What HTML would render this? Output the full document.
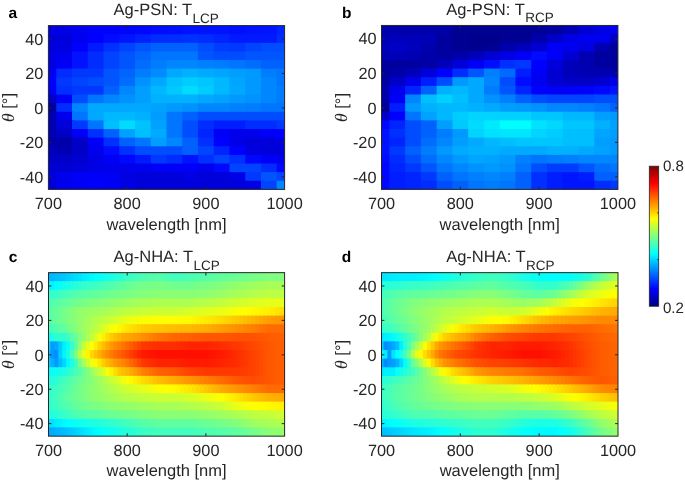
<!DOCTYPE html>
<html><head><meta charset="utf-8"><title>Figure</title>
<style>
html,body{margin:0;padding:0;background:#fff;overflow:hidden;width:685px;height:481px}
svg{display:block}
text{font-family:"Liberation Sans",Arial,Helvetica,sans-serif;fill:#262626;text-rendering:geometricPrecision}
.tk{font-size:16.3px}
.lb{font-size:16.5px}
.sb{font-size:13.5px}
.cbl{font-size:15.1px}
.lt{font-size:15.5px;font-weight:bold;fill:#000}
.th{font-family:"Liberation Serif",serif;font-style:italic;font-size:17.5px}
</style></head><body>
<svg width="685" height="481" viewBox="0 0 685 481">
<rect width="685" height="481" fill="#fff"/>
<rect x="48.40" y="25.60" width="9.87" height="9.82" fill="#0000e2"/>
<rect x="56.27" y="25.60" width="17.75" height="9.82" fill="#0000e6"/>
<rect x="72.02" y="25.60" width="17.75" height="9.82" fill="#0000f1"/>
<rect x="87.77" y="25.60" width="17.75" height="9.82" fill="#0000fb"/>
<rect x="103.51" y="25.60" width="17.75" height="9.82" fill="#0000ff"/>
<rect x="119.26" y="25.60" width="17.75" height="9.82" fill="#0004ff"/>
<rect x="135.01" y="25.60" width="17.75" height="9.82" fill="#0007ff"/>
<rect x="150.75" y="25.60" width="17.75" height="9.82" fill="#000bff"/>
<rect x="166.50" y="25.60" width="17.75" height="9.82" fill="#000eff"/>
<rect x="182.25" y="25.60" width="49.24" height="9.82" fill="#0012ff"/>
<rect x="229.49" y="25.60" width="17.75" height="9.82" fill="#000eff"/>
<rect x="245.23" y="25.60" width="17.75" height="9.82" fill="#0012ff"/>
<rect x="260.98" y="25.60" width="17.75" height="9.82" fill="#0015ff"/>
<rect x="276.73" y="25.60" width="7.87" height="9.82" fill="#0024ff"/>
<rect x="48.40" y="34.22" width="9.87" height="9.82" fill="#0000db"/>
<rect x="56.27" y="34.22" width="17.75" height="9.82" fill="#0000df"/>
<rect x="72.02" y="34.22" width="17.75" height="9.82" fill="#0000f1"/>
<rect x="87.77" y="34.22" width="17.75" height="9.82" fill="#0000ff"/>
<rect x="103.51" y="34.22" width="17.75" height="9.82" fill="#000bff"/>
<rect x="119.26" y="34.22" width="17.75" height="9.82" fill="#0015ff"/>
<rect x="135.01" y="34.22" width="17.75" height="9.82" fill="#0020ff"/>
<rect x="150.75" y="34.22" width="33.49" height="9.82" fill="#002cff"/>
<rect x="182.25" y="34.22" width="17.75" height="9.82" fill="#0030ff"/>
<rect x="197.99" y="34.22" width="17.75" height="9.82" fill="#002cff"/>
<rect x="213.74" y="34.22" width="17.75" height="9.82" fill="#0024ff"/>
<rect x="229.49" y="34.22" width="49.24" height="9.82" fill="#0019ff"/>
<rect x="276.73" y="34.22" width="7.87" height="9.82" fill="#002cff"/>
<rect x="48.40" y="42.84" width="9.87" height="9.82" fill="#0000db"/>
<rect x="56.27" y="42.84" width="17.75" height="9.82" fill="#0000df"/>
<rect x="72.02" y="42.84" width="17.75" height="9.82" fill="#0000fb"/>
<rect x="87.77" y="42.84" width="17.75" height="9.82" fill="#0019ff"/>
<rect x="103.51" y="42.84" width="17.75" height="9.82" fill="#0030ff"/>
<rect x="119.26" y="42.84" width="17.75" height="9.82" fill="#0044ff"/>
<rect x="135.01" y="42.84" width="17.75" height="9.82" fill="#0055ff"/>
<rect x="150.75" y="42.84" width="49.24" height="9.82" fill="#0061ff"/>
<rect x="197.99" y="42.84" width="17.75" height="9.82" fill="#004dff"/>
<rect x="213.74" y="42.84" width="17.75" height="9.82" fill="#003cff"/>
<rect x="229.49" y="42.84" width="17.75" height="9.82" fill="#0038ff"/>
<rect x="245.23" y="42.84" width="17.75" height="9.82" fill="#0044ff"/>
<rect x="260.98" y="42.84" width="23.62" height="9.82" fill="#004dff"/>
<rect x="48.40" y="51.46" width="9.87" height="9.82" fill="#0000e2"/>
<rect x="56.27" y="51.46" width="17.75" height="9.82" fill="#0000f1"/>
<rect x="72.02" y="51.46" width="17.75" height="9.82" fill="#0012ff"/>
<rect x="87.77" y="51.46" width="17.75" height="9.82" fill="#002cff"/>
<rect x="103.51" y="51.46" width="17.75" height="9.82" fill="#0044ff"/>
<rect x="119.26" y="51.46" width="17.75" height="9.82" fill="#0055ff"/>
<rect x="135.01" y="51.46" width="17.75" height="9.82" fill="#0065ff"/>
<rect x="150.75" y="51.46" width="49.24" height="9.82" fill="#0075ff"/>
<rect x="197.99" y="51.46" width="17.75" height="9.82" fill="#0055ff"/>
<rect x="213.74" y="51.46" width="33.49" height="9.82" fill="#004dff"/>
<rect x="245.23" y="51.46" width="39.37" height="9.82" fill="#0055ff"/>
<rect x="48.40" y="60.08" width="9.87" height="9.82" fill="#0000e2"/>
<rect x="56.27" y="60.08" width="17.75" height="9.82" fill="#0000f8"/>
<rect x="72.02" y="60.08" width="17.75" height="9.82" fill="#0012ff"/>
<rect x="87.77" y="60.08" width="17.75" height="9.82" fill="#002cff"/>
<rect x="103.51" y="60.08" width="17.75" height="9.82" fill="#0044ff"/>
<rect x="119.26" y="60.08" width="17.75" height="9.82" fill="#0055ff"/>
<rect x="135.01" y="60.08" width="17.75" height="9.82" fill="#006dff"/>
<rect x="150.75" y="60.08" width="17.75" height="9.82" fill="#007cff"/>
<rect x="166.50" y="60.08" width="33.49" height="9.82" fill="#0087ff"/>
<rect x="197.99" y="60.08" width="17.75" height="9.82" fill="#0080ff"/>
<rect x="213.74" y="60.08" width="17.75" height="9.82" fill="#007cff"/>
<rect x="229.49" y="60.08" width="17.75" height="9.82" fill="#0075ff"/>
<rect x="245.23" y="60.08" width="17.75" height="9.82" fill="#006dff"/>
<rect x="260.98" y="60.08" width="23.62" height="9.82" fill="#0061ff"/>
<rect x="48.40" y="68.71" width="9.87" height="9.82" fill="#0000f8"/>
<rect x="56.27" y="68.71" width="17.75" height="9.82" fill="#002cff"/>
<rect x="72.02" y="68.71" width="33.49" height="9.82" fill="#0038ff"/>
<rect x="103.51" y="68.71" width="17.75" height="9.82" fill="#0055ff"/>
<rect x="119.26" y="68.71" width="17.75" height="9.82" fill="#0065ff"/>
<rect x="135.01" y="68.71" width="17.75" height="9.82" fill="#007cff"/>
<rect x="150.75" y="68.71" width="17.75" height="9.82" fill="#008bff"/>
<rect x="166.50" y="68.71" width="17.75" height="9.82" fill="#00a8ff"/>
<rect x="182.25" y="68.71" width="17.75" height="9.82" fill="#00b1ff"/>
<rect x="197.99" y="68.71" width="17.75" height="9.82" fill="#00abff"/>
<rect x="213.74" y="68.71" width="17.75" height="9.82" fill="#00a5ff"/>
<rect x="229.49" y="68.71" width="17.75" height="9.82" fill="#009fff"/>
<rect x="245.23" y="68.71" width="17.75" height="9.82" fill="#0099ff"/>
<rect x="260.98" y="68.71" width="17.75" height="9.82" fill="#007cff"/>
<rect x="276.73" y="68.71" width="7.87" height="9.82" fill="#0075ff"/>
<rect x="48.40" y="77.33" width="9.87" height="9.82" fill="#0000ff"/>
<rect x="56.27" y="77.33" width="17.75" height="9.82" fill="#0038ff"/>
<rect x="72.02" y="77.33" width="17.75" height="9.82" fill="#0044ff"/>
<rect x="87.77" y="77.33" width="17.75" height="9.82" fill="#004dff"/>
<rect x="103.51" y="77.33" width="17.75" height="9.82" fill="#0055ff"/>
<rect x="119.26" y="77.33" width="17.75" height="9.82" fill="#006dff"/>
<rect x="135.01" y="77.33" width="17.75" height="9.82" fill="#0092ff"/>
<rect x="150.75" y="77.33" width="17.75" height="9.82" fill="#00a8ff"/>
<rect x="166.50" y="77.33" width="17.75" height="9.82" fill="#00c2ff"/>
<rect x="182.25" y="77.33" width="17.75" height="9.82" fill="#00cdff"/>
<rect x="197.99" y="77.33" width="17.75" height="9.82" fill="#00c6ff"/>
<rect x="213.74" y="77.33" width="17.75" height="9.82" fill="#00b8ff"/>
<rect x="229.49" y="77.33" width="17.75" height="9.82" fill="#00a5ff"/>
<rect x="245.23" y="77.33" width="17.75" height="9.82" fill="#0099ff"/>
<rect x="260.98" y="77.33" width="17.75" height="9.82" fill="#0087ff"/>
<rect x="276.73" y="77.33" width="7.87" height="9.82" fill="#0075ff"/>
<rect x="48.40" y="85.95" width="9.87" height="9.82" fill="#0000f8"/>
<rect x="56.27" y="85.95" width="17.75" height="9.82" fill="#0030ff"/>
<rect x="72.02" y="85.95" width="33.49" height="9.82" fill="#0038ff"/>
<rect x="103.51" y="85.95" width="17.75" height="9.82" fill="#0061ff"/>
<rect x="119.26" y="85.95" width="17.75" height="9.82" fill="#0087ff"/>
<rect x="135.01" y="85.95" width="17.75" height="9.82" fill="#009fff"/>
<rect x="150.75" y="85.95" width="17.75" height="9.82" fill="#00b8ff"/>
<rect x="166.50" y="85.95" width="17.75" height="9.82" fill="#00c9ff"/>
<rect x="182.25" y="85.95" width="17.75" height="9.82" fill="#00dbff"/>
<rect x="197.99" y="85.95" width="17.75" height="9.82" fill="#00cdff"/>
<rect x="213.74" y="85.95" width="17.75" height="9.82" fill="#00b8ff"/>
<rect x="229.49" y="85.95" width="17.75" height="9.82" fill="#00a8ff"/>
<rect x="245.23" y="85.95" width="17.75" height="9.82" fill="#0099ff"/>
<rect x="260.98" y="85.95" width="17.75" height="9.82" fill="#0087ff"/>
<rect x="276.73" y="85.95" width="7.87" height="9.82" fill="#007cff"/>
<rect x="48.40" y="94.57" width="9.87" height="9.82" fill="#0000c7"/>
<rect x="56.27" y="94.57" width="17.75" height="9.82" fill="#0000f8"/>
<rect x="72.02" y="94.57" width="17.75" height="9.82" fill="#004dff"/>
<rect x="87.77" y="94.57" width="17.75" height="9.82" fill="#0075ff"/>
<rect x="103.51" y="94.57" width="17.75" height="9.82" fill="#0087ff"/>
<rect x="119.26" y="94.57" width="17.75" height="9.82" fill="#0092ff"/>
<rect x="135.01" y="94.57" width="17.75" height="9.82" fill="#009fff"/>
<rect x="150.75" y="94.57" width="49.24" height="9.82" fill="#00b1ff"/>
<rect x="197.99" y="94.57" width="17.75" height="9.82" fill="#00a8ff"/>
<rect x="213.74" y="94.57" width="17.75" height="9.82" fill="#00a2ff"/>
<rect x="229.49" y="94.57" width="17.75" height="9.82" fill="#0099ff"/>
<rect x="245.23" y="94.57" width="17.75" height="9.82" fill="#0092ff"/>
<rect x="260.98" y="94.57" width="17.75" height="9.82" fill="#0087ff"/>
<rect x="276.73" y="94.57" width="7.87" height="9.82" fill="#007cff"/>
<rect x="48.40" y="103.19" width="9.87" height="9.82" fill="#00009e"/>
<rect x="56.27" y="103.19" width="17.75" height="9.82" fill="#002cff"/>
<rect x="72.02" y="103.19" width="17.75" height="9.82" fill="#0087ff"/>
<rect x="87.77" y="103.19" width="64.99" height="9.82" fill="#00a8ff"/>
<rect x="150.75" y="103.19" width="17.75" height="9.82" fill="#00a2ff"/>
<rect x="166.50" y="103.19" width="17.75" height="9.82" fill="#0099ff"/>
<rect x="182.25" y="103.19" width="17.75" height="9.82" fill="#0092ff"/>
<rect x="197.99" y="103.19" width="33.49" height="9.82" fill="#0087ff"/>
<rect x="229.49" y="103.19" width="17.75" height="9.82" fill="#0080ff"/>
<rect x="245.23" y="103.19" width="17.75" height="9.82" fill="#007cff"/>
<rect x="260.98" y="103.19" width="23.62" height="9.82" fill="#0075ff"/>
<rect x="48.40" y="111.81" width="9.87" height="9.82" fill="#0000b2"/>
<rect x="56.27" y="111.81" width="17.75" height="9.82" fill="#0000ed"/>
<rect x="72.02" y="111.81" width="17.75" height="9.82" fill="#0075ff"/>
<rect x="87.77" y="111.81" width="17.75" height="9.82" fill="#00a8ff"/>
<rect x="103.51" y="111.81" width="33.49" height="9.82" fill="#00b8ff"/>
<rect x="135.01" y="111.81" width="17.75" height="9.82" fill="#00b1ff"/>
<rect x="150.75" y="111.81" width="17.75" height="9.82" fill="#009cff"/>
<rect x="166.50" y="111.81" width="17.75" height="9.82" fill="#0075ff"/>
<rect x="182.25" y="111.81" width="17.75" height="9.82" fill="#0061ff"/>
<rect x="197.99" y="111.81" width="86.61" height="9.82" fill="#004dff"/>
<rect x="48.40" y="120.43" width="9.87" height="9.82" fill="#0000b2"/>
<rect x="56.27" y="120.43" width="17.75" height="9.82" fill="#0000db"/>
<rect x="72.02" y="120.43" width="17.75" height="9.82" fill="#0038ff"/>
<rect x="87.77" y="120.43" width="17.75" height="9.82" fill="#0075ff"/>
<rect x="103.51" y="120.43" width="17.75" height="9.82" fill="#00bfff"/>
<rect x="119.26" y="120.43" width="17.75" height="9.82" fill="#00dbff"/>
<rect x="135.01" y="120.43" width="17.75" height="9.82" fill="#00c2ff"/>
<rect x="150.75" y="120.43" width="17.75" height="9.82" fill="#00a2ff"/>
<rect x="166.50" y="120.43" width="17.75" height="9.82" fill="#0075ff"/>
<rect x="182.25" y="120.43" width="17.75" height="9.82" fill="#004dff"/>
<rect x="197.99" y="120.43" width="17.75" height="9.82" fill="#002cff"/>
<rect x="213.74" y="120.43" width="33.49" height="9.82" fill="#001dff"/>
<rect x="245.23" y="120.43" width="33.49" height="9.82" fill="#002cff"/>
<rect x="276.73" y="120.43" width="7.87" height="9.82" fill="#0038ff"/>
<rect x="48.40" y="129.05" width="9.87" height="9.82" fill="#0000b2"/>
<rect x="56.27" y="129.05" width="17.75" height="9.82" fill="#0000c7"/>
<rect x="72.02" y="129.05" width="17.75" height="9.82" fill="#0000f8"/>
<rect x="87.77" y="129.05" width="17.75" height="9.82" fill="#0030ff"/>
<rect x="103.51" y="129.05" width="17.75" height="9.82" fill="#0061ff"/>
<rect x="119.26" y="129.05" width="17.75" height="9.82" fill="#00a2ff"/>
<rect x="135.01" y="129.05" width="17.75" height="9.82" fill="#00bfff"/>
<rect x="150.75" y="129.05" width="17.75" height="9.82" fill="#00abff"/>
<rect x="166.50" y="129.05" width="17.75" height="9.82" fill="#0075ff"/>
<rect x="182.25" y="129.05" width="17.75" height="9.82" fill="#004dff"/>
<rect x="197.99" y="129.05" width="17.75" height="9.82" fill="#0024ff"/>
<rect x="213.74" y="129.05" width="17.75" height="9.82" fill="#0000f8"/>
<rect x="229.49" y="129.05" width="33.49" height="9.82" fill="#0000ed"/>
<rect x="260.98" y="129.05" width="17.75" height="9.82" fill="#0000f8"/>
<rect x="276.73" y="129.05" width="7.87" height="9.82" fill="#0000ff"/>
<rect x="48.40" y="137.67" width="25.62" height="9.82" fill="#0000aa"/>
<rect x="72.02" y="137.67" width="17.75" height="9.82" fill="#0000c7"/>
<rect x="87.77" y="137.67" width="17.75" height="9.82" fill="#0000f8"/>
<rect x="103.51" y="137.67" width="17.75" height="9.82" fill="#0030ff"/>
<rect x="119.26" y="137.67" width="17.75" height="9.82" fill="#0061ff"/>
<rect x="135.01" y="137.67" width="17.75" height="9.82" fill="#0075ff"/>
<rect x="150.75" y="137.67" width="17.75" height="9.82" fill="#009fff"/>
<rect x="166.50" y="137.67" width="17.75" height="9.82" fill="#0087ff"/>
<rect x="182.25" y="137.67" width="17.75" height="9.82" fill="#0061ff"/>
<rect x="197.99" y="137.67" width="17.75" height="9.82" fill="#0030ff"/>
<rect x="213.74" y="137.67" width="17.75" height="9.82" fill="#0000ff"/>
<rect x="229.49" y="137.67" width="17.75" height="9.82" fill="#0000e6"/>
<rect x="245.23" y="137.67" width="33.49" height="9.82" fill="#0000db"/>
<rect x="276.73" y="137.67" width="7.87" height="9.82" fill="#0000e6"/>
<rect x="48.40" y="146.29" width="9.87" height="9.82" fill="#0000bb"/>
<rect x="56.27" y="146.29" width="17.75" height="9.82" fill="#0000b2"/>
<rect x="72.02" y="146.29" width="17.75" height="9.82" fill="#0000c7"/>
<rect x="87.77" y="146.29" width="17.75" height="9.82" fill="#0000ed"/>
<rect x="103.51" y="146.29" width="17.75" height="9.82" fill="#000bff"/>
<rect x="119.26" y="146.29" width="17.75" height="9.82" fill="#0030ff"/>
<rect x="135.01" y="146.29" width="49.24" height="9.82" fill="#004dff"/>
<rect x="182.25" y="146.29" width="17.75" height="9.82" fill="#0061ff"/>
<rect x="197.99" y="146.29" width="17.75" height="9.82" fill="#0044ff"/>
<rect x="213.74" y="146.29" width="17.75" height="9.82" fill="#0024ff"/>
<rect x="229.49" y="146.29" width="17.75" height="9.82" fill="#0000ff"/>
<rect x="245.23" y="146.29" width="17.75" height="9.82" fill="#0000e2"/>
<rect x="260.98" y="146.29" width="23.62" height="9.82" fill="#0000db"/>
<rect x="48.40" y="154.92" width="25.62" height="9.82" fill="#0000c7"/>
<rect x="72.02" y="154.92" width="17.75" height="9.82" fill="#0000cf"/>
<rect x="87.77" y="154.92" width="17.75" height="9.82" fill="#0000e6"/>
<rect x="103.51" y="154.92" width="17.75" height="9.82" fill="#0000f4"/>
<rect x="119.26" y="154.92" width="17.75" height="9.82" fill="#0007ff"/>
<rect x="135.01" y="154.92" width="17.75" height="9.82" fill="#0019ff"/>
<rect x="150.75" y="154.92" width="17.75" height="9.82" fill="#0038ff"/>
<rect x="166.50" y="154.92" width="17.75" height="9.82" fill="#002cff"/>
<rect x="182.25" y="154.92" width="17.75" height="9.82" fill="#0012ff"/>
<rect x="197.99" y="154.92" width="17.75" height="9.82" fill="#0030ff"/>
<rect x="213.74" y="154.92" width="17.75" height="9.82" fill="#0044ff"/>
<rect x="229.49" y="154.92" width="17.75" height="9.82" fill="#0030ff"/>
<rect x="245.23" y="154.92" width="17.75" height="9.82" fill="#0007ff"/>
<rect x="260.98" y="154.92" width="17.75" height="9.82" fill="#0000f8"/>
<rect x="276.73" y="154.92" width="7.87" height="9.82" fill="#0000ed"/>
<rect x="48.40" y="163.54" width="25.62" height="9.82" fill="#0000d3"/>
<rect x="72.02" y="163.54" width="17.75" height="9.82" fill="#0000db"/>
<rect x="87.77" y="163.54" width="17.75" height="9.82" fill="#0000e2"/>
<rect x="103.51" y="163.54" width="33.49" height="9.82" fill="#0000ea"/>
<rect x="135.01" y="163.54" width="17.75" height="9.82" fill="#0000ed"/>
<rect x="150.75" y="163.54" width="49.24" height="9.82" fill="#0000f8"/>
<rect x="197.99" y="163.54" width="17.75" height="9.82" fill="#0000ed"/>
<rect x="213.74" y="163.54" width="17.75" height="9.82" fill="#0007ff"/>
<rect x="229.49" y="163.54" width="33.49" height="9.82" fill="#0044ff"/>
<rect x="260.98" y="163.54" width="17.75" height="9.82" fill="#002cff"/>
<rect x="276.73" y="163.54" width="7.87" height="9.82" fill="#0007ff"/>
<rect x="48.40" y="172.16" width="9.87" height="9.82" fill="#0000db"/>
<rect x="56.27" y="172.16" width="17.75" height="9.82" fill="#0000ed"/>
<rect x="72.02" y="172.16" width="33.49" height="9.82" fill="#0000f8"/>
<rect x="103.51" y="172.16" width="17.75" height="9.82" fill="#0000f4"/>
<rect x="119.26" y="172.16" width="17.75" height="9.82" fill="#0000e2"/>
<rect x="135.01" y="172.16" width="49.24" height="9.82" fill="#0000db"/>
<rect x="182.25" y="172.16" width="17.75" height="9.82" fill="#0000e2"/>
<rect x="197.99" y="172.16" width="33.49" height="9.82" fill="#0000db"/>
<rect x="229.49" y="172.16" width="17.75" height="9.82" fill="#0000e6"/>
<rect x="245.23" y="172.16" width="17.75" height="9.82" fill="#0038ff"/>
<rect x="260.98" y="172.16" width="17.75" height="9.82" fill="#0055ff"/>
<rect x="276.73" y="172.16" width="7.87" height="9.82" fill="#0044ff"/>
<rect x="48.40" y="180.78" width="9.87" height="8.62" fill="#0000db"/>
<rect x="56.27" y="180.78" width="17.75" height="8.62" fill="#0000ed"/>
<rect x="72.02" y="180.78" width="17.75" height="8.62" fill="#0000f8"/>
<rect x="87.77" y="180.78" width="17.75" height="8.62" fill="#0000ff"/>
<rect x="103.51" y="180.78" width="17.75" height="8.62" fill="#0000f8"/>
<rect x="119.26" y="180.78" width="17.75" height="8.62" fill="#0000e6"/>
<rect x="135.01" y="180.78" width="112.23" height="8.62" fill="#0000db"/>
<rect x="245.23" y="180.78" width="17.75" height="8.62" fill="#0000e6"/>
<rect x="260.98" y="180.78" width="17.75" height="8.62" fill="#0044ff"/>
<rect x="276.73" y="180.78" width="7.87" height="8.62" fill="#0087ff"/>
<rect x="381.50" y="25.45" width="57.16" height="9.83" fill="#0000aa"/>
<rect x="436.66" y="25.45" width="17.76" height="9.83" fill="#0000a6"/>
<rect x="452.42" y="25.45" width="80.80" height="9.83" fill="#000092"/>
<rect x="531.22" y="25.45" width="17.76" height="9.83" fill="#000096"/>
<rect x="546.98" y="25.45" width="17.76" height="9.83" fill="#00009e"/>
<rect x="562.74" y="25.45" width="17.76" height="9.83" fill="#0000b2"/>
<rect x="578.50" y="25.45" width="17.76" height="9.83" fill="#0000d3"/>
<rect x="594.26" y="25.45" width="17.76" height="9.83" fill="#0000e2"/>
<rect x="610.02" y="25.45" width="7.88" height="9.83" fill="#0000f8"/>
<rect x="381.50" y="34.08" width="9.88" height="9.83" fill="#0000b2"/>
<rect x="389.38" y="34.08" width="33.52" height="9.83" fill="#0000bb"/>
<rect x="420.90" y="34.08" width="17.76" height="9.83" fill="#0000b7"/>
<rect x="436.66" y="34.08" width="17.76" height="9.83" fill="#00009e"/>
<rect x="452.42" y="34.08" width="17.76" height="9.83" fill="#000092"/>
<rect x="468.18" y="34.08" width="33.52" height="9.83" fill="#00008e"/>
<rect x="499.70" y="34.08" width="33.52" height="9.83" fill="#000092"/>
<rect x="531.22" y="34.08" width="17.76" height="9.83" fill="#0000aa"/>
<rect x="546.98" y="34.08" width="17.76" height="9.83" fill="#0000c7"/>
<rect x="562.74" y="34.08" width="17.76" height="9.83" fill="#0000e6"/>
<rect x="578.50" y="34.08" width="33.52" height="9.83" fill="#0000f1"/>
<rect x="610.02" y="34.08" width="7.88" height="9.83" fill="#0000c7"/>
<rect x="381.50" y="42.71" width="9.88" height="9.83" fill="#0000bb"/>
<rect x="389.38" y="42.71" width="17.76" height="9.83" fill="#0000c7"/>
<rect x="405.14" y="42.71" width="17.76" height="9.83" fill="#0000bf"/>
<rect x="420.90" y="42.71" width="17.76" height="9.83" fill="#0000ae"/>
<rect x="436.66" y="42.71" width="17.76" height="9.83" fill="#00009e"/>
<rect x="452.42" y="42.71" width="17.76" height="9.83" fill="#000092"/>
<rect x="468.18" y="42.71" width="17.76" height="9.83" fill="#00008e"/>
<rect x="483.94" y="42.71" width="17.76" height="9.83" fill="#000092"/>
<rect x="499.70" y="42.71" width="17.76" height="9.83" fill="#0000aa"/>
<rect x="515.46" y="42.71" width="17.76" height="9.83" fill="#0000bb"/>
<rect x="531.22" y="42.71" width="17.76" height="9.83" fill="#0000d3"/>
<rect x="546.98" y="42.71" width="17.76" height="9.83" fill="#0000f8"/>
<rect x="562.74" y="42.71" width="17.76" height="9.83" fill="#0000f1"/>
<rect x="578.50" y="42.71" width="17.76" height="9.83" fill="#0000e2"/>
<rect x="594.26" y="42.71" width="17.76" height="9.83" fill="#0000b2"/>
<rect x="610.02" y="42.71" width="7.88" height="9.83" fill="#00009e"/>
<rect x="381.50" y="51.34" width="9.88" height="9.83" fill="#0000b2"/>
<rect x="389.38" y="51.34" width="17.76" height="9.83" fill="#0000bb"/>
<rect x="405.14" y="51.34" width="17.76" height="9.83" fill="#0000b2"/>
<rect x="420.90" y="51.34" width="17.76" height="9.83" fill="#0000aa"/>
<rect x="436.66" y="51.34" width="17.76" height="9.83" fill="#0000a2"/>
<rect x="452.42" y="51.34" width="17.76" height="9.83" fill="#0000aa"/>
<rect x="468.18" y="51.34" width="17.76" height="9.83" fill="#0000bb"/>
<rect x="483.94" y="51.34" width="17.76" height="9.83" fill="#0000d3"/>
<rect x="499.70" y="51.34" width="17.76" height="9.83" fill="#0000e6"/>
<rect x="515.46" y="51.34" width="17.76" height="9.83" fill="#0000f8"/>
<rect x="531.22" y="51.34" width="17.76" height="9.83" fill="#000bff"/>
<rect x="546.98" y="51.34" width="17.76" height="9.83" fill="#0000f8"/>
<rect x="562.74" y="51.34" width="17.76" height="9.83" fill="#0000d3"/>
<rect x="578.50" y="51.34" width="17.76" height="9.83" fill="#0000b2"/>
<rect x="594.26" y="51.34" width="17.76" height="9.83" fill="#00009e"/>
<rect x="610.02" y="51.34" width="7.88" height="9.83" fill="#00009a"/>
<rect x="381.50" y="59.97" width="25.64" height="9.83" fill="#00009e"/>
<rect x="405.14" y="59.97" width="17.76" height="9.83" fill="#0000a2"/>
<rect x="420.90" y="59.97" width="17.76" height="9.83" fill="#0000a6"/>
<rect x="436.66" y="59.97" width="17.76" height="9.83" fill="#0000bb"/>
<rect x="452.42" y="59.97" width="17.76" height="9.83" fill="#0000db"/>
<rect x="468.18" y="59.97" width="17.76" height="9.83" fill="#0000f8"/>
<rect x="483.94" y="59.97" width="17.76" height="9.83" fill="#000eff"/>
<rect x="499.70" y="59.97" width="17.76" height="9.83" fill="#0030ff"/>
<rect x="515.46" y="59.97" width="17.76" height="9.83" fill="#0038ff"/>
<rect x="531.22" y="59.97" width="17.76" height="9.83" fill="#0000ff"/>
<rect x="546.98" y="59.97" width="17.76" height="9.83" fill="#0000db"/>
<rect x="562.74" y="59.97" width="17.76" height="9.83" fill="#0000bb"/>
<rect x="578.50" y="59.97" width="17.76" height="9.83" fill="#0000b2"/>
<rect x="594.26" y="59.97" width="17.76" height="9.83" fill="#0000a2"/>
<rect x="610.02" y="59.97" width="7.88" height="9.83" fill="#00009a"/>
<rect x="381.50" y="68.59" width="9.88" height="9.83" fill="#00009e"/>
<rect x="389.38" y="68.59" width="17.76" height="9.83" fill="#0000aa"/>
<rect x="405.14" y="68.59" width="17.76" height="9.83" fill="#0000bb"/>
<rect x="420.90" y="68.59" width="17.76" height="9.83" fill="#0000db"/>
<rect x="436.66" y="68.59" width="17.76" height="9.83" fill="#0000ff"/>
<rect x="452.42" y="68.59" width="17.76" height="9.83" fill="#002cff"/>
<rect x="468.18" y="68.59" width="17.76" height="9.83" fill="#0055ff"/>
<rect x="483.94" y="68.59" width="17.76" height="9.83" fill="#0080ff"/>
<rect x="499.70" y="68.59" width="17.76" height="9.83" fill="#0069ff"/>
<rect x="515.46" y="68.59" width="17.76" height="9.83" fill="#001dff"/>
<rect x="531.22" y="68.59" width="17.76" height="9.83" fill="#0000f8"/>
<rect x="546.98" y="68.59" width="17.76" height="9.83" fill="#0000d3"/>
<rect x="562.74" y="68.59" width="17.76" height="9.83" fill="#0000bb"/>
<rect x="578.50" y="68.59" width="39.40" height="9.83" fill="#0000b2"/>
<rect x="381.50" y="77.22" width="9.88" height="9.83" fill="#0000a2"/>
<rect x="389.38" y="77.22" width="17.76" height="9.83" fill="#0000c7"/>
<rect x="405.14" y="77.22" width="17.76" height="9.83" fill="#0000ed"/>
<rect x="420.90" y="77.22" width="17.76" height="9.83" fill="#001dff"/>
<rect x="436.66" y="77.22" width="17.76" height="9.83" fill="#004dff"/>
<rect x="452.42" y="77.22" width="17.76" height="9.83" fill="#0099ff"/>
<rect x="468.18" y="77.22" width="17.76" height="9.83" fill="#00a8ff"/>
<rect x="483.94" y="77.22" width="17.76" height="9.83" fill="#0087ff"/>
<rect x="499.70" y="77.22" width="17.76" height="9.83" fill="#004dff"/>
<rect x="515.46" y="77.22" width="17.76" height="9.83" fill="#000bff"/>
<rect x="531.22" y="77.22" width="17.76" height="9.83" fill="#0000f1"/>
<rect x="546.98" y="77.22" width="17.76" height="9.83" fill="#0000d3"/>
<rect x="562.74" y="77.22" width="33.52" height="9.83" fill="#0000c7"/>
<rect x="594.26" y="77.22" width="17.76" height="9.83" fill="#0000d3"/>
<rect x="610.02" y="77.22" width="7.88" height="9.83" fill="#0000ed"/>
<rect x="381.50" y="85.85" width="9.88" height="9.83" fill="#0000aa"/>
<rect x="389.38" y="85.85" width="17.76" height="9.83" fill="#0000ed"/>
<rect x="405.14" y="85.85" width="17.76" height="9.83" fill="#0024ff"/>
<rect x="420.90" y="85.85" width="17.76" height="9.83" fill="#0061ff"/>
<rect x="436.66" y="85.85" width="17.76" height="9.83" fill="#00b1ff"/>
<rect x="452.42" y="85.85" width="17.76" height="9.83" fill="#00b8ff"/>
<rect x="468.18" y="85.85" width="17.76" height="9.83" fill="#00a8ff"/>
<rect x="483.94" y="85.85" width="17.76" height="9.83" fill="#007cff"/>
<rect x="499.70" y="85.85" width="17.76" height="9.83" fill="#0055ff"/>
<rect x="515.46" y="85.85" width="17.76" height="9.83" fill="#0024ff"/>
<rect x="531.22" y="85.85" width="17.76" height="9.83" fill="#0000ff"/>
<rect x="546.98" y="85.85" width="33.52" height="9.83" fill="#0000f8"/>
<rect x="578.50" y="85.85" width="17.76" height="9.83" fill="#0000ff"/>
<rect x="594.26" y="85.85" width="17.76" height="9.83" fill="#0007ff"/>
<rect x="610.02" y="85.85" width="7.88" height="9.83" fill="#0012ff"/>
<rect x="381.50" y="94.48" width="9.88" height="9.83" fill="#0000aa"/>
<rect x="389.38" y="94.48" width="17.76" height="9.83" fill="#0000f8"/>
<rect x="405.14" y="94.48" width="17.76" height="9.83" fill="#0087ff"/>
<rect x="420.90" y="94.48" width="17.76" height="9.83" fill="#00bfff"/>
<rect x="436.66" y="94.48" width="17.76" height="9.83" fill="#00d1ff"/>
<rect x="452.42" y="94.48" width="17.76" height="9.83" fill="#00bfff"/>
<rect x="468.18" y="94.48" width="17.76" height="9.83" fill="#00a8ff"/>
<rect x="483.94" y="94.48" width="17.76" height="9.83" fill="#0092ff"/>
<rect x="499.70" y="94.48" width="17.76" height="9.83" fill="#0080ff"/>
<rect x="515.46" y="94.48" width="17.76" height="9.83" fill="#0061ff"/>
<rect x="531.22" y="94.48" width="17.76" height="9.83" fill="#004dff"/>
<rect x="546.98" y="94.48" width="49.28" height="9.83" fill="#0044ff"/>
<rect x="594.26" y="94.48" width="23.64" height="9.83" fill="#004dff"/>
<rect x="381.50" y="103.11" width="9.88" height="9.83" fill="#000096"/>
<rect x="389.38" y="103.11" width="17.76" height="9.83" fill="#001dff"/>
<rect x="405.14" y="103.11" width="17.76" height="9.83" fill="#0099ff"/>
<rect x="420.90" y="103.11" width="17.76" height="9.83" fill="#00b1ff"/>
<rect x="436.66" y="103.11" width="33.52" height="9.83" fill="#00b8ff"/>
<rect x="468.18" y="103.11" width="17.76" height="9.83" fill="#00b1ff"/>
<rect x="483.94" y="103.11" width="17.76" height="9.83" fill="#00abff"/>
<rect x="499.70" y="103.11" width="17.76" height="9.83" fill="#009fff"/>
<rect x="515.46" y="103.11" width="17.76" height="9.83" fill="#0099ff"/>
<rect x="531.22" y="103.11" width="17.76" height="9.83" fill="#0092ff"/>
<rect x="546.98" y="103.11" width="33.52" height="9.83" fill="#0087ff"/>
<rect x="578.50" y="103.11" width="17.76" height="9.83" fill="#0080ff"/>
<rect x="594.26" y="103.11" width="17.76" height="9.83" fill="#0075ff"/>
<rect x="610.02" y="103.11" width="7.88" height="9.83" fill="#0061ff"/>
<rect x="381.50" y="111.74" width="9.88" height="9.83" fill="#0000c7"/>
<rect x="389.38" y="111.74" width="17.76" height="9.83" fill="#0000ff"/>
<rect x="405.14" y="111.74" width="17.76" height="9.83" fill="#0075ff"/>
<rect x="420.90" y="111.74" width="17.76" height="9.83" fill="#00a2ff"/>
<rect x="436.66" y="111.74" width="17.76" height="9.83" fill="#00b8ff"/>
<rect x="452.42" y="111.74" width="17.76" height="9.83" fill="#00cdff"/>
<rect x="468.18" y="111.74" width="33.52" height="9.83" fill="#00d4ff"/>
<rect x="499.70" y="111.74" width="33.52" height="9.83" fill="#00d1ff"/>
<rect x="531.22" y="111.74" width="33.52" height="9.83" fill="#00c6ff"/>
<rect x="562.74" y="111.74" width="33.52" height="9.83" fill="#00b8ff"/>
<rect x="594.26" y="111.74" width="17.76" height="9.83" fill="#009fff"/>
<rect x="610.02" y="111.74" width="7.88" height="9.83" fill="#0099ff"/>
<rect x="381.50" y="120.37" width="9.88" height="9.83" fill="#0007ff"/>
<rect x="389.38" y="120.37" width="17.76" height="9.83" fill="#0024ff"/>
<rect x="405.14" y="120.37" width="17.76" height="9.83" fill="#004dff"/>
<rect x="420.90" y="120.37" width="17.76" height="9.83" fill="#0061ff"/>
<rect x="436.66" y="120.37" width="17.76" height="9.83" fill="#009fff"/>
<rect x="452.42" y="120.37" width="17.76" height="9.83" fill="#00c9ff"/>
<rect x="468.18" y="120.37" width="17.76" height="9.83" fill="#00dbff"/>
<rect x="483.94" y="120.37" width="17.76" height="9.83" fill="#00eaff"/>
<rect x="499.70" y="120.37" width="33.52" height="9.83" fill="#00fdff"/>
<rect x="531.22" y="120.37" width="17.76" height="9.83" fill="#00e2ff"/>
<rect x="546.98" y="120.37" width="17.76" height="9.83" fill="#00d8ff"/>
<rect x="562.74" y="120.37" width="33.52" height="9.83" fill="#00c6ff"/>
<rect x="594.26" y="120.37" width="17.76" height="9.83" fill="#00b1ff"/>
<rect x="610.02" y="120.37" width="7.88" height="9.83" fill="#00a2ff"/>
<rect x="381.50" y="129.00" width="9.88" height="9.83" fill="#0012ff"/>
<rect x="389.38" y="129.00" width="17.76" height="9.83" fill="#0030ff"/>
<rect x="405.14" y="129.00" width="17.76" height="9.83" fill="#004dff"/>
<rect x="420.90" y="129.00" width="17.76" height="9.83" fill="#0061ff"/>
<rect x="436.66" y="129.00" width="17.76" height="9.83" fill="#007cff"/>
<rect x="452.42" y="129.00" width="17.76" height="9.83" fill="#0099ff"/>
<rect x="468.18" y="129.00" width="17.76" height="9.83" fill="#00d4ff"/>
<rect x="483.94" y="129.00" width="17.76" height="9.83" fill="#00e2ff"/>
<rect x="499.70" y="129.00" width="33.52" height="9.83" fill="#00e6ff"/>
<rect x="531.22" y="129.00" width="17.76" height="9.83" fill="#00d4ff"/>
<rect x="546.98" y="129.00" width="17.76" height="9.83" fill="#00cdff"/>
<rect x="562.74" y="129.00" width="33.52" height="9.83" fill="#00bfff"/>
<rect x="594.26" y="129.00" width="17.76" height="9.83" fill="#00a5ff"/>
<rect x="610.02" y="129.00" width="7.88" height="9.83" fill="#009fff"/>
<rect x="381.50" y="137.63" width="9.88" height="9.83" fill="#0012ff"/>
<rect x="389.38" y="137.63" width="17.76" height="9.83" fill="#0024ff"/>
<rect x="405.14" y="137.63" width="17.76" height="9.83" fill="#004dff"/>
<rect x="420.90" y="137.63" width="17.76" height="9.83" fill="#006dff"/>
<rect x="436.66" y="137.63" width="17.76" height="9.83" fill="#0087ff"/>
<rect x="452.42" y="137.63" width="17.76" height="9.83" fill="#009fff"/>
<rect x="468.18" y="137.63" width="17.76" height="9.83" fill="#00abff"/>
<rect x="483.94" y="137.63" width="17.76" height="9.83" fill="#00b8ff"/>
<rect x="499.70" y="137.63" width="17.76" height="9.83" fill="#00bfff"/>
<rect x="515.46" y="137.63" width="49.28" height="9.83" fill="#00c6ff"/>
<rect x="562.74" y="137.63" width="33.52" height="9.83" fill="#00bfff"/>
<rect x="594.26" y="137.63" width="17.76" height="9.83" fill="#009fff"/>
<rect x="610.02" y="137.63" width="7.88" height="9.83" fill="#0099ff"/>
<rect x="381.50" y="146.26" width="9.88" height="9.83" fill="#0012ff"/>
<rect x="389.38" y="146.26" width="17.76" height="9.83" fill="#0038ff"/>
<rect x="405.14" y="146.26" width="17.76" height="9.83" fill="#0061ff"/>
<rect x="420.90" y="146.26" width="17.76" height="9.83" fill="#007cff"/>
<rect x="436.66" y="146.26" width="17.76" height="9.83" fill="#0099ff"/>
<rect x="452.42" y="146.26" width="17.76" height="9.83" fill="#00abff"/>
<rect x="468.18" y="146.26" width="33.52" height="9.83" fill="#00b1ff"/>
<rect x="499.70" y="146.26" width="49.28" height="9.83" fill="#00abff"/>
<rect x="546.98" y="146.26" width="33.52" height="9.83" fill="#00b1ff"/>
<rect x="578.50" y="146.26" width="17.76" height="9.83" fill="#00abff"/>
<rect x="594.26" y="146.26" width="17.76" height="9.83" fill="#00a2ff"/>
<rect x="610.02" y="146.26" width="7.88" height="9.83" fill="#0099ff"/>
<rect x="381.50" y="154.88" width="9.88" height="9.83" fill="#000bff"/>
<rect x="389.38" y="154.88" width="17.76" height="9.83" fill="#002cff"/>
<rect x="405.14" y="154.88" width="17.76" height="9.83" fill="#004dff"/>
<rect x="420.90" y="154.88" width="17.76" height="9.83" fill="#006dff"/>
<rect x="436.66" y="154.88" width="17.76" height="9.83" fill="#0087ff"/>
<rect x="452.42" y="154.88" width="17.76" height="9.83" fill="#0099ff"/>
<rect x="468.18" y="154.88" width="17.76" height="9.83" fill="#00a5ff"/>
<rect x="483.94" y="154.88" width="17.76" height="9.83" fill="#00a2ff"/>
<rect x="499.70" y="154.88" width="17.76" height="9.83" fill="#0099ff"/>
<rect x="515.46" y="154.88" width="17.76" height="9.83" fill="#0080ff"/>
<rect x="531.22" y="154.88" width="17.76" height="9.83" fill="#0075ff"/>
<rect x="546.98" y="154.88" width="17.76" height="9.83" fill="#007cff"/>
<rect x="562.74" y="154.88" width="17.76" height="9.83" fill="#0080ff"/>
<rect x="578.50" y="154.88" width="39.40" height="9.83" fill="#0087ff"/>
<rect x="381.50" y="163.51" width="9.88" height="9.83" fill="#0007ff"/>
<rect x="389.38" y="163.51" width="17.76" height="9.83" fill="#0024ff"/>
<rect x="405.14" y="163.51" width="17.76" height="9.83" fill="#0038ff"/>
<rect x="420.90" y="163.51" width="17.76" height="9.83" fill="#0055ff"/>
<rect x="436.66" y="163.51" width="17.76" height="9.83" fill="#0075ff"/>
<rect x="452.42" y="163.51" width="17.76" height="9.83" fill="#0087ff"/>
<rect x="468.18" y="163.51" width="17.76" height="9.83" fill="#0092ff"/>
<rect x="483.94" y="163.51" width="17.76" height="9.83" fill="#0099ff"/>
<rect x="499.70" y="163.51" width="17.76" height="9.83" fill="#0092ff"/>
<rect x="515.46" y="163.51" width="17.76" height="9.83" fill="#0075ff"/>
<rect x="531.22" y="163.51" width="17.76" height="9.83" fill="#004dff"/>
<rect x="546.98" y="163.51" width="33.52" height="9.83" fill="#003cff"/>
<rect x="578.50" y="163.51" width="17.76" height="9.83" fill="#0055ff"/>
<rect x="594.26" y="163.51" width="17.76" height="9.83" fill="#006dff"/>
<rect x="610.02" y="163.51" width="7.88" height="9.83" fill="#0075ff"/>
<rect x="381.50" y="172.14" width="9.88" height="9.83" fill="#0007ff"/>
<rect x="389.38" y="172.14" width="17.76" height="9.83" fill="#001dff"/>
<rect x="405.14" y="172.14" width="17.76" height="9.83" fill="#0024ff"/>
<rect x="420.90" y="172.14" width="17.76" height="9.83" fill="#0038ff"/>
<rect x="436.66" y="172.14" width="17.76" height="9.83" fill="#0061ff"/>
<rect x="452.42" y="172.14" width="17.76" height="9.83" fill="#0075ff"/>
<rect x="468.18" y="172.14" width="17.76" height="9.83" fill="#0080ff"/>
<rect x="483.94" y="172.14" width="17.76" height="9.83" fill="#0087ff"/>
<rect x="499.70" y="172.14" width="17.76" height="9.83" fill="#0080ff"/>
<rect x="515.46" y="172.14" width="17.76" height="9.83" fill="#0061ff"/>
<rect x="531.22" y="172.14" width="17.76" height="9.83" fill="#0030ff"/>
<rect x="546.98" y="172.14" width="17.76" height="9.83" fill="#001dff"/>
<rect x="562.74" y="172.14" width="17.76" height="9.83" fill="#0015ff"/>
<rect x="578.50" y="172.14" width="17.76" height="9.83" fill="#001dff"/>
<rect x="594.26" y="172.14" width="23.64" height="9.83" fill="#0061ff"/>
<rect x="381.50" y="180.77" width="9.88" height="8.63" fill="#0007ff"/>
<rect x="389.38" y="180.77" width="17.76" height="8.63" fill="#001dff"/>
<rect x="405.14" y="180.77" width="17.76" height="8.63" fill="#0024ff"/>
<rect x="420.90" y="180.77" width="17.76" height="8.63" fill="#002cff"/>
<rect x="436.66" y="180.77" width="17.76" height="8.63" fill="#004dff"/>
<rect x="452.42" y="180.77" width="17.76" height="8.63" fill="#0061ff"/>
<rect x="468.18" y="180.77" width="17.76" height="8.63" fill="#0075ff"/>
<rect x="483.94" y="180.77" width="17.76" height="8.63" fill="#007cff"/>
<rect x="499.70" y="180.77" width="17.76" height="8.63" fill="#0075ff"/>
<rect x="515.46" y="180.77" width="17.76" height="8.63" fill="#0061ff"/>
<rect x="531.22" y="180.77" width="17.76" height="8.63" fill="#0030ff"/>
<rect x="546.98" y="180.77" width="17.76" height="8.63" fill="#001dff"/>
<rect x="562.74" y="180.77" width="33.52" height="8.63" fill="#0015ff"/>
<rect x="594.26" y="180.77" width="17.76" height="8.63" fill="#002cff"/>
<rect x="610.02" y="180.77" width="7.88" height="8.63" fill="#0038ff"/>
<rect x="48.50" y="272.65" width="3.97" height="9.81" fill="#00b2ff"/>
<rect x="50.47" y="272.65" width="5.94" height="9.81" fill="#00b8ff"/>
<rect x="54.40" y="272.65" width="5.94" height="9.81" fill="#00bdff"/>
<rect x="58.34" y="272.65" width="5.93" height="9.81" fill="#00c2ff"/>
<rect x="62.27" y="272.65" width="5.94" height="9.81" fill="#00c7ff"/>
<rect x="66.21" y="272.65" width="5.93" height="9.81" fill="#00cfff"/>
<rect x="70.14" y="272.65" width="5.94" height="9.81" fill="#00d6ff"/>
<rect x="74.08" y="272.65" width="5.94" height="9.81" fill="#00deff"/>
<rect x="78.01" y="272.65" width="5.94" height="9.81" fill="#00e5ff"/>
<rect x="81.95" y="272.65" width="5.94" height="9.81" fill="#00ecff"/>
<rect x="85.88" y="272.65" width="5.93" height="9.81" fill="#00f2ff"/>
<rect x="89.82" y="272.65" width="5.94" height="9.81" fill="#00f9ff"/>
<rect x="93.75" y="272.65" width="5.94" height="9.81" fill="#00ffff"/>
<rect x="97.69" y="272.65" width="5.94" height="9.81" fill="#06fff9"/>
<rect x="101.62" y="272.65" width="5.94" height="9.81" fill="#0dfff2"/>
<rect x="105.56" y="272.65" width="5.94" height="9.81" fill="#13ffec"/>
<rect x="109.49" y="272.65" width="5.94" height="9.81" fill="#1affe5"/>
<rect x="113.43" y="272.65" width="5.94" height="9.81" fill="#21ffde"/>
<rect x="117.36" y="272.65" width="5.94" height="9.81" fill="#29ffd6"/>
<rect x="121.30" y="272.65" width="5.94" height="9.81" fill="#30ffcf"/>
<rect x="125.23" y="272.65" width="5.94" height="9.81" fill="#38ffc7"/>
<rect x="129.17" y="272.65" width="5.94" height="9.81" fill="#3dffc2"/>
<rect x="133.10" y="272.65" width="5.94" height="9.81" fill="#42ffbd"/>
<rect x="137.04" y="272.65" width="5.94" height="9.81" fill="#47ffb8"/>
<rect x="140.97" y="272.65" width="5.94" height="9.81" fill="#4dffb2"/>
<rect x="144.91" y="272.65" width="5.94" height="9.81" fill="#4fffb0"/>
<rect x="148.84" y="272.65" width="5.94" height="9.81" fill="#52ffad"/>
<rect x="152.78" y="272.65" width="5.94" height="9.81" fill="#54ffab"/>
<rect x="156.71" y="272.65" width="5.93" height="9.81" fill="#57ffa8"/>
<rect x="160.65" y="272.65" width="5.94" height="9.81" fill="#52ffad"/>
<rect x="164.58" y="272.65" width="5.94" height="9.81" fill="#4dffb2"/>
<rect x="168.52" y="272.65" width="5.94" height="9.81" fill="#47ffb8"/>
<rect x="172.45" y="272.65" width="5.94" height="9.81" fill="#42ffbd"/>
<rect x="176.39" y="272.65" width="5.94" height="9.81" fill="#45ffba"/>
<rect x="180.32" y="272.65" width="5.94" height="9.81" fill="#47ffb8"/>
<rect x="184.26" y="272.65" width="5.94" height="9.81" fill="#4affb5"/>
<rect x="188.19" y="272.65" width="5.94" height="9.81" fill="#4dffb2"/>
<rect x="192.13" y="272.65" width="5.94" height="9.81" fill="#4fffb0"/>
<rect x="196.06" y="272.65" width="5.94" height="9.81" fill="#52ffad"/>
<rect x="200.00" y="272.65" width="5.94" height="9.81" fill="#54ffab"/>
<rect x="203.93" y="272.65" width="5.93" height="9.81" fill="#57ffa8"/>
<rect x="207.87" y="272.65" width="5.94" height="9.81" fill="#59ffa6"/>
<rect x="211.80" y="272.65" width="5.94" height="9.81" fill="#5cffa3"/>
<rect x="215.74" y="272.65" width="5.94" height="9.81" fill="#5effa1"/>
<rect x="219.67" y="272.65" width="5.94" height="9.81" fill="#61ff9e"/>
<rect x="223.61" y="272.65" width="5.94" height="9.81" fill="#63ff9c"/>
<rect x="227.54" y="272.65" width="5.94" height="9.81" fill="#66ff99"/>
<rect x="231.48" y="272.65" width="5.94" height="9.81" fill="#69ff96"/>
<rect x="235.41" y="272.65" width="5.94" height="9.81" fill="#6bff94"/>
<rect x="239.35" y="272.65" width="5.94" height="9.81" fill="#6eff91"/>
<rect x="243.28" y="272.65" width="5.94" height="9.81" fill="#70ff8f"/>
<rect x="247.22" y="272.65" width="5.94" height="9.81" fill="#73ff8c"/>
<rect x="251.15" y="272.65" width="5.94" height="9.81" fill="#75ff8a"/>
<rect x="255.09" y="272.65" width="5.94" height="9.81" fill="#78ff87"/>
<rect x="259.02" y="272.65" width="5.94" height="9.81" fill="#7aff85"/>
<rect x="262.96" y="272.65" width="5.94" height="9.81" fill="#7dff82"/>
<rect x="266.89" y="272.65" width="17.71" height="9.81" fill="#80ff80"/>
<rect x="48.50" y="281.26" width="3.97" height="9.81" fill="#00f0ff"/>
<rect x="50.47" y="281.26" width="5.94" height="9.81" fill="#00f7ff"/>
<rect x="54.40" y="281.26" width="5.94" height="9.81" fill="#00ffff"/>
<rect x="58.34" y="281.26" width="5.93" height="9.81" fill="#08fff7"/>
<rect x="62.27" y="281.26" width="5.94" height="9.81" fill="#0ffff0"/>
<rect x="66.21" y="281.26" width="5.93" height="9.81" fill="#17ffe8"/>
<rect x="70.14" y="281.26" width="5.94" height="9.81" fill="#1fffe0"/>
<rect x="74.08" y="281.26" width="5.94" height="9.81" fill="#26ffd9"/>
<rect x="78.01" y="281.26" width="5.94" height="9.81" fill="#2effd1"/>
<rect x="81.95" y="281.26" width="5.94" height="9.81" fill="#32ffcd"/>
<rect x="85.88" y="281.26" width="5.93" height="9.81" fill="#36ffc9"/>
<rect x="89.82" y="281.26" width="5.94" height="9.81" fill="#39ffc6"/>
<rect x="93.75" y="281.26" width="5.94" height="9.81" fill="#3dffc2"/>
<rect x="97.69" y="281.26" width="5.94" height="9.81" fill="#42ffbd"/>
<rect x="101.62" y="281.26" width="5.94" height="9.81" fill="#47ffb8"/>
<rect x="105.56" y="281.26" width="5.94" height="9.81" fill="#4dffb2"/>
<rect x="109.49" y="281.26" width="5.94" height="9.81" fill="#52ffad"/>
<rect x="113.43" y="281.26" width="5.94" height="9.81" fill="#57ffa8"/>
<rect x="117.36" y="281.26" width="5.94" height="9.81" fill="#5cffa3"/>
<rect x="121.30" y="281.26" width="5.94" height="9.81" fill="#61ff9e"/>
<rect x="125.23" y="281.26" width="5.94" height="9.81" fill="#66ff99"/>
<rect x="129.17" y="281.26" width="5.94" height="9.81" fill="#6aff95"/>
<rect x="133.10" y="281.26" width="5.94" height="9.81" fill="#6eff91"/>
<rect x="137.04" y="281.26" width="5.94" height="9.81" fill="#71ff8e"/>
<rect x="140.97" y="281.26" width="5.94" height="9.81" fill="#75ff8a"/>
<rect x="144.91" y="281.26" width="5.94" height="9.81" fill="#77ff88"/>
<rect x="148.84" y="281.26" width="5.94" height="9.81" fill="#78ff87"/>
<rect x="152.78" y="281.26" width="5.94" height="9.81" fill="#79ff86"/>
<rect x="156.71" y="281.26" width="5.93" height="9.81" fill="#7aff85"/>
<rect x="160.65" y="281.26" width="5.94" height="9.81" fill="#78ff87"/>
<rect x="164.58" y="281.26" width="5.94" height="9.81" fill="#75ff8a"/>
<rect x="168.52" y="281.26" width="5.94" height="9.81" fill="#73ff8c"/>
<rect x="172.45" y="281.26" width="21.68" height="9.81" fill="#70ff8f"/>
<rect x="192.13" y="281.26" width="5.94" height="9.81" fill="#73ff8c"/>
<rect x="196.06" y="281.26" width="5.94" height="9.81" fill="#75ff8a"/>
<rect x="200.00" y="281.26" width="5.94" height="9.81" fill="#78ff87"/>
<rect x="203.93" y="281.26" width="5.93" height="9.81" fill="#7aff85"/>
<rect x="207.87" y="281.26" width="5.94" height="9.81" fill="#7dff82"/>
<rect x="211.80" y="281.26" width="5.94" height="9.81" fill="#80ff80"/>
<rect x="215.74" y="281.26" width="5.94" height="9.81" fill="#82ff7d"/>
<rect x="219.67" y="281.26" width="5.94" height="9.81" fill="#85ff7a"/>
<rect x="223.61" y="281.26" width="5.94" height="9.81" fill="#88ff77"/>
<rect x="227.54" y="281.26" width="5.94" height="9.81" fill="#8cff73"/>
<rect x="231.48" y="281.26" width="5.94" height="9.81" fill="#90ff6f"/>
<rect x="235.41" y="281.26" width="5.94" height="9.81" fill="#94ff6b"/>
<rect x="239.35" y="281.26" width="5.94" height="9.81" fill="#96ff69"/>
<rect x="243.28" y="281.26" width="5.94" height="9.81" fill="#99ff66"/>
<rect x="247.22" y="281.26" width="5.94" height="9.81" fill="#9cff63"/>
<rect x="251.15" y="281.26" width="5.94" height="9.81" fill="#9eff61"/>
<rect x="255.09" y="281.26" width="5.94" height="9.81" fill="#a1ff5e"/>
<rect x="259.02" y="281.26" width="5.94" height="9.81" fill="#a3ff5c"/>
<rect x="262.96" y="281.26" width="5.94" height="9.81" fill="#a6ff59"/>
<rect x="266.89" y="281.26" width="17.71" height="9.81" fill="#a8ff57"/>
<rect x="48.50" y="289.86" width="3.97" height="9.81" fill="#2effd1"/>
<rect x="50.47" y="289.86" width="5.94" height="9.81" fill="#33ffcc"/>
<rect x="54.40" y="289.86" width="5.94" height="9.81" fill="#38ffc7"/>
<rect x="58.34" y="289.86" width="5.93" height="9.81" fill="#3dffc2"/>
<rect x="62.27" y="289.86" width="5.94" height="9.81" fill="#42ffbd"/>
<rect x="66.21" y="289.86" width="5.93" height="9.81" fill="#47ffb8"/>
<rect x="70.14" y="289.86" width="5.94" height="9.81" fill="#4dffb2"/>
<rect x="74.08" y="289.86" width="5.94" height="9.81" fill="#52ffad"/>
<rect x="78.01" y="289.86" width="5.94" height="9.81" fill="#57ffa8"/>
<rect x="81.95" y="289.86" width="5.94" height="9.81" fill="#59ffa6"/>
<rect x="85.88" y="289.86" width="5.93" height="9.81" fill="#5cffa3"/>
<rect x="89.82" y="289.86" width="5.94" height="9.81" fill="#5effa1"/>
<rect x="93.75" y="289.86" width="5.94" height="9.81" fill="#61ff9e"/>
<rect x="97.69" y="289.86" width="5.94" height="9.81" fill="#65ff9a"/>
<rect x="101.62" y="289.86" width="5.94" height="9.81" fill="#69ff96"/>
<rect x="105.56" y="289.86" width="5.94" height="9.81" fill="#6cff93"/>
<rect x="109.49" y="289.86" width="5.94" height="9.81" fill="#70ff8f"/>
<rect x="113.43" y="289.86" width="5.94" height="9.81" fill="#73ff8c"/>
<rect x="117.36" y="289.86" width="5.94" height="9.81" fill="#75ff8a"/>
<rect x="121.30" y="289.86" width="5.94" height="9.81" fill="#78ff87"/>
<rect x="125.23" y="289.86" width="5.94" height="9.81" fill="#7aff85"/>
<rect x="129.17" y="289.86" width="5.94" height="9.81" fill="#7dff82"/>
<rect x="133.10" y="289.86" width="5.94" height="9.81" fill="#80ff80"/>
<rect x="137.04" y="289.86" width="5.94" height="9.81" fill="#82ff7d"/>
<rect x="140.97" y="289.86" width="5.94" height="9.81" fill="#85ff7a"/>
<rect x="144.91" y="289.86" width="5.94" height="9.81" fill="#86ff79"/>
<rect x="148.84" y="289.86" width="5.94" height="9.81" fill="#87ff78"/>
<rect x="152.78" y="289.86" width="5.94" height="9.81" fill="#88ff77"/>
<rect x="156.71" y="289.86" width="37.41" height="9.81" fill="#8aff75"/>
<rect x="192.13" y="289.86" width="5.94" height="9.81" fill="#8bff74"/>
<rect x="196.06" y="289.86" width="5.94" height="9.81" fill="#8cff73"/>
<rect x="200.00" y="289.86" width="5.94" height="9.81" fill="#8eff71"/>
<rect x="203.93" y="289.86" width="5.93" height="9.81" fill="#8fff70"/>
<rect x="207.87" y="289.86" width="5.94" height="9.81" fill="#91ff6e"/>
<rect x="211.80" y="289.86" width="5.94" height="9.81" fill="#94ff6b"/>
<rect x="215.74" y="289.86" width="5.94" height="9.81" fill="#96ff69"/>
<rect x="219.67" y="289.86" width="5.94" height="9.81" fill="#99ff66"/>
<rect x="223.61" y="289.86" width="5.94" height="9.81" fill="#9dff62"/>
<rect x="227.54" y="289.86" width="5.94" height="9.81" fill="#a1ff5e"/>
<rect x="231.48" y="289.86" width="5.94" height="9.81" fill="#a4ff5b"/>
<rect x="235.41" y="289.86" width="5.94" height="9.81" fill="#a8ff57"/>
<rect x="239.35" y="289.86" width="5.94" height="9.81" fill="#abff54"/>
<rect x="243.28" y="289.86" width="5.94" height="9.81" fill="#adff52"/>
<rect x="247.22" y="289.86" width="5.94" height="9.81" fill="#b0ff4f"/>
<rect x="251.15" y="289.86" width="5.94" height="9.81" fill="#b3ff4c"/>
<rect x="255.09" y="289.86" width="5.94" height="9.81" fill="#b5ff4a"/>
<rect x="259.02" y="289.86" width="5.94" height="9.81" fill="#b8ff47"/>
<rect x="262.96" y="289.86" width="5.94" height="9.81" fill="#baff45"/>
<rect x="266.89" y="289.86" width="17.71" height="9.81" fill="#bdff42"/>
<rect x="48.50" y="298.47" width="3.97" height="9.81" fill="#4dffb2"/>
<rect x="50.47" y="298.47" width="5.94" height="9.81" fill="#52ffad"/>
<rect x="54.40" y="298.47" width="5.94" height="9.81" fill="#57ffa8"/>
<rect x="58.34" y="298.47" width="5.93" height="9.81" fill="#5cffa3"/>
<rect x="62.27" y="298.47" width="5.94" height="9.81" fill="#61ff9e"/>
<rect x="66.21" y="298.47" width="5.93" height="9.81" fill="#66ff99"/>
<rect x="70.14" y="298.47" width="5.94" height="9.81" fill="#6bff94"/>
<rect x="74.08" y="298.47" width="5.94" height="9.81" fill="#70ff8f"/>
<rect x="78.01" y="298.47" width="5.94" height="9.81" fill="#75ff8a"/>
<rect x="81.95" y="298.47" width="5.94" height="9.81" fill="#79ff86"/>
<rect x="85.88" y="298.47" width="5.93" height="9.81" fill="#7dff82"/>
<rect x="89.82" y="298.47" width="5.94" height="9.81" fill="#81ff7e"/>
<rect x="93.75" y="298.47" width="5.94" height="9.81" fill="#85ff7a"/>
<rect x="97.69" y="298.47" width="5.94" height="9.81" fill="#87ff78"/>
<rect x="101.62" y="298.47" width="5.94" height="9.81" fill="#8aff75"/>
<rect x="105.56" y="298.47" width="5.94" height="9.81" fill="#8cff73"/>
<rect x="109.49" y="298.47" width="5.94" height="9.81" fill="#8fff70"/>
<rect x="113.43" y="298.47" width="5.94" height="9.81" fill="#93ff6c"/>
<rect x="117.36" y="298.47" width="5.94" height="9.81" fill="#96ff69"/>
<rect x="121.30" y="298.47" width="5.94" height="9.81" fill="#9aff65"/>
<rect x="125.23" y="298.47" width="5.94" height="9.81" fill="#9eff61"/>
<rect x="129.17" y="298.47" width="5.94" height="9.81" fill="#a1ff5e"/>
<rect x="133.10" y="298.47" width="5.94" height="9.81" fill="#a3ff5c"/>
<rect x="137.04" y="298.47" width="5.94" height="9.81" fill="#a6ff59"/>
<rect x="140.97" y="298.47" width="5.94" height="9.81" fill="#a8ff57"/>
<rect x="144.91" y="298.47" width="5.94" height="9.81" fill="#aaff55"/>
<rect x="148.84" y="298.47" width="5.94" height="9.81" fill="#abff54"/>
<rect x="152.78" y="298.47" width="5.94" height="9.81" fill="#acff53"/>
<rect x="156.71" y="298.47" width="37.41" height="9.81" fill="#adff52"/>
<rect x="192.13" y="298.47" width="5.94" height="9.81" fill="#b0ff4f"/>
<rect x="196.06" y="298.47" width="5.94" height="9.81" fill="#b3ff4c"/>
<rect x="200.00" y="298.47" width="5.94" height="9.81" fill="#b5ff4a"/>
<rect x="203.93" y="298.47" width="5.93" height="9.81" fill="#b8ff47"/>
<rect x="207.87" y="298.47" width="5.94" height="9.81" fill="#baff45"/>
<rect x="211.80" y="298.47" width="5.94" height="9.81" fill="#bdff42"/>
<rect x="215.74" y="298.47" width="5.94" height="9.81" fill="#bfff40"/>
<rect x="219.67" y="298.47" width="5.94" height="9.81" fill="#c2ff3d"/>
<rect x="223.61" y="298.47" width="5.94" height="9.81" fill="#c6ff39"/>
<rect x="227.54" y="298.47" width="5.94" height="9.81" fill="#c9ff36"/>
<rect x="231.48" y="298.47" width="5.94" height="9.81" fill="#cdff32"/>
<rect x="235.41" y="298.47" width="5.94" height="9.81" fill="#d1ff2e"/>
<rect x="239.35" y="298.47" width="5.94" height="9.81" fill="#d4ff2b"/>
<rect x="243.28" y="298.47" width="5.94" height="9.81" fill="#d6ff29"/>
<rect x="247.22" y="298.47" width="5.94" height="9.81" fill="#d9ff26"/>
<rect x="251.15" y="298.47" width="5.94" height="9.81" fill="#dbff24"/>
<rect x="255.09" y="298.47" width="5.94" height="9.81" fill="#deff21"/>
<rect x="259.02" y="298.47" width="5.94" height="9.81" fill="#e0ff1f"/>
<rect x="262.96" y="298.47" width="5.94" height="9.81" fill="#e3ff1c"/>
<rect x="266.89" y="298.47" width="17.71" height="9.81" fill="#e5ff1a"/>
<rect x="48.50" y="307.07" width="3.97" height="9.81" fill="#57ffa8"/>
<rect x="50.47" y="307.07" width="5.94" height="9.81" fill="#5effa1"/>
<rect x="54.40" y="307.07" width="5.94" height="9.81" fill="#66ff99"/>
<rect x="58.34" y="307.07" width="5.93" height="9.81" fill="#6eff91"/>
<rect x="62.27" y="307.07" width="5.94" height="9.81" fill="#75ff8a"/>
<rect x="66.21" y="307.07" width="5.93" height="9.81" fill="#7dff82"/>
<rect x="70.14" y="307.07" width="5.94" height="9.81" fill="#85ff7a"/>
<rect x="74.08" y="307.07" width="5.94" height="9.81" fill="#8cff73"/>
<rect x="78.01" y="307.07" width="5.94" height="9.81" fill="#94ff6b"/>
<rect x="81.95" y="307.07" width="5.94" height="9.81" fill="#96ff69"/>
<rect x="85.88" y="307.07" width="5.93" height="9.81" fill="#99ff66"/>
<rect x="89.82" y="307.07" width="5.94" height="9.81" fill="#9cff63"/>
<rect x="93.75" y="307.07" width="5.94" height="9.81" fill="#9eff61"/>
<rect x="97.69" y="307.07" width="5.94" height="9.81" fill="#a2ff5d"/>
<rect x="101.62" y="307.07" width="5.94" height="9.81" fill="#a6ff59"/>
<rect x="105.56" y="307.07" width="5.94" height="9.81" fill="#aaff55"/>
<rect x="109.49" y="307.07" width="5.94" height="9.81" fill="#adff52"/>
<rect x="113.43" y="307.07" width="5.94" height="9.81" fill="#b1ff4e"/>
<rect x="117.36" y="307.07" width="5.94" height="9.81" fill="#b5ff4a"/>
<rect x="121.30" y="307.07" width="5.94" height="9.81" fill="#b9ff46"/>
<rect x="125.23" y="307.07" width="5.94" height="9.81" fill="#bdff42"/>
<rect x="129.17" y="307.07" width="5.94" height="9.81" fill="#bfff40"/>
<rect x="133.10" y="307.07" width="5.94" height="9.81" fill="#c2ff3d"/>
<rect x="137.04" y="307.07" width="5.94" height="9.81" fill="#c4ff3b"/>
<rect x="140.97" y="307.07" width="5.94" height="9.81" fill="#c7ff38"/>
<rect x="144.91" y="307.07" width="5.94" height="9.81" fill="#c8ff37"/>
<rect x="148.84" y="307.07" width="5.94" height="9.81" fill="#c9ff36"/>
<rect x="152.78" y="307.07" width="5.94" height="9.81" fill="#cbff34"/>
<rect x="156.71" y="307.07" width="21.67" height="9.81" fill="#ccff33"/>
<rect x="176.39" y="307.07" width="5.94" height="9.81" fill="#cfff30"/>
<rect x="180.32" y="307.07" width="5.94" height="9.81" fill="#d1ff2e"/>
<rect x="184.26" y="307.07" width="5.94" height="9.81" fill="#d4ff2b"/>
<rect x="188.19" y="307.07" width="5.94" height="9.81" fill="#d6ff29"/>
<rect x="192.13" y="307.07" width="5.94" height="9.81" fill="#d9ff26"/>
<rect x="196.06" y="307.07" width="5.94" height="9.81" fill="#dbff24"/>
<rect x="200.00" y="307.07" width="5.94" height="9.81" fill="#deff21"/>
<rect x="203.93" y="307.07" width="5.93" height="9.81" fill="#e0ff1f"/>
<rect x="207.87" y="307.07" width="5.94" height="9.81" fill="#e3ff1c"/>
<rect x="211.80" y="307.07" width="5.94" height="9.81" fill="#e5ff1a"/>
<rect x="215.74" y="307.07" width="5.94" height="9.81" fill="#e8ff17"/>
<rect x="219.67" y="307.07" width="5.94" height="9.81" fill="#ebff14"/>
<rect x="223.61" y="307.07" width="5.94" height="9.81" fill="#eeff11"/>
<rect x="227.54" y="307.07" width="5.94" height="9.81" fill="#f2ff0d"/>
<rect x="231.48" y="307.07" width="5.94" height="9.81" fill="#f6ff09"/>
<rect x="235.41" y="307.07" width="5.94" height="9.81" fill="#faff05"/>
<rect x="239.35" y="307.07" width="5.94" height="9.81" fill="#fcff03"/>
<rect x="243.28" y="307.07" width="5.94" height="9.81" fill="#ffff00"/>
<rect x="247.22" y="307.07" width="5.94" height="9.81" fill="#fffc00"/>
<rect x="251.15" y="307.07" width="5.94" height="9.81" fill="#fffa00"/>
<rect x="255.09" y="307.07" width="5.94" height="9.81" fill="#fff700"/>
<rect x="259.02" y="307.07" width="5.94" height="9.81" fill="#fff500"/>
<rect x="262.96" y="307.07" width="5.94" height="9.81" fill="#fff200"/>
<rect x="266.89" y="307.07" width="5.93" height="9.81" fill="#fff000"/>
<rect x="270.83" y="307.07" width="5.94" height="9.81" fill="#ffeb00"/>
<rect x="274.76" y="307.07" width="5.93" height="9.81" fill="#ffe500"/>
<rect x="278.70" y="307.07" width="5.90" height="9.81" fill="#ffe000"/>
<rect x="282.63" y="307.07" width="1.97" height="9.81" fill="#ffdb00"/>
<rect x="48.50" y="315.68" width="3.97" height="9.81" fill="#57ffa8"/>
<rect x="50.47" y="315.68" width="5.94" height="9.81" fill="#5effa1"/>
<rect x="54.40" y="315.68" width="5.94" height="9.81" fill="#66ff99"/>
<rect x="58.34" y="315.68" width="5.93" height="9.81" fill="#6eff91"/>
<rect x="62.27" y="315.68" width="5.94" height="9.81" fill="#75ff8a"/>
<rect x="66.21" y="315.68" width="5.93" height="9.81" fill="#7dff82"/>
<rect x="70.14" y="315.68" width="5.94" height="9.81" fill="#85ff7a"/>
<rect x="74.08" y="315.68" width="5.94" height="9.81" fill="#8cff73"/>
<rect x="78.01" y="315.68" width="5.94" height="9.81" fill="#94ff6b"/>
<rect x="81.95" y="315.68" width="5.94" height="9.81" fill="#9cff63"/>
<rect x="85.88" y="315.68" width="5.93" height="9.81" fill="#a3ff5c"/>
<rect x="89.82" y="315.68" width="5.94" height="9.81" fill="#abff54"/>
<rect x="93.75" y="315.68" width="5.94" height="9.81" fill="#b3ff4c"/>
<rect x="97.69" y="315.68" width="5.94" height="9.81" fill="#b9ff46"/>
<rect x="101.62" y="315.68" width="5.94" height="9.81" fill="#bfff40"/>
<rect x="105.56" y="315.68" width="5.94" height="9.81" fill="#c6ff39"/>
<rect x="109.49" y="315.68" width="5.94" height="9.81" fill="#ccff33"/>
<rect x="113.43" y="315.68" width="5.94" height="9.81" fill="#d4ff2b"/>
<rect x="117.36" y="315.68" width="5.94" height="9.81" fill="#dbff24"/>
<rect x="121.30" y="315.68" width="5.94" height="9.81" fill="#e3ff1c"/>
<rect x="125.23" y="315.68" width="5.94" height="9.81" fill="#ebff14"/>
<rect x="129.17" y="315.68" width="5.94" height="9.81" fill="#eeff11"/>
<rect x="133.10" y="315.68" width="5.94" height="9.81" fill="#f2ff0d"/>
<rect x="137.04" y="315.68" width="5.94" height="9.81" fill="#f6ff09"/>
<rect x="140.97" y="315.68" width="5.94" height="9.81" fill="#faff05"/>
<rect x="144.91" y="315.68" width="5.94" height="9.81" fill="#fbff04"/>
<rect x="148.84" y="315.68" width="5.94" height="9.81" fill="#fcff03"/>
<rect x="152.78" y="315.68" width="5.94" height="9.81" fill="#feff01"/>
<rect x="156.71" y="315.68" width="21.67" height="9.81" fill="#ffff00"/>
<rect x="176.39" y="315.68" width="5.94" height="9.81" fill="#fffe00"/>
<rect x="180.32" y="315.68" width="5.94" height="9.81" fill="#fffc00"/>
<rect x="184.26" y="315.68" width="5.94" height="9.81" fill="#fffb00"/>
<rect x="188.19" y="315.68" width="5.94" height="9.81" fill="#fffa00"/>
<rect x="192.13" y="315.68" width="5.94" height="9.81" fill="#fff600"/>
<rect x="196.06" y="315.68" width="5.94" height="9.81" fill="#fff200"/>
<rect x="200.00" y="315.68" width="5.94" height="9.81" fill="#ffee00"/>
<rect x="203.93" y="315.68" width="5.93" height="9.81" fill="#ffeb00"/>
<rect x="207.87" y="315.68" width="5.94" height="9.81" fill="#ffe700"/>
<rect x="211.80" y="315.68" width="5.94" height="9.81" fill="#ffe300"/>
<rect x="215.74" y="315.68" width="5.94" height="9.81" fill="#ffdf00"/>
<rect x="219.67" y="315.68" width="5.94" height="9.81" fill="#ffdb00"/>
<rect x="223.61" y="315.68" width="5.94" height="9.81" fill="#ffd600"/>
<rect x="227.54" y="315.68" width="5.94" height="9.81" fill="#ffd100"/>
<rect x="231.48" y="315.68" width="5.94" height="9.81" fill="#ffcc00"/>
<rect x="235.41" y="315.68" width="5.94" height="9.81" fill="#ffc700"/>
<rect x="239.35" y="315.68" width="5.94" height="9.81" fill="#ffc200"/>
<rect x="243.28" y="315.68" width="5.94" height="9.81" fill="#ffbd00"/>
<rect x="247.22" y="315.68" width="5.94" height="9.81" fill="#ffb800"/>
<rect x="251.15" y="315.68" width="5.94" height="9.81" fill="#ffb300"/>
<rect x="255.09" y="315.68" width="5.94" height="9.81" fill="#ffad00"/>
<rect x="259.02" y="315.68" width="5.94" height="9.81" fill="#ffa800"/>
<rect x="262.96" y="315.68" width="5.94" height="9.81" fill="#ffa300"/>
<rect x="266.89" y="315.68" width="5.93" height="9.81" fill="#ff9e00"/>
<rect x="270.83" y="315.68" width="5.94" height="9.81" fill="#ff9c00"/>
<rect x="274.76" y="315.68" width="5.93" height="9.81" fill="#ff9900"/>
<rect x="278.70" y="315.68" width="5.90" height="9.81" fill="#ff9600"/>
<rect x="282.63" y="315.68" width="1.97" height="9.81" fill="#ff9400"/>
<rect x="48.50" y="324.28" width="3.97" height="9.81" fill="#42ffbd"/>
<rect x="50.47" y="324.28" width="5.94" height="9.81" fill="#4affb5"/>
<rect x="54.40" y="324.28" width="5.94" height="9.81" fill="#52ffad"/>
<rect x="58.34" y="324.28" width="5.93" height="9.81" fill="#59ffa6"/>
<rect x="62.27" y="324.28" width="5.94" height="9.81" fill="#61ff9e"/>
<rect x="66.21" y="324.28" width="5.93" height="9.81" fill="#6eff91"/>
<rect x="70.14" y="324.28" width="5.94" height="9.81" fill="#7aff85"/>
<rect x="74.08" y="324.28" width="5.94" height="9.81" fill="#87ff78"/>
<rect x="78.01" y="324.28" width="5.94" height="9.81" fill="#94ff6b"/>
<rect x="81.95" y="324.28" width="5.94" height="9.81" fill="#9eff61"/>
<rect x="85.88" y="324.28" width="5.93" height="9.81" fill="#a8ff57"/>
<rect x="89.82" y="324.28" width="5.94" height="9.81" fill="#b3ff4c"/>
<rect x="93.75" y="324.28" width="5.94" height="9.81" fill="#bdff42"/>
<rect x="97.69" y="324.28" width="5.94" height="9.81" fill="#cbff34"/>
<rect x="101.62" y="324.28" width="5.94" height="9.81" fill="#d9ff26"/>
<rect x="105.56" y="324.28" width="5.94" height="9.81" fill="#e7ff18"/>
<rect x="109.49" y="324.28" width="5.94" height="9.81" fill="#f5ff0a"/>
<rect x="113.43" y="324.28" width="5.94" height="9.81" fill="#feff01"/>
<rect x="117.36" y="324.28" width="5.94" height="9.81" fill="#fff700"/>
<rect x="121.30" y="324.28" width="5.94" height="9.81" fill="#ffee00"/>
<rect x="125.23" y="324.28" width="5.94" height="9.81" fill="#ffe500"/>
<rect x="129.17" y="324.28" width="5.94" height="9.81" fill="#ffdf00"/>
<rect x="133.10" y="324.28" width="5.94" height="9.81" fill="#ffd900"/>
<rect x="137.04" y="324.28" width="5.94" height="9.81" fill="#ffd200"/>
<rect x="140.97" y="324.28" width="5.94" height="9.81" fill="#ffcc00"/>
<rect x="144.91" y="324.28" width="5.94" height="9.81" fill="#ffc900"/>
<rect x="148.84" y="324.28" width="5.94" height="9.81" fill="#ffc700"/>
<rect x="152.78" y="324.28" width="5.94" height="9.81" fill="#ffc400"/>
<rect x="156.71" y="324.28" width="5.93" height="9.81" fill="#ffc200"/>
<rect x="160.65" y="324.28" width="5.94" height="9.81" fill="#ffc100"/>
<rect x="164.58" y="324.28" width="5.94" height="9.81" fill="#ffbf00"/>
<rect x="168.52" y="324.28" width="5.94" height="9.81" fill="#ffbe00"/>
<rect x="172.45" y="324.28" width="5.94" height="9.81" fill="#ffbd00"/>
<rect x="176.39" y="324.28" width="5.94" height="9.81" fill="#ffbb00"/>
<rect x="180.32" y="324.28" width="5.94" height="9.81" fill="#ffba00"/>
<rect x="184.26" y="324.28" width="5.94" height="9.81" fill="#ffb900"/>
<rect x="188.19" y="324.28" width="5.94" height="9.81" fill="#ffb800"/>
<rect x="192.13" y="324.28" width="5.94" height="9.81" fill="#ffb500"/>
<rect x="196.06" y="324.28" width="5.94" height="9.81" fill="#ffb300"/>
<rect x="200.00" y="324.28" width="5.94" height="9.81" fill="#ffb000"/>
<rect x="203.93" y="324.28" width="5.93" height="9.81" fill="#ffad00"/>
<rect x="207.87" y="324.28" width="5.94" height="9.81" fill="#ffaa00"/>
<rect x="211.80" y="324.28" width="5.94" height="9.81" fill="#ffa600"/>
<rect x="215.74" y="324.28" width="5.94" height="9.81" fill="#ffa200"/>
<rect x="219.67" y="324.28" width="5.94" height="9.81" fill="#ff9e00"/>
<rect x="223.61" y="324.28" width="5.94" height="9.81" fill="#ff9a00"/>
<rect x="227.54" y="324.28" width="5.94" height="9.81" fill="#ff9600"/>
<rect x="231.48" y="324.28" width="5.94" height="9.81" fill="#ff9300"/>
<rect x="235.41" y="324.28" width="5.94" height="9.81" fill="#ff8f00"/>
<rect x="239.35" y="324.28" width="5.94" height="9.81" fill="#ff8b00"/>
<rect x="243.28" y="324.28" width="5.94" height="9.81" fill="#ff8700"/>
<rect x="247.22" y="324.28" width="5.94" height="9.81" fill="#ff8300"/>
<rect x="251.15" y="324.28" width="5.94" height="9.81" fill="#ff8000"/>
<rect x="255.09" y="324.28" width="5.94" height="9.81" fill="#ff7a00"/>
<rect x="259.02" y="324.28" width="5.94" height="9.81" fill="#ff7500"/>
<rect x="262.96" y="324.28" width="5.94" height="9.81" fill="#ff7000"/>
<rect x="266.89" y="324.28" width="17.71" height="9.81" fill="#ff6b00"/>
<rect x="48.50" y="332.89" width="3.97" height="9.81" fill="#05fffa"/>
<rect x="50.47" y="332.89" width="5.94" height="9.81" fill="#1affe5"/>
<rect x="54.40" y="332.89" width="13.81" height="9.81" fill="#2effd1"/>
<rect x="66.21" y="332.89" width="5.93" height="9.81" fill="#42ffbd"/>
<rect x="70.14" y="332.89" width="5.94" height="9.81" fill="#57ffa8"/>
<rect x="74.08" y="332.89" width="5.94" height="9.81" fill="#6bff94"/>
<rect x="78.01" y="332.89" width="5.94" height="9.81" fill="#80ff80"/>
<rect x="81.95" y="332.89" width="5.94" height="9.81" fill="#94ff6b"/>
<rect x="85.88" y="332.89" width="5.93" height="9.81" fill="#a8ff57"/>
<rect x="89.82" y="332.89" width="5.94" height="9.81" fill="#c2ff3d"/>
<rect x="93.75" y="332.89" width="5.94" height="9.81" fill="#dbff24"/>
<rect x="97.69" y="332.89" width="5.94" height="9.81" fill="#f5ff0a"/>
<rect x="101.62" y="332.89" width="5.94" height="9.81" fill="#fff000"/>
<rect x="105.56" y="332.89" width="5.94" height="9.81" fill="#ffdb00"/>
<rect x="109.49" y="332.89" width="5.94" height="9.81" fill="#ffcc00"/>
<rect x="113.43" y="332.89" width="5.94" height="9.81" fill="#ffbd00"/>
<rect x="117.36" y="332.89" width="5.94" height="9.81" fill="#ffb300"/>
<rect x="121.30" y="332.89" width="5.94" height="9.81" fill="#ffa800"/>
<rect x="125.23" y="332.89" width="5.94" height="9.81" fill="#ffa400"/>
<rect x="129.17" y="332.89" width="5.94" height="9.81" fill="#ffa000"/>
<rect x="133.10" y="332.89" width="5.94" height="9.81" fill="#ff9b00"/>
<rect x="137.04" y="332.89" width="5.94" height="9.81" fill="#ff9500"/>
<rect x="140.97" y="332.89" width="5.94" height="9.81" fill="#ff8f00"/>
<rect x="144.91" y="332.89" width="5.94" height="9.81" fill="#ff8800"/>
<rect x="148.84" y="332.89" width="5.94" height="9.81" fill="#ff8200"/>
<rect x="152.78" y="332.89" width="5.94" height="9.81" fill="#ff7c00"/>
<rect x="156.71" y="332.89" width="5.93" height="9.81" fill="#ff7500"/>
<rect x="160.65" y="332.89" width="5.94" height="9.81" fill="#ff7100"/>
<rect x="164.58" y="332.89" width="5.94" height="9.81" fill="#ff6e00"/>
<rect x="168.52" y="332.89" width="5.94" height="9.81" fill="#ff6a00"/>
<rect x="172.45" y="332.89" width="5.94" height="9.81" fill="#ff6600"/>
<rect x="176.39" y="332.89" width="5.94" height="9.81" fill="#ff6500"/>
<rect x="180.32" y="332.89" width="5.94" height="9.81" fill="#ff6300"/>
<rect x="184.26" y="332.89" width="5.94" height="9.81" fill="#ff6200"/>
<rect x="188.19" y="332.89" width="5.94" height="9.81" fill="#ff6100"/>
<rect x="192.13" y="332.89" width="5.94" height="9.81" fill="#ff5e00"/>
<rect x="196.06" y="332.89" width="5.94" height="9.81" fill="#ff5c00"/>
<rect x="200.00" y="332.89" width="5.94" height="9.81" fill="#ff5900"/>
<rect x="203.93" y="332.89" width="21.67" height="9.81" fill="#ff5700"/>
<rect x="223.61" y="332.89" width="5.94" height="9.81" fill="#ff5500"/>
<rect x="227.54" y="332.89" width="5.94" height="9.81" fill="#ff5400"/>
<rect x="231.48" y="332.89" width="5.94" height="9.81" fill="#ff5300"/>
<rect x="235.41" y="332.89" width="21.68" height="9.81" fill="#ff5200"/>
<rect x="255.09" y="332.89" width="5.94" height="9.81" fill="#ff5400"/>
<rect x="259.02" y="332.89" width="5.94" height="9.81" fill="#ff5700"/>
<rect x="262.96" y="332.89" width="5.94" height="9.81" fill="#ff5900"/>
<rect x="266.89" y="332.89" width="5.93" height="9.81" fill="#ff5c00"/>
<rect x="270.83" y="332.89" width="5.94" height="9.81" fill="#ff5d00"/>
<rect x="274.76" y="332.89" width="5.93" height="9.81" fill="#ff5e00"/>
<rect x="278.70" y="332.89" width="5.90" height="9.81" fill="#ff6000"/>
<rect x="282.63" y="332.89" width="1.97" height="9.81" fill="#ff6100"/>
<rect x="48.50" y="341.49" width="3.97" height="9.81" fill="#00d1ff"/>
<rect x="50.47" y="341.49" width="5.94" height="9.81" fill="#0099ff"/>
<rect x="54.40" y="341.49" width="5.94" height="9.81" fill="#00a8ff"/>
<rect x="58.34" y="341.49" width="5.93" height="9.81" fill="#00ccff"/>
<rect x="62.27" y="341.49" width="5.94" height="9.81" fill="#00f0ff"/>
<rect x="66.21" y="341.49" width="5.93" height="9.81" fill="#0afff5"/>
<rect x="70.14" y="341.49" width="5.94" height="9.81" fill="#33ffcc"/>
<rect x="74.08" y="341.49" width="5.94" height="9.81" fill="#5cffa3"/>
<rect x="78.01" y="341.49" width="5.94" height="9.81" fill="#99ff66"/>
<rect x="81.95" y="341.49" width="5.94" height="9.81" fill="#c7ff38"/>
<rect x="85.88" y="341.49" width="5.93" height="9.81" fill="#e5ff1a"/>
<rect x="89.82" y="341.49" width="5.94" height="9.81" fill="#ffff00"/>
<rect x="93.75" y="341.49" width="5.94" height="9.81" fill="#ffeb00"/>
<rect x="97.69" y="341.49" width="5.94" height="9.81" fill="#ffd100"/>
<rect x="101.62" y="341.49" width="5.94" height="9.81" fill="#ffbd00"/>
<rect x="105.56" y="341.49" width="5.94" height="9.81" fill="#ffa800"/>
<rect x="109.49" y="341.49" width="5.94" height="9.81" fill="#ff9900"/>
<rect x="113.43" y="341.49" width="5.94" height="9.81" fill="#ff8a00"/>
<rect x="117.36" y="341.49" width="5.94" height="9.81" fill="#ff8000"/>
<rect x="121.30" y="341.49" width="5.94" height="9.81" fill="#ff7500"/>
<rect x="125.23" y="341.49" width="5.94" height="9.81" fill="#ff6800"/>
<rect x="129.17" y="341.49" width="5.94" height="9.81" fill="#ff5c00"/>
<rect x="133.10" y="341.49" width="5.94" height="9.81" fill="#ff4f00"/>
<rect x="137.04" y="341.49" width="5.94" height="9.81" fill="#ff4400"/>
<rect x="140.97" y="341.49" width="5.94" height="9.81" fill="#ff3800"/>
<rect x="144.91" y="341.49" width="5.94" height="9.81" fill="#ff3600"/>
<rect x="148.84" y="341.49" width="5.94" height="9.81" fill="#ff3300"/>
<rect x="152.78" y="341.49" width="5.94" height="9.81" fill="#ff3000"/>
<rect x="156.71" y="341.49" width="21.67" height="9.81" fill="#ff2e00"/>
<rect x="176.39" y="341.49" width="5.94" height="9.81" fill="#ff2b00"/>
<rect x="180.32" y="341.49" width="5.94" height="9.81" fill="#ff2900"/>
<rect x="184.26" y="341.49" width="5.94" height="9.81" fill="#ff2600"/>
<rect x="188.19" y="341.49" width="21.67" height="9.81" fill="#ff2400"/>
<rect x="207.87" y="341.49" width="5.94" height="9.81" fill="#ff2600"/>
<rect x="211.80" y="341.49" width="5.94" height="9.81" fill="#ff2900"/>
<rect x="215.74" y="341.49" width="5.94" height="9.81" fill="#ff2b00"/>
<rect x="219.67" y="341.49" width="5.94" height="9.81" fill="#ff2e00"/>
<rect x="223.61" y="341.49" width="5.94" height="9.81" fill="#ff3000"/>
<rect x="227.54" y="341.49" width="5.94" height="9.81" fill="#ff3300"/>
<rect x="231.48" y="341.49" width="5.94" height="9.81" fill="#ff3600"/>
<rect x="235.41" y="341.49" width="5.94" height="9.81" fill="#ff3800"/>
<rect x="239.35" y="341.49" width="5.94" height="9.81" fill="#ff3c00"/>
<rect x="243.28" y="341.49" width="5.94" height="9.81" fill="#ff4000"/>
<rect x="247.22" y="341.49" width="5.94" height="9.81" fill="#ff4400"/>
<rect x="251.15" y="341.49" width="5.94" height="9.81" fill="#ff4700"/>
<rect x="255.09" y="341.49" width="5.94" height="9.81" fill="#ff4b00"/>
<rect x="259.02" y="341.49" width="5.94" height="9.81" fill="#ff4f00"/>
<rect x="262.96" y="341.49" width="5.94" height="9.81" fill="#ff5300"/>
<rect x="266.89" y="341.49" width="5.93" height="9.81" fill="#ff5700"/>
<rect x="270.83" y="341.49" width="5.94" height="9.81" fill="#ff5900"/>
<rect x="274.76" y="341.49" width="5.93" height="9.81" fill="#ff5c00"/>
<rect x="278.70" y="341.49" width="5.90" height="9.81" fill="#ff5e00"/>
<rect x="282.63" y="341.49" width="1.97" height="9.81" fill="#ff6100"/>
<rect x="48.50" y="350.10" width="3.97" height="9.81" fill="#00bdff"/>
<rect x="50.47" y="350.10" width="5.94" height="9.81" fill="#0099ff"/>
<rect x="54.40" y="350.10" width="5.94" height="9.81" fill="#008fff"/>
<rect x="58.34" y="350.10" width="5.93" height="9.81" fill="#00d1ff"/>
<rect x="62.27" y="350.10" width="5.94" height="9.81" fill="#00f5ff"/>
<rect x="66.21" y="350.10" width="5.93" height="9.81" fill="#1fffe0"/>
<rect x="70.14" y="350.10" width="5.94" height="9.81" fill="#4dffb2"/>
<rect x="74.08" y="350.10" width="5.94" height="9.81" fill="#80ff80"/>
<rect x="78.01" y="350.10" width="5.94" height="9.81" fill="#bdff42"/>
<rect x="81.95" y="350.10" width="5.94" height="9.81" fill="#ebff14"/>
<rect x="85.88" y="350.10" width="5.93" height="9.81" fill="#fff500"/>
<rect x="89.82" y="350.10" width="5.94" height="9.81" fill="#ffd600"/>
<rect x="93.75" y="350.10" width="5.94" height="9.81" fill="#ffc200"/>
<rect x="97.69" y="350.10" width="5.94" height="9.81" fill="#ffad00"/>
<rect x="101.62" y="350.10" width="5.94" height="9.81" fill="#ff9900"/>
<rect x="105.56" y="350.10" width="5.94" height="9.81" fill="#ff8a00"/>
<rect x="109.49" y="350.10" width="5.94" height="9.81" fill="#ff7a00"/>
<rect x="113.43" y="350.10" width="5.94" height="9.81" fill="#ff6b00"/>
<rect x="117.36" y="350.10" width="5.94" height="9.81" fill="#ff6100"/>
<rect x="121.30" y="350.10" width="5.94" height="9.81" fill="#ff5700"/>
<rect x="125.23" y="350.10" width="5.94" height="9.81" fill="#ff4a00"/>
<rect x="129.17" y="350.10" width="5.94" height="9.81" fill="#ff3d00"/>
<rect x="133.10" y="350.10" width="5.94" height="9.81" fill="#ff3100"/>
<rect x="137.04" y="350.10" width="5.94" height="9.81" fill="#ff2500"/>
<rect x="140.97" y="350.10" width="5.94" height="9.81" fill="#ff1a00"/>
<rect x="144.91" y="350.10" width="5.94" height="9.81" fill="#ff1700"/>
<rect x="148.84" y="350.10" width="5.94" height="9.81" fill="#ff1400"/>
<rect x="152.78" y="350.10" width="5.94" height="9.81" fill="#ff1200"/>
<rect x="156.71" y="350.10" width="53.15" height="9.81" fill="#ff0f00"/>
<rect x="207.87" y="350.10" width="5.94" height="9.81" fill="#ff1200"/>
<rect x="211.80" y="350.10" width="5.94" height="9.81" fill="#ff1400"/>
<rect x="215.74" y="350.10" width="5.94" height="9.81" fill="#ff1700"/>
<rect x="219.67" y="350.10" width="5.94" height="9.81" fill="#ff1a00"/>
<rect x="223.61" y="350.10" width="5.94" height="9.81" fill="#ff1f00"/>
<rect x="227.54" y="350.10" width="5.94" height="9.81" fill="#ff2400"/>
<rect x="231.48" y="350.10" width="5.94" height="9.81" fill="#ff2900"/>
<rect x="235.41" y="350.10" width="5.94" height="9.81" fill="#ff2e00"/>
<rect x="239.35" y="350.10" width="5.94" height="9.81" fill="#ff3300"/>
<rect x="243.28" y="350.10" width="5.94" height="9.81" fill="#ff3800"/>
<rect x="247.22" y="350.10" width="5.94" height="9.81" fill="#ff3d00"/>
<rect x="251.15" y="350.10" width="5.94" height="9.81" fill="#ff4200"/>
<rect x="255.09" y="350.10" width="5.94" height="9.81" fill="#ff4700"/>
<rect x="259.02" y="350.10" width="5.94" height="9.81" fill="#ff4c00"/>
<rect x="262.96" y="350.10" width="5.94" height="9.81" fill="#ff5200"/>
<rect x="266.89" y="350.10" width="5.93" height="9.81" fill="#ff5700"/>
<rect x="270.83" y="350.10" width="5.94" height="9.81" fill="#ff5900"/>
<rect x="274.76" y="350.10" width="5.93" height="9.81" fill="#ff5c00"/>
<rect x="278.70" y="350.10" width="5.90" height="9.81" fill="#ff5e00"/>
<rect x="282.63" y="350.10" width="1.97" height="9.81" fill="#ff6100"/>
<rect x="48.50" y="358.70" width="3.97" height="9.81" fill="#00c7ff"/>
<rect x="50.47" y="358.70" width="5.94" height="9.81" fill="#00b2ff"/>
<rect x="54.40" y="358.70" width="5.94" height="9.81" fill="#0099ff"/>
<rect x="58.34" y="358.70" width="5.93" height="9.81" fill="#00bdff"/>
<rect x="62.27" y="358.70" width="5.94" height="9.81" fill="#00d6ff"/>
<rect x="66.21" y="358.70" width="5.93" height="9.81" fill="#00faff"/>
<rect x="70.14" y="358.70" width="5.94" height="9.81" fill="#1affe5"/>
<rect x="74.08" y="358.70" width="5.94" height="9.81" fill="#47ffb8"/>
<rect x="78.01" y="358.70" width="5.94" height="9.81" fill="#7aff85"/>
<rect x="81.95" y="358.70" width="5.94" height="9.81" fill="#a8ff57"/>
<rect x="85.88" y="358.70" width="5.93" height="9.81" fill="#ccff33"/>
<rect x="89.82" y="358.70" width="5.94" height="9.81" fill="#f0ff0f"/>
<rect x="93.75" y="358.70" width="5.94" height="9.81" fill="#fffa00"/>
<rect x="97.69" y="358.70" width="5.94" height="9.81" fill="#ffe500"/>
<rect x="101.62" y="358.70" width="5.94" height="9.81" fill="#ffcc00"/>
<rect x="105.56" y="358.70" width="5.94" height="9.81" fill="#ffb800"/>
<rect x="109.49" y="358.70" width="5.94" height="9.81" fill="#ffa800"/>
<rect x="113.43" y="358.70" width="5.94" height="9.81" fill="#ff9900"/>
<rect x="117.36" y="358.70" width="5.94" height="9.81" fill="#ff8f00"/>
<rect x="121.30" y="358.70" width="5.94" height="9.81" fill="#ff8500"/>
<rect x="125.23" y="358.70" width="5.94" height="9.81" fill="#ff7700"/>
<rect x="129.17" y="358.70" width="5.94" height="9.81" fill="#ff6800"/>
<rect x="133.10" y="358.70" width="5.94" height="9.81" fill="#ff5900"/>
<rect x="137.04" y="358.70" width="5.94" height="9.81" fill="#ff4900"/>
<rect x="140.97" y="358.70" width="5.94" height="9.81" fill="#ff3800"/>
<rect x="144.91" y="358.70" width="5.94" height="9.81" fill="#ff3300"/>
<rect x="148.84" y="358.70" width="5.94" height="9.81" fill="#ff2e00"/>
<rect x="152.78" y="358.70" width="5.94" height="9.81" fill="#ff2900"/>
<rect x="156.71" y="358.70" width="21.67" height="9.81" fill="#ff2400"/>
<rect x="176.39" y="358.70" width="5.94" height="9.81" fill="#ff2100"/>
<rect x="180.32" y="358.70" width="5.94" height="9.81" fill="#ff1f00"/>
<rect x="184.26" y="358.70" width="5.94" height="9.81" fill="#ff1c00"/>
<rect x="188.19" y="358.70" width="21.67" height="9.81" fill="#ff1a00"/>
<rect x="207.87" y="358.70" width="5.94" height="9.81" fill="#ff1c00"/>
<rect x="211.80" y="358.70" width="5.94" height="9.81" fill="#ff1f00"/>
<rect x="215.74" y="358.70" width="5.94" height="9.81" fill="#ff2100"/>
<rect x="219.67" y="358.70" width="5.94" height="9.81" fill="#ff2400"/>
<rect x="223.61" y="358.70" width="5.94" height="9.81" fill="#ff2600"/>
<rect x="227.54" y="358.70" width="5.94" height="9.81" fill="#ff2900"/>
<rect x="231.48" y="358.70" width="5.94" height="9.81" fill="#ff2b00"/>
<rect x="235.41" y="358.70" width="5.94" height="9.81" fill="#ff2e00"/>
<rect x="239.35" y="358.70" width="5.94" height="9.81" fill="#ff3300"/>
<rect x="243.28" y="358.70" width="5.94" height="9.81" fill="#ff3800"/>
<rect x="247.22" y="358.70" width="5.94" height="9.81" fill="#ff3d00"/>
<rect x="251.15" y="358.70" width="5.94" height="9.81" fill="#ff4200"/>
<rect x="255.09" y="358.70" width="5.94" height="9.81" fill="#ff4700"/>
<rect x="259.02" y="358.70" width="5.94" height="9.81" fill="#ff4c00"/>
<rect x="262.96" y="358.70" width="5.94" height="9.81" fill="#ff5200"/>
<rect x="266.89" y="358.70" width="5.93" height="9.81" fill="#ff5700"/>
<rect x="270.83" y="358.70" width="5.94" height="9.81" fill="#ff5900"/>
<rect x="274.76" y="358.70" width="5.93" height="9.81" fill="#ff5c00"/>
<rect x="278.70" y="358.70" width="5.90" height="9.81" fill="#ff5e00"/>
<rect x="282.63" y="358.70" width="1.97" height="9.81" fill="#ff6100"/>
<rect x="48.50" y="367.31" width="3.97" height="9.81" fill="#00faff"/>
<rect x="50.47" y="367.31" width="5.94" height="9.81" fill="#05fffa"/>
<rect x="54.40" y="367.31" width="5.94" height="9.81" fill="#0ffff0"/>
<rect x="58.34" y="367.31" width="5.93" height="9.81" fill="#14ffeb"/>
<rect x="62.27" y="367.31" width="5.94" height="9.81" fill="#1affe5"/>
<rect x="66.21" y="367.31" width="5.93" height="9.81" fill="#29ffd6"/>
<rect x="70.14" y="367.31" width="5.94" height="9.81" fill="#38ffc7"/>
<rect x="74.08" y="367.31" width="5.94" height="9.81" fill="#47ffb8"/>
<rect x="78.01" y="367.31" width="5.94" height="9.81" fill="#57ffa8"/>
<rect x="81.95" y="367.31" width="5.94" height="9.81" fill="#6bff94"/>
<rect x="85.88" y="367.31" width="5.93" height="9.81" fill="#80ff80"/>
<rect x="89.82" y="367.31" width="5.94" height="9.81" fill="#99ff66"/>
<rect x="93.75" y="367.31" width="5.94" height="9.81" fill="#b3ff4c"/>
<rect x="97.69" y="367.31" width="5.94" height="9.81" fill="#c7ff38"/>
<rect x="101.62" y="367.31" width="5.94" height="9.81" fill="#dbff24"/>
<rect x="105.56" y="367.31" width="5.94" height="9.81" fill="#faff05"/>
<rect x="109.49" y="367.31" width="5.94" height="9.81" fill="#fff000"/>
<rect x="113.43" y="367.31" width="5.94" height="9.81" fill="#ffdb00"/>
<rect x="117.36" y="367.31" width="5.94" height="9.81" fill="#ffc700"/>
<rect x="121.30" y="367.31" width="5.94" height="9.81" fill="#ffbd00"/>
<rect x="125.23" y="367.31" width="5.94" height="9.81" fill="#ffb400"/>
<rect x="129.17" y="367.31" width="5.94" height="9.81" fill="#ffa900"/>
<rect x="133.10" y="367.31" width="5.94" height="9.81" fill="#ff9d00"/>
<rect x="137.04" y="367.31" width="5.94" height="9.81" fill="#ff8f00"/>
<rect x="140.97" y="367.31" width="5.94" height="9.81" fill="#ff8000"/>
<rect x="144.91" y="367.31" width="5.94" height="9.81" fill="#ff7800"/>
<rect x="148.84" y="367.31" width="5.94" height="9.81" fill="#ff7000"/>
<rect x="152.78" y="367.31" width="5.94" height="9.81" fill="#ff6900"/>
<rect x="156.71" y="367.31" width="5.93" height="9.81" fill="#ff6100"/>
<rect x="160.65" y="367.31" width="5.94" height="9.81" fill="#ff5e00"/>
<rect x="164.58" y="367.31" width="5.94" height="9.81" fill="#ff5c00"/>
<rect x="168.52" y="367.31" width="5.94" height="9.81" fill="#ff5900"/>
<rect x="172.45" y="367.31" width="5.94" height="9.81" fill="#ff5700"/>
<rect x="176.39" y="367.31" width="5.94" height="9.81" fill="#ff5200"/>
<rect x="180.32" y="367.31" width="5.94" height="9.81" fill="#ff4c00"/>
<rect x="184.26" y="367.31" width="5.94" height="9.81" fill="#ff4700"/>
<rect x="188.19" y="367.31" width="5.94" height="9.81" fill="#ff4200"/>
<rect x="192.13" y="367.31" width="5.94" height="9.81" fill="#ff4000"/>
<rect x="196.06" y="367.31" width="5.94" height="9.81" fill="#ff3d00"/>
<rect x="200.00" y="367.31" width="5.94" height="9.81" fill="#ff3b00"/>
<rect x="203.93" y="367.31" width="37.41" height="9.81" fill="#ff3800"/>
<rect x="239.35" y="367.31" width="5.94" height="9.81" fill="#ff3b00"/>
<rect x="243.28" y="367.31" width="5.94" height="9.81" fill="#ff3d00"/>
<rect x="247.22" y="367.31" width="5.94" height="9.81" fill="#ff4000"/>
<rect x="251.15" y="367.31" width="5.94" height="9.81" fill="#ff4200"/>
<rect x="255.09" y="367.31" width="5.94" height="9.81" fill="#ff4700"/>
<rect x="259.02" y="367.31" width="5.94" height="9.81" fill="#ff4c00"/>
<rect x="262.96" y="367.31" width="5.94" height="9.81" fill="#ff5200"/>
<rect x="266.89" y="367.31" width="5.93" height="9.81" fill="#ff5700"/>
<rect x="270.83" y="367.31" width="5.94" height="9.81" fill="#ff5900"/>
<rect x="274.76" y="367.31" width="5.93" height="9.81" fill="#ff5c00"/>
<rect x="278.70" y="367.31" width="5.90" height="9.81" fill="#ff5e00"/>
<rect x="282.63" y="367.31" width="1.97" height="9.81" fill="#ff6100"/>
<rect x="48.50" y="375.91" width="3.97" height="9.81" fill="#1affe5"/>
<rect x="50.47" y="375.91" width="5.94" height="9.81" fill="#24ffdb"/>
<rect x="54.40" y="375.91" width="5.94" height="9.81" fill="#2effd1"/>
<rect x="58.34" y="375.91" width="5.93" height="9.81" fill="#38ffc7"/>
<rect x="62.27" y="375.91" width="5.94" height="9.81" fill="#42ffbd"/>
<rect x="66.21" y="375.91" width="5.93" height="9.81" fill="#4dffb2"/>
<rect x="70.14" y="375.91" width="5.94" height="9.81" fill="#57ffa8"/>
<rect x="74.08" y="375.91" width="5.94" height="9.81" fill="#61ff9e"/>
<rect x="78.01" y="375.91" width="5.94" height="9.81" fill="#6bff94"/>
<rect x="81.95" y="375.91" width="5.94" height="9.81" fill="#75ff8a"/>
<rect x="85.88" y="375.91" width="5.93" height="9.81" fill="#80ff80"/>
<rect x="89.82" y="375.91" width="5.94" height="9.81" fill="#8aff75"/>
<rect x="93.75" y="375.91" width="5.94" height="9.81" fill="#94ff6b"/>
<rect x="97.69" y="375.91" width="5.94" height="9.81" fill="#a1ff5e"/>
<rect x="101.62" y="375.91" width="5.94" height="9.81" fill="#adff52"/>
<rect x="105.56" y="375.91" width="5.94" height="9.81" fill="#baff45"/>
<rect x="109.49" y="375.91" width="5.94" height="9.81" fill="#c7ff38"/>
<rect x="113.43" y="375.91" width="5.94" height="9.81" fill="#d4ff2b"/>
<rect x="117.36" y="375.91" width="5.94" height="9.81" fill="#e0ff1f"/>
<rect x="121.30" y="375.91" width="5.94" height="9.81" fill="#edff12"/>
<rect x="125.23" y="375.91" width="5.94" height="9.81" fill="#faff05"/>
<rect x="129.17" y="375.91" width="5.94" height="9.81" fill="#fffa00"/>
<rect x="133.10" y="375.91" width="5.94" height="9.81" fill="#fff000"/>
<rect x="137.04" y="375.91" width="5.94" height="9.81" fill="#ffe500"/>
<rect x="140.97" y="375.91" width="5.94" height="9.81" fill="#ffdb00"/>
<rect x="144.91" y="375.91" width="5.94" height="9.81" fill="#ffd400"/>
<rect x="148.84" y="375.91" width="5.94" height="9.81" fill="#ffcc00"/>
<rect x="152.78" y="375.91" width="5.94" height="9.81" fill="#ffc400"/>
<rect x="156.71" y="375.91" width="5.93" height="9.81" fill="#ffbd00"/>
<rect x="160.65" y="375.91" width="5.94" height="9.81" fill="#ffb800"/>
<rect x="164.58" y="375.91" width="5.94" height="9.81" fill="#ffb300"/>
<rect x="168.52" y="375.91" width="5.94" height="9.81" fill="#ffad00"/>
<rect x="172.45" y="375.91" width="5.94" height="9.81" fill="#ffa800"/>
<rect x="176.39" y="375.91" width="5.94" height="9.81" fill="#ffa300"/>
<rect x="180.32" y="375.91" width="5.94" height="9.81" fill="#ff9e00"/>
<rect x="184.26" y="375.91" width="5.94" height="9.81" fill="#ff9900"/>
<rect x="188.19" y="375.91" width="5.94" height="9.81" fill="#ff9400"/>
<rect x="192.13" y="375.91" width="5.94" height="9.81" fill="#ff8f00"/>
<rect x="196.06" y="375.91" width="5.94" height="9.81" fill="#ff8a00"/>
<rect x="200.00" y="375.91" width="5.94" height="9.81" fill="#ff8500"/>
<rect x="203.93" y="375.91" width="5.93" height="9.81" fill="#ff8000"/>
<rect x="207.87" y="375.91" width="5.94" height="9.81" fill="#ff7a00"/>
<rect x="211.80" y="375.91" width="5.94" height="9.81" fill="#ff7500"/>
<rect x="215.74" y="375.91" width="5.94" height="9.81" fill="#ff7000"/>
<rect x="219.67" y="375.91" width="5.94" height="9.81" fill="#ff6b00"/>
<rect x="223.61" y="375.91" width="5.94" height="9.81" fill="#ff6600"/>
<rect x="227.54" y="375.91" width="5.94" height="9.81" fill="#ff6100"/>
<rect x="231.48" y="375.91" width="5.94" height="9.81" fill="#ff5c00"/>
<rect x="235.41" y="375.91" width="5.94" height="9.81" fill="#ff5700"/>
<rect x="239.35" y="375.91" width="5.94" height="9.81" fill="#ff5400"/>
<rect x="243.28" y="375.91" width="5.94" height="9.81" fill="#ff5200"/>
<rect x="247.22" y="375.91" width="5.94" height="9.81" fill="#ff4f00"/>
<rect x="251.15" y="375.91" width="5.94" height="9.81" fill="#ff4c00"/>
<rect x="255.09" y="375.91" width="5.94" height="9.81" fill="#ff4f00"/>
<rect x="259.02" y="375.91" width="5.94" height="9.81" fill="#ff5200"/>
<rect x="262.96" y="375.91" width="5.94" height="9.81" fill="#ff5400"/>
<rect x="266.89" y="375.91" width="5.93" height="9.81" fill="#ff5700"/>
<rect x="270.83" y="375.91" width="5.94" height="9.81" fill="#ff5900"/>
<rect x="274.76" y="375.91" width="5.93" height="9.81" fill="#ff5c00"/>
<rect x="278.70" y="375.91" width="5.90" height="9.81" fill="#ff5e00"/>
<rect x="282.63" y="375.91" width="1.97" height="9.81" fill="#ff6100"/>
<rect x="48.50" y="384.52" width="3.97" height="9.81" fill="#2effd1"/>
<rect x="50.47" y="384.52" width="5.94" height="9.81" fill="#36ffc9"/>
<rect x="54.40" y="384.52" width="5.94" height="9.81" fill="#3dffc2"/>
<rect x="58.34" y="384.52" width="5.93" height="9.81" fill="#45ffba"/>
<rect x="62.27" y="384.52" width="5.94" height="9.81" fill="#4dffb2"/>
<rect x="66.21" y="384.52" width="5.93" height="9.81" fill="#57ffa8"/>
<rect x="70.14" y="384.52" width="5.94" height="9.81" fill="#61ff9e"/>
<rect x="74.08" y="384.52" width="5.94" height="9.81" fill="#6bff94"/>
<rect x="78.01" y="384.52" width="5.94" height="9.81" fill="#75ff8a"/>
<rect x="81.95" y="384.52" width="5.94" height="9.81" fill="#7dff82"/>
<rect x="85.88" y="384.52" width="5.93" height="9.81" fill="#85ff7a"/>
<rect x="89.82" y="384.52" width="5.94" height="9.81" fill="#8cff73"/>
<rect x="93.75" y="384.52" width="5.94" height="9.81" fill="#94ff6b"/>
<rect x="97.69" y="384.52" width="5.94" height="9.81" fill="#9cff63"/>
<rect x="101.62" y="384.52" width="5.94" height="9.81" fill="#a3ff5c"/>
<rect x="105.56" y="384.52" width="5.94" height="9.81" fill="#abff54"/>
<rect x="109.49" y="384.52" width="5.94" height="9.81" fill="#b3ff4c"/>
<rect x="113.43" y="384.52" width="5.94" height="9.81" fill="#baff45"/>
<rect x="117.36" y="384.52" width="5.94" height="9.81" fill="#c2ff3d"/>
<rect x="121.30" y="384.52" width="5.94" height="9.81" fill="#c9ff36"/>
<rect x="125.23" y="384.52" width="5.94" height="9.81" fill="#d1ff2e"/>
<rect x="129.17" y="384.52" width="5.94" height="9.81" fill="#d6ff29"/>
<rect x="133.10" y="384.52" width="5.94" height="9.81" fill="#dbff24"/>
<rect x="137.04" y="384.52" width="5.94" height="9.81" fill="#e0ff1f"/>
<rect x="140.97" y="384.52" width="5.94" height="9.81" fill="#e5ff1a"/>
<rect x="144.91" y="384.52" width="5.94" height="9.81" fill="#ebff14"/>
<rect x="148.84" y="384.52" width="5.94" height="9.81" fill="#f0ff0f"/>
<rect x="152.78" y="384.52" width="5.94" height="9.81" fill="#f5ff0a"/>
<rect x="156.71" y="384.52" width="5.93" height="9.81" fill="#faff05"/>
<rect x="160.65" y="384.52" width="5.94" height="9.81" fill="#fcff03"/>
<rect x="164.58" y="384.52" width="5.94" height="9.81" fill="#ffff00"/>
<rect x="168.52" y="384.52" width="5.94" height="9.81" fill="#fffc00"/>
<rect x="172.45" y="384.52" width="5.94" height="9.81" fill="#fffa00"/>
<rect x="176.39" y="384.52" width="5.94" height="9.81" fill="#fff500"/>
<rect x="180.32" y="384.52" width="5.94" height="9.81" fill="#fff000"/>
<rect x="184.26" y="384.52" width="5.94" height="9.81" fill="#ffeb00"/>
<rect x="188.19" y="384.52" width="5.94" height="9.81" fill="#ffe500"/>
<rect x="192.13" y="384.52" width="5.94" height="9.81" fill="#ffde00"/>
<rect x="196.06" y="384.52" width="5.94" height="9.81" fill="#ffd600"/>
<rect x="200.00" y="384.52" width="5.94" height="9.81" fill="#ffcf00"/>
<rect x="203.93" y="384.52" width="5.93" height="9.81" fill="#ffc700"/>
<rect x="207.87" y="384.52" width="5.94" height="9.81" fill="#ffbf00"/>
<rect x="211.80" y="384.52" width="5.94" height="9.81" fill="#ffb800"/>
<rect x="215.74" y="384.52" width="5.94" height="9.81" fill="#ffb000"/>
<rect x="219.67" y="384.52" width="5.94" height="9.81" fill="#ffa800"/>
<rect x="223.61" y="384.52" width="5.94" height="9.81" fill="#ffa300"/>
<rect x="227.54" y="384.52" width="5.94" height="9.81" fill="#ff9e00"/>
<rect x="231.48" y="384.52" width="5.94" height="9.81" fill="#ff9900"/>
<rect x="235.41" y="384.52" width="5.94" height="9.81" fill="#ff9400"/>
<rect x="239.35" y="384.52" width="5.94" height="9.81" fill="#ff8f00"/>
<rect x="243.28" y="384.52" width="5.94" height="9.81" fill="#ff8a00"/>
<rect x="247.22" y="384.52" width="5.94" height="9.81" fill="#ff8500"/>
<rect x="251.15" y="384.52" width="5.94" height="9.81" fill="#ff8000"/>
<rect x="255.09" y="384.52" width="5.94" height="9.81" fill="#ff7a00"/>
<rect x="259.02" y="384.52" width="5.94" height="9.81" fill="#ff7500"/>
<rect x="262.96" y="384.52" width="5.94" height="9.81" fill="#ff7000"/>
<rect x="266.89" y="384.52" width="17.71" height="9.81" fill="#ff6b00"/>
<rect x="48.50" y="393.12" width="3.97" height="9.81" fill="#2effd1"/>
<rect x="50.47" y="393.12" width="5.94" height="9.81" fill="#38ffc7"/>
<rect x="54.40" y="393.12" width="5.94" height="9.81" fill="#42ffbd"/>
<rect x="58.34" y="393.12" width="5.93" height="9.81" fill="#4dffb2"/>
<rect x="62.27" y="393.12" width="5.94" height="9.81" fill="#57ffa8"/>
<rect x="66.21" y="393.12" width="5.93" height="9.81" fill="#5effa1"/>
<rect x="70.14" y="393.12" width="5.94" height="9.81" fill="#66ff99"/>
<rect x="74.08" y="393.12" width="5.94" height="9.81" fill="#6eff91"/>
<rect x="78.01" y="393.12" width="5.94" height="9.81" fill="#75ff8a"/>
<rect x="81.95" y="393.12" width="5.94" height="9.81" fill="#7cff83"/>
<rect x="85.88" y="393.12" width="5.93" height="9.81" fill="#82ff7d"/>
<rect x="89.82" y="393.12" width="5.94" height="9.81" fill="#88ff77"/>
<rect x="93.75" y="393.12" width="5.94" height="9.81" fill="#8fff70"/>
<rect x="97.69" y="393.12" width="5.94" height="9.81" fill="#94ff6b"/>
<rect x="101.62" y="393.12" width="5.94" height="9.81" fill="#99ff66"/>
<rect x="105.56" y="393.12" width="5.94" height="9.81" fill="#9eff61"/>
<rect x="109.49" y="393.12" width="5.94" height="9.81" fill="#a3ff5c"/>
<rect x="113.43" y="393.12" width="5.94" height="9.81" fill="#a8ff57"/>
<rect x="117.36" y="393.12" width="5.94" height="9.81" fill="#adff52"/>
<rect x="121.30" y="393.12" width="5.94" height="9.81" fill="#b3ff4c"/>
<rect x="125.23" y="393.12" width="5.94" height="9.81" fill="#b8ff47"/>
<rect x="129.17" y="393.12" width="5.94" height="9.81" fill="#baff45"/>
<rect x="133.10" y="393.12" width="5.94" height="9.81" fill="#bdff42"/>
<rect x="137.04" y="393.12" width="5.94" height="9.81" fill="#bfff40"/>
<rect x="140.97" y="393.12" width="5.94" height="9.81" fill="#c2ff3d"/>
<rect x="144.91" y="393.12" width="5.94" height="9.81" fill="#c4ff3b"/>
<rect x="148.84" y="393.12" width="5.94" height="9.81" fill="#c7ff38"/>
<rect x="152.78" y="393.12" width="5.94" height="9.81" fill="#c9ff36"/>
<rect x="156.71" y="393.12" width="21.67" height="9.81" fill="#ccff33"/>
<rect x="176.39" y="393.12" width="5.94" height="9.81" fill="#cfff30"/>
<rect x="180.32" y="393.12" width="5.94" height="9.81" fill="#d1ff2e"/>
<rect x="184.26" y="393.12" width="5.94" height="9.81" fill="#d4ff2b"/>
<rect x="188.19" y="393.12" width="5.94" height="9.81" fill="#d6ff29"/>
<rect x="192.13" y="393.12" width="5.94" height="9.81" fill="#dbff24"/>
<rect x="196.06" y="393.12" width="5.94" height="9.81" fill="#e0ff1f"/>
<rect x="200.00" y="393.12" width="5.94" height="9.81" fill="#e5ff1a"/>
<rect x="203.93" y="393.12" width="5.93" height="9.81" fill="#ebff14"/>
<rect x="207.87" y="393.12" width="5.94" height="9.81" fill="#f0ff0f"/>
<rect x="211.80" y="393.12" width="5.94" height="9.81" fill="#f5ff0a"/>
<rect x="215.74" y="393.12" width="5.94" height="9.81" fill="#faff05"/>
<rect x="219.67" y="393.12" width="5.94" height="9.81" fill="#ffff00"/>
<rect x="223.61" y="393.12" width="5.94" height="9.81" fill="#fff900"/>
<rect x="227.54" y="393.12" width="5.94" height="9.81" fill="#fff200"/>
<rect x="231.48" y="393.12" width="5.94" height="9.81" fill="#ffec00"/>
<rect x="235.41" y="393.12" width="5.94" height="9.81" fill="#ffe500"/>
<rect x="239.35" y="393.12" width="5.94" height="9.81" fill="#ffde00"/>
<rect x="243.28" y="393.12" width="5.94" height="9.81" fill="#ffd600"/>
<rect x="247.22" y="393.12" width="5.94" height="9.81" fill="#ffcf00"/>
<rect x="251.15" y="393.12" width="5.94" height="9.81" fill="#ffc700"/>
<rect x="255.09" y="393.12" width="5.94" height="9.81" fill="#ffc200"/>
<rect x="259.02" y="393.12" width="5.94" height="9.81" fill="#ffbd00"/>
<rect x="262.96" y="393.12" width="5.94" height="9.81" fill="#ffb800"/>
<rect x="266.89" y="393.12" width="5.93" height="9.81" fill="#ffb300"/>
<rect x="270.83" y="393.12" width="5.94" height="9.81" fill="#ffb000"/>
<rect x="274.76" y="393.12" width="5.93" height="9.81" fill="#ffad00"/>
<rect x="278.70" y="393.12" width="5.90" height="9.81" fill="#ffab00"/>
<rect x="282.63" y="393.12" width="1.97" height="9.81" fill="#ffa800"/>
<rect x="48.50" y="401.73" width="3.97" height="9.81" fill="#2effd1"/>
<rect x="50.47" y="401.73" width="5.94" height="9.81" fill="#36ffc9"/>
<rect x="54.40" y="401.73" width="5.94" height="9.81" fill="#3dffc2"/>
<rect x="58.34" y="401.73" width="5.93" height="9.81" fill="#45ffba"/>
<rect x="62.27" y="401.73" width="5.94" height="9.81" fill="#4dffb2"/>
<rect x="66.21" y="401.73" width="5.93" height="9.81" fill="#54ffab"/>
<rect x="70.14" y="401.73" width="5.94" height="9.81" fill="#5cffa3"/>
<rect x="74.08" y="401.73" width="5.94" height="9.81" fill="#63ff9c"/>
<rect x="78.01" y="401.73" width="5.94" height="9.81" fill="#6bff94"/>
<rect x="81.95" y="401.73" width="5.94" height="9.81" fill="#6fff90"/>
<rect x="85.88" y="401.73" width="5.93" height="9.81" fill="#73ff8c"/>
<rect x="89.82" y="401.73" width="5.94" height="9.81" fill="#77ff88"/>
<rect x="93.75" y="401.73" width="5.94" height="9.81" fill="#7aff85"/>
<rect x="97.69" y="401.73" width="5.94" height="9.81" fill="#7eff81"/>
<rect x="101.62" y="401.73" width="5.94" height="9.81" fill="#82ff7d"/>
<rect x="105.56" y="401.73" width="5.94" height="9.81" fill="#86ff79"/>
<rect x="109.49" y="401.73" width="5.94" height="9.81" fill="#8aff75"/>
<rect x="113.43" y="401.73" width="5.94" height="9.81" fill="#8cff73"/>
<rect x="117.36" y="401.73" width="5.94" height="9.81" fill="#8fff70"/>
<rect x="121.30" y="401.73" width="5.94" height="9.81" fill="#91ff6e"/>
<rect x="125.23" y="401.73" width="5.94" height="9.81" fill="#94ff6b"/>
<rect x="129.17" y="401.73" width="5.94" height="9.81" fill="#96ff69"/>
<rect x="133.10" y="401.73" width="5.94" height="9.81" fill="#99ff66"/>
<rect x="137.04" y="401.73" width="5.94" height="9.81" fill="#9cff63"/>
<rect x="140.97" y="401.73" width="5.94" height="9.81" fill="#9eff61"/>
<rect x="144.91" y="401.73" width="5.94" height="9.81" fill="#a1ff5e"/>
<rect x="148.84" y="401.73" width="5.94" height="9.81" fill="#a3ff5c"/>
<rect x="152.78" y="401.73" width="5.94" height="9.81" fill="#a6ff59"/>
<rect x="156.71" y="401.73" width="21.67" height="9.81" fill="#a8ff57"/>
<rect x="176.39" y="401.73" width="5.94" height="9.81" fill="#abff54"/>
<rect x="180.32" y="401.73" width="5.94" height="9.81" fill="#adff52"/>
<rect x="184.26" y="401.73" width="5.94" height="9.81" fill="#b0ff4f"/>
<rect x="188.19" y="401.73" width="5.94" height="9.81" fill="#b3ff4c"/>
<rect x="192.13" y="401.73" width="5.94" height="9.81" fill="#b5ff4a"/>
<rect x="196.06" y="401.73" width="5.94" height="9.81" fill="#b8ff47"/>
<rect x="200.00" y="401.73" width="5.94" height="9.81" fill="#baff45"/>
<rect x="203.93" y="401.73" width="5.93" height="9.81" fill="#bdff42"/>
<rect x="207.87" y="401.73" width="5.94" height="9.81" fill="#c1ff3e"/>
<rect x="211.80" y="401.73" width="5.94" height="9.81" fill="#c4ff3b"/>
<rect x="215.74" y="401.73" width="5.94" height="9.81" fill="#c8ff37"/>
<rect x="219.67" y="401.73" width="5.94" height="9.81" fill="#ccff33"/>
<rect x="223.61" y="401.73" width="5.94" height="9.81" fill="#d4ff2b"/>
<rect x="227.54" y="401.73" width="5.94" height="9.81" fill="#dbff24"/>
<rect x="231.48" y="401.73" width="5.94" height="9.81" fill="#e3ff1c"/>
<rect x="235.41" y="401.73" width="5.94" height="9.81" fill="#ebff14"/>
<rect x="239.35" y="401.73" width="5.94" height="9.81" fill="#f0ff0f"/>
<rect x="243.28" y="401.73" width="5.94" height="9.81" fill="#f5ff0a"/>
<rect x="247.22" y="401.73" width="5.94" height="9.81" fill="#faff05"/>
<rect x="251.15" y="401.73" width="5.94" height="9.81" fill="#ffff00"/>
<rect x="255.09" y="401.73" width="5.94" height="9.81" fill="#fffe00"/>
<rect x="259.02" y="401.73" width="5.94" height="9.81" fill="#fffc00"/>
<rect x="262.96" y="401.73" width="5.94" height="9.81" fill="#fffb00"/>
<rect x="266.89" y="401.73" width="5.93" height="9.81" fill="#fffa00"/>
<rect x="270.83" y="401.73" width="5.94" height="9.81" fill="#fff700"/>
<rect x="274.76" y="401.73" width="5.93" height="9.81" fill="#fff500"/>
<rect x="278.70" y="401.73" width="5.90" height="9.81" fill="#fff200"/>
<rect x="282.63" y="401.73" width="1.97" height="9.81" fill="#fff000"/>
<rect x="48.50" y="410.33" width="3.97" height="9.81" fill="#1affe5"/>
<rect x="50.47" y="410.33" width="5.94" height="9.81" fill="#21ffde"/>
<rect x="54.40" y="410.33" width="5.94" height="9.81" fill="#29ffd6"/>
<rect x="58.34" y="410.33" width="5.93" height="9.81" fill="#30ffcf"/>
<rect x="62.27" y="410.33" width="5.94" height="9.81" fill="#38ffc7"/>
<rect x="66.21" y="410.33" width="5.93" height="9.81" fill="#3effc1"/>
<rect x="70.14" y="410.33" width="5.94" height="9.81" fill="#45ffba"/>
<rect x="74.08" y="410.33" width="5.94" height="9.81" fill="#4bffb4"/>
<rect x="78.01" y="410.33" width="5.94" height="9.81" fill="#52ffad"/>
<rect x="81.95" y="410.33" width="5.94" height="9.81" fill="#54ffab"/>
<rect x="85.88" y="410.33" width="5.93" height="9.81" fill="#57ffa8"/>
<rect x="89.82" y="410.33" width="5.94" height="9.81" fill="#59ffa6"/>
<rect x="93.75" y="410.33" width="5.94" height="9.81" fill="#5cffa3"/>
<rect x="97.69" y="410.33" width="5.94" height="9.81" fill="#60ff9f"/>
<rect x="101.62" y="410.33" width="5.94" height="9.81" fill="#63ff9c"/>
<rect x="105.56" y="410.33" width="5.94" height="9.81" fill="#67ff98"/>
<rect x="109.49" y="410.33" width="5.94" height="9.81" fill="#6bff94"/>
<rect x="113.43" y="410.33" width="5.94" height="9.81" fill="#6eff91"/>
<rect x="117.36" y="410.33" width="5.94" height="9.81" fill="#70ff8f"/>
<rect x="121.30" y="410.33" width="5.94" height="9.81" fill="#73ff8c"/>
<rect x="125.23" y="410.33" width="5.94" height="9.81" fill="#75ff8a"/>
<rect x="129.17" y="410.33" width="5.94" height="9.81" fill="#78ff87"/>
<rect x="133.10" y="410.33" width="5.94" height="9.81" fill="#7aff85"/>
<rect x="137.04" y="410.33" width="5.94" height="9.81" fill="#7dff82"/>
<rect x="140.97" y="410.33" width="5.94" height="9.81" fill="#80ff80"/>
<rect x="144.91" y="410.33" width="5.94" height="9.81" fill="#82ff7d"/>
<rect x="148.84" y="410.33" width="5.94" height="9.81" fill="#85ff7a"/>
<rect x="152.78" y="410.33" width="5.94" height="9.81" fill="#87ff78"/>
<rect x="156.71" y="410.33" width="37.41" height="9.81" fill="#8aff75"/>
<rect x="192.13" y="410.33" width="5.94" height="9.81" fill="#8cff73"/>
<rect x="196.06" y="410.33" width="5.94" height="9.81" fill="#8fff70"/>
<rect x="200.00" y="410.33" width="5.94" height="9.81" fill="#91ff6e"/>
<rect x="203.93" y="410.33" width="5.93" height="9.81" fill="#94ff6b"/>
<rect x="207.87" y="410.33" width="5.94" height="9.81" fill="#96ff69"/>
<rect x="211.80" y="410.33" width="5.94" height="9.81" fill="#99ff66"/>
<rect x="215.74" y="410.33" width="5.94" height="9.81" fill="#9cff63"/>
<rect x="219.67" y="410.33" width="5.94" height="9.81" fill="#9eff61"/>
<rect x="223.61" y="410.33" width="5.94" height="9.81" fill="#a2ff5d"/>
<rect x="227.54" y="410.33" width="5.94" height="9.81" fill="#a6ff59"/>
<rect x="231.48" y="410.33" width="5.94" height="9.81" fill="#aaff55"/>
<rect x="235.41" y="410.33" width="5.94" height="9.81" fill="#adff52"/>
<rect x="239.35" y="410.33" width="5.94" height="9.81" fill="#b1ff4e"/>
<rect x="243.28" y="410.33" width="5.94" height="9.81" fill="#b5ff4a"/>
<rect x="247.22" y="410.33" width="5.94" height="9.81" fill="#b9ff46"/>
<rect x="251.15" y="410.33" width="5.94" height="9.81" fill="#bdff42"/>
<rect x="255.09" y="410.33" width="5.94" height="9.81" fill="#bfff40"/>
<rect x="259.02" y="410.33" width="5.94" height="9.81" fill="#c2ff3d"/>
<rect x="262.96" y="410.33" width="5.94" height="9.81" fill="#c4ff3b"/>
<rect x="266.89" y="410.33" width="5.93" height="9.81" fill="#c7ff38"/>
<rect x="270.83" y="410.33" width="5.94" height="9.81" fill="#c9ff36"/>
<rect x="274.76" y="410.33" width="5.93" height="9.81" fill="#ccff33"/>
<rect x="278.70" y="410.33" width="5.90" height="9.81" fill="#cfff30"/>
<rect x="282.63" y="410.33" width="1.97" height="9.81" fill="#d1ff2e"/>
<rect x="48.50" y="418.94" width="3.97" height="9.81" fill="#00dbff"/>
<rect x="50.47" y="418.94" width="5.94" height="9.81" fill="#00e3ff"/>
<rect x="54.40" y="418.94" width="5.94" height="9.81" fill="#00ebff"/>
<rect x="58.34" y="418.94" width="5.93" height="9.81" fill="#00f2ff"/>
<rect x="62.27" y="418.94" width="5.94" height="9.81" fill="#00faff"/>
<rect x="66.21" y="418.94" width="5.93" height="9.81" fill="#00ffff"/>
<rect x="70.14" y="418.94" width="5.94" height="9.81" fill="#05fffa"/>
<rect x="74.08" y="418.94" width="5.94" height="9.81" fill="#0afff5"/>
<rect x="78.01" y="418.94" width="5.94" height="9.81" fill="#0ffff0"/>
<rect x="81.95" y="418.94" width="5.94" height="9.81" fill="#13ffec"/>
<rect x="85.88" y="418.94" width="5.93" height="9.81" fill="#17ffe8"/>
<rect x="89.82" y="418.94" width="5.94" height="9.81" fill="#1bffe4"/>
<rect x="93.75" y="418.94" width="5.94" height="9.81" fill="#1fffe0"/>
<rect x="97.69" y="418.94" width="5.94" height="9.81" fill="#22ffdd"/>
<rect x="101.62" y="418.94" width="5.94" height="9.81" fill="#26ffd9"/>
<rect x="105.56" y="418.94" width="5.94" height="9.81" fill="#2affd5"/>
<rect x="109.49" y="418.94" width="5.94" height="9.81" fill="#2effd1"/>
<rect x="113.43" y="418.94" width="5.94" height="9.81" fill="#33ffcc"/>
<rect x="117.36" y="418.94" width="5.94" height="9.81" fill="#38ffc7"/>
<rect x="121.30" y="418.94" width="5.94" height="9.81" fill="#3dffc2"/>
<rect x="125.23" y="418.94" width="5.94" height="9.81" fill="#42ffbd"/>
<rect x="129.17" y="418.94" width="5.94" height="9.81" fill="#47ffb8"/>
<rect x="133.10" y="418.94" width="5.94" height="9.81" fill="#4dffb2"/>
<rect x="137.04" y="418.94" width="5.94" height="9.81" fill="#52ffad"/>
<rect x="140.97" y="418.94" width="5.94" height="9.81" fill="#57ffa8"/>
<rect x="144.91" y="418.94" width="5.94" height="9.81" fill="#59ffa6"/>
<rect x="148.84" y="418.94" width="5.94" height="9.81" fill="#5cffa3"/>
<rect x="152.78" y="418.94" width="5.94" height="9.81" fill="#5effa1"/>
<rect x="156.71" y="418.94" width="37.41" height="9.81" fill="#61ff9e"/>
<rect x="192.13" y="418.94" width="5.94" height="9.81" fill="#63ff9c"/>
<rect x="196.06" y="418.94" width="5.94" height="9.81" fill="#66ff99"/>
<rect x="200.00" y="418.94" width="5.94" height="9.81" fill="#69ff96"/>
<rect x="203.93" y="418.94" width="5.93" height="9.81" fill="#6bff94"/>
<rect x="207.87" y="418.94" width="5.94" height="9.81" fill="#6eff91"/>
<rect x="211.80" y="418.94" width="5.94" height="9.81" fill="#70ff8f"/>
<rect x="215.74" y="418.94" width="5.94" height="9.81" fill="#73ff8c"/>
<rect x="219.67" y="418.94" width="5.94" height="9.81" fill="#75ff8a"/>
<rect x="223.61" y="418.94" width="5.94" height="9.81" fill="#79ff86"/>
<rect x="227.54" y="418.94" width="5.94" height="9.81" fill="#7dff82"/>
<rect x="231.48" y="418.94" width="5.94" height="9.81" fill="#81ff7e"/>
<rect x="235.41" y="418.94" width="5.94" height="9.81" fill="#85ff7a"/>
<rect x="239.35" y="418.94" width="5.94" height="9.81" fill="#8bff74"/>
<rect x="243.28" y="418.94" width="5.94" height="9.81" fill="#91ff6e"/>
<rect x="247.22" y="418.94" width="5.94" height="9.81" fill="#98ff67"/>
<rect x="251.15" y="418.94" width="5.94" height="9.81" fill="#9eff61"/>
<rect x="255.09" y="418.94" width="5.94" height="9.81" fill="#a1ff5e"/>
<rect x="259.02" y="418.94" width="5.94" height="9.81" fill="#a3ff5c"/>
<rect x="262.96" y="418.94" width="5.94" height="9.81" fill="#a6ff59"/>
<rect x="266.89" y="418.94" width="5.93" height="9.81" fill="#a8ff57"/>
<rect x="270.83" y="418.94" width="5.94" height="9.81" fill="#abff54"/>
<rect x="274.76" y="418.94" width="5.93" height="9.81" fill="#adff52"/>
<rect x="278.70" y="418.94" width="5.90" height="9.81" fill="#b0ff4f"/>
<rect x="282.63" y="418.94" width="1.97" height="9.81" fill="#b3ff4c"/>
<rect x="48.50" y="427.54" width="3.97" height="8.61" fill="#00a8ff"/>
<rect x="50.47" y="427.54" width="5.94" height="8.61" fill="#00adff"/>
<rect x="54.40" y="427.54" width="5.94" height="8.61" fill="#00b2ff"/>
<rect x="58.34" y="427.54" width="5.93" height="8.61" fill="#00b8ff"/>
<rect x="62.27" y="427.54" width="5.94" height="8.61" fill="#00bdff"/>
<rect x="66.21" y="427.54" width="5.93" height="8.61" fill="#00c4ff"/>
<rect x="70.14" y="427.54" width="5.94" height="8.61" fill="#00ccff"/>
<rect x="74.08" y="427.54" width="5.94" height="8.61" fill="#00d4ff"/>
<rect x="78.01" y="427.54" width="5.94" height="8.61" fill="#00dbff"/>
<rect x="81.95" y="427.54" width="5.94" height="8.61" fill="#00e3ff"/>
<rect x="85.88" y="427.54" width="5.93" height="8.61" fill="#00ebff"/>
<rect x="89.82" y="427.54" width="5.94" height="8.61" fill="#00f2ff"/>
<rect x="93.75" y="427.54" width="5.94" height="8.61" fill="#00faff"/>
<rect x="97.69" y="427.54" width="5.94" height="8.61" fill="#00ffff"/>
<rect x="101.62" y="427.54" width="5.94" height="8.61" fill="#05fffa"/>
<rect x="105.56" y="427.54" width="5.94" height="8.61" fill="#0afff5"/>
<rect x="109.49" y="427.54" width="5.94" height="8.61" fill="#0ffff0"/>
<rect x="113.43" y="427.54" width="5.94" height="8.61" fill="#14ffeb"/>
<rect x="117.36" y="427.54" width="5.94" height="8.61" fill="#1affe5"/>
<rect x="121.30" y="427.54" width="5.94" height="8.61" fill="#1fffe0"/>
<rect x="125.23" y="427.54" width="5.94" height="8.61" fill="#24ffdb"/>
<rect x="129.17" y="427.54" width="5.94" height="8.61" fill="#29ffd6"/>
<rect x="133.10" y="427.54" width="5.94" height="8.61" fill="#2effd1"/>
<rect x="137.04" y="427.54" width="5.94" height="8.61" fill="#33ffcc"/>
<rect x="140.97" y="427.54" width="5.94" height="8.61" fill="#38ffc7"/>
<rect x="144.91" y="427.54" width="5.94" height="8.61" fill="#3bffc4"/>
<rect x="148.84" y="427.54" width="5.94" height="8.61" fill="#3dffc2"/>
<rect x="152.78" y="427.54" width="5.94" height="8.61" fill="#40ffbf"/>
<rect x="156.71" y="427.54" width="37.41" height="8.61" fill="#42ffbd"/>
<rect x="192.13" y="427.54" width="5.94" height="8.61" fill="#45ffba"/>
<rect x="196.06" y="427.54" width="5.94" height="8.61" fill="#47ffb8"/>
<rect x="200.00" y="427.54" width="5.94" height="8.61" fill="#4affb5"/>
<rect x="203.93" y="427.54" width="5.93" height="8.61" fill="#4dffb2"/>
<rect x="207.87" y="427.54" width="5.94" height="8.61" fill="#4fffb0"/>
<rect x="211.80" y="427.54" width="5.94" height="8.61" fill="#52ffad"/>
<rect x="215.74" y="427.54" width="5.94" height="8.61" fill="#54ffab"/>
<rect x="219.67" y="427.54" width="5.94" height="8.61" fill="#57ffa8"/>
<rect x="223.61" y="427.54" width="5.94" height="8.61" fill="#59ffa6"/>
<rect x="227.54" y="427.54" width="5.94" height="8.61" fill="#5cffa3"/>
<rect x="231.48" y="427.54" width="5.94" height="8.61" fill="#5effa1"/>
<rect x="235.41" y="427.54" width="5.94" height="8.61" fill="#61ff9e"/>
<rect x="239.35" y="427.54" width="5.94" height="8.61" fill="#66ff99"/>
<rect x="243.28" y="427.54" width="5.94" height="8.61" fill="#6bff94"/>
<rect x="247.22" y="427.54" width="5.94" height="8.61" fill="#70ff8f"/>
<rect x="251.15" y="427.54" width="5.94" height="8.61" fill="#75ff8a"/>
<rect x="255.09" y="427.54" width="5.94" height="8.61" fill="#7aff85"/>
<rect x="259.02" y="427.54" width="5.94" height="8.61" fill="#80ff80"/>
<rect x="262.96" y="427.54" width="5.94" height="8.61" fill="#85ff7a"/>
<rect x="266.89" y="427.54" width="5.93" height="8.61" fill="#8aff75"/>
<rect x="270.83" y="427.54" width="5.94" height="8.61" fill="#8cff73"/>
<rect x="274.76" y="427.54" width="5.93" height="8.61" fill="#8fff70"/>
<rect x="278.70" y="427.54" width="5.90" height="8.61" fill="#91ff6e"/>
<rect x="282.63" y="427.54" width="1.97" height="8.61" fill="#94ff6b"/>
<rect x="381.50" y="272.65" width="3.97" height="9.81" fill="#00e5ff"/>
<rect x="383.47" y="272.65" width="5.94" height="9.81" fill="#00e8ff"/>
<rect x="387.41" y="272.65" width="5.94" height="9.81" fill="#00ebff"/>
<rect x="391.35" y="272.65" width="5.94" height="9.81" fill="#00edff"/>
<rect x="395.30" y="272.65" width="21.71" height="9.81" fill="#00f0ff"/>
<rect x="415.00" y="272.65" width="5.94" height="9.81" fill="#00f2ff"/>
<rect x="418.95" y="272.65" width="5.94" height="9.81" fill="#00f5ff"/>
<rect x="422.89" y="272.65" width="5.94" height="9.81" fill="#00f7ff"/>
<rect x="426.83" y="272.65" width="5.94" height="9.81" fill="#00faff"/>
<rect x="430.77" y="272.65" width="5.94" height="9.81" fill="#00ffff"/>
<rect x="434.71" y="272.65" width="5.94" height="9.81" fill="#05fffa"/>
<rect x="438.65" y="272.65" width="5.94" height="9.81" fill="#0afff5"/>
<rect x="442.60" y="272.65" width="5.94" height="9.81" fill="#0ffff0"/>
<rect x="446.54" y="272.65" width="5.94" height="9.81" fill="#14ffeb"/>
<rect x="450.48" y="272.65" width="5.94" height="9.81" fill="#1affe5"/>
<rect x="454.42" y="272.65" width="5.94" height="9.81" fill="#1fffe0"/>
<rect x="458.36" y="272.65" width="5.94" height="9.81" fill="#24ffdb"/>
<rect x="462.30" y="272.65" width="5.94" height="9.81" fill="#29ffd6"/>
<rect x="466.25" y="272.65" width="5.94" height="9.81" fill="#2effd1"/>
<rect x="470.19" y="272.65" width="5.94" height="9.81" fill="#33ffcc"/>
<rect x="474.13" y="272.65" width="5.94" height="9.81" fill="#38ffc7"/>
<rect x="478.07" y="272.65" width="5.94" height="9.81" fill="#3bffc4"/>
<rect x="482.01" y="272.65" width="5.94" height="9.81" fill="#3dffc2"/>
<rect x="485.95" y="272.65" width="5.94" height="9.81" fill="#40ffbf"/>
<rect x="489.90" y="272.65" width="5.94" height="9.81" fill="#42ffbd"/>
<rect x="493.84" y="272.65" width="5.94" height="9.81" fill="#40ffbf"/>
<rect x="497.78" y="272.65" width="5.94" height="9.81" fill="#3dffc2"/>
<rect x="501.72" y="272.65" width="5.94" height="9.81" fill="#3bffc4"/>
<rect x="505.66" y="272.65" width="5.94" height="9.81" fill="#38ffc7"/>
<rect x="509.60" y="272.65" width="5.94" height="9.81" fill="#30ffcf"/>
<rect x="513.55" y="272.65" width="5.94" height="9.81" fill="#29ffd6"/>
<rect x="517.49" y="272.65" width="5.94" height="9.81" fill="#21ffde"/>
<rect x="521.43" y="272.65" width="5.94" height="9.81" fill="#1affe5"/>
<rect x="525.37" y="272.65" width="5.94" height="9.81" fill="#14ffeb"/>
<rect x="529.31" y="272.65" width="5.94" height="9.81" fill="#0ffff0"/>
<rect x="533.25" y="272.65" width="5.94" height="9.81" fill="#0afff5"/>
<rect x="537.20" y="272.65" width="5.94" height="9.81" fill="#05fffa"/>
<rect x="541.14" y="272.65" width="5.94" height="9.81" fill="#04fffb"/>
<rect x="545.08" y="272.65" width="5.94" height="9.81" fill="#03fffc"/>
<rect x="549.02" y="272.65" width="5.94" height="9.81" fill="#01fffe"/>
<rect x="552.96" y="272.65" width="5.94" height="9.81" fill="#00ffff"/>
<rect x="556.90" y="272.65" width="5.94" height="9.81" fill="#01fffe"/>
<rect x="560.85" y="272.65" width="5.94" height="9.81" fill="#03fffc"/>
<rect x="564.79" y="272.65" width="5.94" height="9.81" fill="#04fffb"/>
<rect x="568.73" y="272.65" width="5.94" height="9.81" fill="#05fffa"/>
<rect x="572.67" y="272.65" width="5.94" height="9.81" fill="#0dfff2"/>
<rect x="576.61" y="272.65" width="5.94" height="9.81" fill="#14ffeb"/>
<rect x="580.55" y="272.65" width="5.94" height="9.81" fill="#1cffe3"/>
<rect x="584.50" y="272.65" width="5.94" height="9.81" fill="#24ffdb"/>
<rect x="588.44" y="272.65" width="5.94" height="9.81" fill="#36ffc9"/>
<rect x="592.38" y="272.65" width="5.94" height="9.81" fill="#47ffb8"/>
<rect x="596.32" y="272.65" width="5.94" height="9.81" fill="#59ffa6"/>
<rect x="600.26" y="272.65" width="5.94" height="9.81" fill="#6bff94"/>
<rect x="604.20" y="272.65" width="5.94" height="9.81" fill="#7dff82"/>
<rect x="608.15" y="272.65" width="5.94" height="9.81" fill="#8fff70"/>
<rect x="612.09" y="272.65" width="5.91" height="9.81" fill="#a1ff5e"/>
<rect x="616.03" y="272.65" width="1.97" height="9.81" fill="#b3ff4c"/>
<rect x="381.50" y="281.26" width="3.97" height="9.81" fill="#24ffdb"/>
<rect x="383.47" y="281.26" width="5.94" height="9.81" fill="#26ffd9"/>
<rect x="387.41" y="281.26" width="5.94" height="9.81" fill="#29ffd6"/>
<rect x="391.35" y="281.26" width="5.94" height="9.81" fill="#2bffd4"/>
<rect x="395.30" y="281.26" width="5.94" height="9.81" fill="#2effd1"/>
<rect x="399.24" y="281.26" width="5.94" height="9.81" fill="#30ffcf"/>
<rect x="403.18" y="281.26" width="5.94" height="9.81" fill="#33ffcc"/>
<rect x="407.12" y="281.26" width="5.94" height="9.81" fill="#36ffc9"/>
<rect x="411.06" y="281.26" width="5.94" height="9.81" fill="#38ffc7"/>
<rect x="415.00" y="281.26" width="5.94" height="9.81" fill="#39ffc6"/>
<rect x="418.95" y="281.26" width="5.94" height="9.81" fill="#3bffc4"/>
<rect x="422.89" y="281.26" width="5.94" height="9.81" fill="#3cffc3"/>
<rect x="426.83" y="281.26" width="5.94" height="9.81" fill="#3dffc2"/>
<rect x="430.77" y="281.26" width="5.94" height="9.81" fill="#40ffbf"/>
<rect x="434.71" y="281.26" width="5.94" height="9.81" fill="#42ffbd"/>
<rect x="438.65" y="281.26" width="5.94" height="9.81" fill="#45ffba"/>
<rect x="442.60" y="281.26" width="5.94" height="9.81" fill="#47ffb8"/>
<rect x="446.54" y="281.26" width="5.94" height="9.81" fill="#4affb5"/>
<rect x="450.48" y="281.26" width="5.94" height="9.81" fill="#4dffb2"/>
<rect x="454.42" y="281.26" width="5.94" height="9.81" fill="#4fffb0"/>
<rect x="458.36" y="281.26" width="5.94" height="9.81" fill="#52ffad"/>
<rect x="462.30" y="281.26" width="5.94" height="9.81" fill="#54ffab"/>
<rect x="466.25" y="281.26" width="5.94" height="9.81" fill="#57ffa8"/>
<rect x="470.19" y="281.26" width="5.94" height="9.81" fill="#59ffa6"/>
<rect x="474.13" y="281.26" width="5.94" height="9.81" fill="#5cffa3"/>
<rect x="478.07" y="281.26" width="5.94" height="9.81" fill="#5dffa2"/>
<rect x="482.01" y="281.26" width="5.94" height="9.81" fill="#5effa1"/>
<rect x="485.95" y="281.26" width="5.94" height="9.81" fill="#60ff9f"/>
<rect x="489.90" y="281.26" width="5.94" height="9.81" fill="#61ff9e"/>
<rect x="493.84" y="281.26" width="5.94" height="9.81" fill="#5dffa2"/>
<rect x="497.78" y="281.26" width="5.94" height="9.81" fill="#59ffa6"/>
<rect x="501.72" y="281.26" width="5.94" height="9.81" fill="#55ffaa"/>
<rect x="505.66" y="281.26" width="5.94" height="9.81" fill="#52ffad"/>
<rect x="509.60" y="281.26" width="5.94" height="9.81" fill="#4fffb0"/>
<rect x="513.55" y="281.26" width="5.94" height="9.81" fill="#4dffb2"/>
<rect x="517.49" y="281.26" width="5.94" height="9.81" fill="#4affb5"/>
<rect x="521.43" y="281.26" width="5.94" height="9.81" fill="#47ffb8"/>
<rect x="525.37" y="281.26" width="5.94" height="9.81" fill="#42ffbd"/>
<rect x="529.31" y="281.26" width="5.94" height="9.81" fill="#3dffc2"/>
<rect x="533.25" y="281.26" width="5.94" height="9.81" fill="#38ffc7"/>
<rect x="537.20" y="281.26" width="21.71" height="9.81" fill="#33ffcc"/>
<rect x="556.90" y="281.26" width="5.94" height="9.81" fill="#3cffc3"/>
<rect x="560.85" y="281.26" width="5.94" height="9.81" fill="#45ffba"/>
<rect x="564.79" y="281.26" width="5.94" height="9.81" fill="#4effb1"/>
<rect x="568.73" y="281.26" width="5.94" height="9.81" fill="#57ffa8"/>
<rect x="572.67" y="281.26" width="5.94" height="9.81" fill="#66ff99"/>
<rect x="576.61" y="281.26" width="5.94" height="9.81" fill="#75ff8a"/>
<rect x="580.55" y="281.26" width="5.94" height="9.81" fill="#85ff7a"/>
<rect x="584.50" y="281.26" width="5.94" height="9.81" fill="#94ff6b"/>
<rect x="588.44" y="281.26" width="5.94" height="9.81" fill="#a1ff5e"/>
<rect x="592.38" y="281.26" width="5.94" height="9.81" fill="#adff52"/>
<rect x="596.32" y="281.26" width="5.94" height="9.81" fill="#baff45"/>
<rect x="600.26" y="281.26" width="5.94" height="9.81" fill="#c7ff38"/>
<rect x="604.20" y="281.26" width="5.94" height="9.81" fill="#cfff30"/>
<rect x="608.15" y="281.26" width="5.94" height="9.81" fill="#d6ff29"/>
<rect x="612.09" y="281.26" width="5.91" height="9.81" fill="#deff21"/>
<rect x="616.03" y="281.26" width="1.97" height="9.81" fill="#e5ff1a"/>
<rect x="381.50" y="289.86" width="3.97" height="9.81" fill="#42ffbd"/>
<rect x="383.47" y="289.86" width="5.94" height="9.81" fill="#47ffb8"/>
<rect x="387.41" y="289.86" width="5.94" height="9.81" fill="#4dffb2"/>
<rect x="391.35" y="289.86" width="5.94" height="9.81" fill="#52ffad"/>
<rect x="395.30" y="289.86" width="5.94" height="9.81" fill="#57ffa8"/>
<rect x="399.24" y="289.86" width="5.94" height="9.81" fill="#59ffa6"/>
<rect x="403.18" y="289.86" width="5.94" height="9.81" fill="#5cffa3"/>
<rect x="407.12" y="289.86" width="5.94" height="9.81" fill="#5effa1"/>
<rect x="411.06" y="289.86" width="5.94" height="9.81" fill="#61ff9e"/>
<rect x="415.00" y="289.86" width="5.94" height="9.81" fill="#62ff9d"/>
<rect x="418.95" y="289.86" width="5.94" height="9.81" fill="#63ff9c"/>
<rect x="422.89" y="289.86" width="5.94" height="9.81" fill="#65ff9a"/>
<rect x="426.83" y="289.86" width="5.94" height="9.81" fill="#66ff99"/>
<rect x="430.77" y="289.86" width="5.94" height="9.81" fill="#69ff96"/>
<rect x="434.71" y="289.86" width="5.94" height="9.81" fill="#6bff94"/>
<rect x="438.65" y="289.86" width="5.94" height="9.81" fill="#6eff91"/>
<rect x="442.60" y="289.86" width="5.94" height="9.81" fill="#70ff8f"/>
<rect x="446.54" y="289.86" width="5.94" height="9.81" fill="#73ff8c"/>
<rect x="450.48" y="289.86" width="5.94" height="9.81" fill="#75ff8a"/>
<rect x="454.42" y="289.86" width="5.94" height="9.81" fill="#78ff87"/>
<rect x="458.36" y="289.86" width="5.94" height="9.81" fill="#7aff85"/>
<rect x="462.30" y="289.86" width="5.94" height="9.81" fill="#7dff82"/>
<rect x="466.25" y="289.86" width="5.94" height="9.81" fill="#80ff80"/>
<rect x="470.19" y="289.86" width="5.94" height="9.81" fill="#82ff7d"/>
<rect x="474.13" y="289.86" width="5.94" height="9.81" fill="#85ff7a"/>
<rect x="478.07" y="289.86" width="5.94" height="9.81" fill="#86ff79"/>
<rect x="482.01" y="289.86" width="5.94" height="9.81" fill="#87ff78"/>
<rect x="485.95" y="289.86" width="5.94" height="9.81" fill="#88ff77"/>
<rect x="489.90" y="289.86" width="5.94" height="9.81" fill="#8aff75"/>
<rect x="493.84" y="289.86" width="5.94" height="9.81" fill="#86ff79"/>
<rect x="497.78" y="289.86" width="5.94" height="9.81" fill="#82ff7d"/>
<rect x="501.72" y="289.86" width="5.94" height="9.81" fill="#7eff81"/>
<rect x="505.66" y="289.86" width="5.94" height="9.81" fill="#7aff85"/>
<rect x="509.60" y="289.86" width="5.94" height="9.81" fill="#75ff8a"/>
<rect x="513.55" y="289.86" width="5.94" height="9.81" fill="#70ff8f"/>
<rect x="517.49" y="289.86" width="5.94" height="9.81" fill="#6bff94"/>
<rect x="521.43" y="289.86" width="5.94" height="9.81" fill="#66ff99"/>
<rect x="525.37" y="289.86" width="5.94" height="9.81" fill="#63ff9c"/>
<rect x="529.31" y="289.86" width="5.94" height="9.81" fill="#61ff9e"/>
<rect x="533.25" y="289.86" width="5.94" height="9.81" fill="#5effa1"/>
<rect x="537.20" y="289.86" width="5.94" height="9.81" fill="#5cffa3"/>
<rect x="541.14" y="289.86" width="5.94" height="9.81" fill="#61ff9e"/>
<rect x="545.08" y="289.86" width="5.94" height="9.81" fill="#66ff99"/>
<rect x="549.02" y="289.86" width="5.94" height="9.81" fill="#6bff94"/>
<rect x="552.96" y="289.86" width="5.94" height="9.81" fill="#70ff8f"/>
<rect x="556.90" y="289.86" width="5.94" height="9.81" fill="#7cff83"/>
<rect x="560.85" y="289.86" width="5.94" height="9.81" fill="#87ff78"/>
<rect x="564.79" y="289.86" width="5.94" height="9.81" fill="#93ff6c"/>
<rect x="568.73" y="289.86" width="5.94" height="9.81" fill="#9eff61"/>
<rect x="572.67" y="289.86" width="5.94" height="9.81" fill="#abff54"/>
<rect x="576.61" y="289.86" width="5.94" height="9.81" fill="#b8ff47"/>
<rect x="580.55" y="289.86" width="5.94" height="9.81" fill="#c4ff3b"/>
<rect x="584.50" y="289.86" width="5.94" height="9.81" fill="#d1ff2e"/>
<rect x="588.44" y="289.86" width="5.94" height="9.81" fill="#d9ff26"/>
<rect x="592.38" y="289.86" width="5.94" height="9.81" fill="#e0ff1f"/>
<rect x="596.32" y="289.86" width="5.94" height="9.81" fill="#e8ff17"/>
<rect x="600.26" y="289.86" width="5.94" height="9.81" fill="#f0ff0f"/>
<rect x="604.20" y="289.86" width="5.94" height="9.81" fill="#f5ff0a"/>
<rect x="608.15" y="289.86" width="5.94" height="9.81" fill="#faff05"/>
<rect x="612.09" y="289.86" width="5.91" height="9.81" fill="#ffff00"/>
<rect x="616.03" y="289.86" width="1.97" height="9.81" fill="#fffa00"/>
<rect x="381.50" y="298.47" width="3.97" height="9.81" fill="#4dffb2"/>
<rect x="383.47" y="298.47" width="5.94" height="9.81" fill="#54ffab"/>
<rect x="387.41" y="298.47" width="5.94" height="9.81" fill="#5cffa3"/>
<rect x="391.35" y="298.47" width="5.94" height="9.81" fill="#63ff9c"/>
<rect x="395.30" y="298.47" width="5.94" height="9.81" fill="#6bff94"/>
<rect x="399.24" y="298.47" width="5.94" height="9.81" fill="#70ff8f"/>
<rect x="403.18" y="298.47" width="5.94" height="9.81" fill="#75ff8a"/>
<rect x="407.12" y="298.47" width="5.94" height="9.81" fill="#7aff85"/>
<rect x="411.06" y="298.47" width="5.94" height="9.81" fill="#80ff80"/>
<rect x="415.00" y="298.47" width="5.94" height="9.81" fill="#83ff7c"/>
<rect x="418.95" y="298.47" width="5.94" height="9.81" fill="#87ff78"/>
<rect x="422.89" y="298.47" width="5.94" height="9.81" fill="#8bff74"/>
<rect x="426.83" y="298.47" width="5.94" height="9.81" fill="#8fff70"/>
<rect x="430.77" y="298.47" width="5.94" height="9.81" fill="#91ff6e"/>
<rect x="434.71" y="298.47" width="5.94" height="9.81" fill="#94ff6b"/>
<rect x="438.65" y="298.47" width="5.94" height="9.81" fill="#96ff69"/>
<rect x="442.60" y="298.47" width="5.94" height="9.81" fill="#99ff66"/>
<rect x="446.54" y="298.47" width="5.94" height="9.81" fill="#9cff63"/>
<rect x="450.48" y="298.47" width="5.94" height="9.81" fill="#9eff61"/>
<rect x="454.42" y="298.47" width="5.94" height="9.81" fill="#a1ff5e"/>
<rect x="458.36" y="298.47" width="5.94" height="9.81" fill="#a3ff5c"/>
<rect x="462.30" y="298.47" width="5.94" height="9.81" fill="#a6ff59"/>
<rect x="466.25" y="298.47" width="5.94" height="9.81" fill="#a8ff57"/>
<rect x="470.19" y="298.47" width="5.94" height="9.81" fill="#abff54"/>
<rect x="474.13" y="298.47" width="21.71" height="9.81" fill="#adff52"/>
<rect x="493.84" y="298.47" width="5.94" height="9.81" fill="#abff54"/>
<rect x="497.78" y="298.47" width="5.94" height="9.81" fill="#a8ff57"/>
<rect x="501.72" y="298.47" width="5.94" height="9.81" fill="#a6ff59"/>
<rect x="505.66" y="298.47" width="5.94" height="9.81" fill="#a3ff5c"/>
<rect x="509.60" y="298.47" width="5.94" height="9.81" fill="#a1ff5e"/>
<rect x="513.55" y="298.47" width="5.94" height="9.81" fill="#9eff61"/>
<rect x="517.49" y="298.47" width="5.94" height="9.81" fill="#9cff63"/>
<rect x="521.43" y="298.47" width="5.94" height="9.81" fill="#99ff66"/>
<rect x="525.37" y="298.47" width="5.94" height="9.81" fill="#9cff63"/>
<rect x="529.31" y="298.47" width="5.94" height="9.81" fill="#9eff61"/>
<rect x="533.25" y="298.47" width="5.94" height="9.81" fill="#a1ff5e"/>
<rect x="537.20" y="298.47" width="5.94" height="9.81" fill="#a3ff5c"/>
<rect x="541.14" y="298.47" width="5.94" height="9.81" fill="#abff54"/>
<rect x="545.08" y="298.47" width="5.94" height="9.81" fill="#b3ff4c"/>
<rect x="549.02" y="298.47" width="5.94" height="9.81" fill="#baff45"/>
<rect x="552.96" y="298.47" width="5.94" height="9.81" fill="#c2ff3d"/>
<rect x="556.90" y="298.47" width="5.94" height="9.81" fill="#cdff32"/>
<rect x="560.85" y="298.47" width="5.94" height="9.81" fill="#d9ff26"/>
<rect x="564.79" y="298.47" width="5.94" height="9.81" fill="#e4ff1b"/>
<rect x="568.73" y="298.47" width="5.94" height="9.81" fill="#f0ff0f"/>
<rect x="572.67" y="298.47" width="5.94" height="9.81" fill="#f5ff0a"/>
<rect x="576.61" y="298.47" width="5.94" height="9.81" fill="#faff05"/>
<rect x="580.55" y="298.47" width="5.94" height="9.81" fill="#ffff00"/>
<rect x="584.50" y="298.47" width="5.94" height="9.81" fill="#fffa00"/>
<rect x="588.44" y="298.47" width="5.94" height="9.81" fill="#fff500"/>
<rect x="592.38" y="298.47" width="5.94" height="9.81" fill="#fff000"/>
<rect x="596.32" y="298.47" width="5.94" height="9.81" fill="#ffeb00"/>
<rect x="600.26" y="298.47" width="5.94" height="9.81" fill="#ffe500"/>
<rect x="604.20" y="298.47" width="5.94" height="9.81" fill="#ffe000"/>
<rect x="608.15" y="298.47" width="5.94" height="9.81" fill="#ffdb00"/>
<rect x="612.09" y="298.47" width="5.91" height="9.81" fill="#ffd600"/>
<rect x="616.03" y="298.47" width="1.97" height="9.81" fill="#ffd100"/>
<rect x="381.50" y="307.07" width="3.97" height="9.81" fill="#4dffb2"/>
<rect x="383.47" y="307.07" width="5.94" height="9.81" fill="#54ffab"/>
<rect x="387.41" y="307.07" width="5.94" height="9.81" fill="#5cffa3"/>
<rect x="391.35" y="307.07" width="5.94" height="9.81" fill="#63ff9c"/>
<rect x="395.30" y="307.07" width="5.94" height="9.81" fill="#6bff94"/>
<rect x="399.24" y="307.07" width="5.94" height="9.81" fill="#73ff8c"/>
<rect x="403.18" y="307.07" width="5.94" height="9.81" fill="#7aff85"/>
<rect x="407.12" y="307.07" width="5.94" height="9.81" fill="#82ff7d"/>
<rect x="411.06" y="307.07" width="5.94" height="9.81" fill="#8aff75"/>
<rect x="415.00" y="307.07" width="5.94" height="9.81" fill="#8fff70"/>
<rect x="418.95" y="307.07" width="5.94" height="9.81" fill="#94ff6b"/>
<rect x="422.89" y="307.07" width="5.94" height="9.81" fill="#99ff66"/>
<rect x="426.83" y="307.07" width="5.94" height="9.81" fill="#9eff61"/>
<rect x="430.77" y="307.07" width="5.94" height="9.81" fill="#a3ff5c"/>
<rect x="434.71" y="307.07" width="5.94" height="9.81" fill="#a8ff57"/>
<rect x="438.65" y="307.07" width="5.94" height="9.81" fill="#adff52"/>
<rect x="442.60" y="307.07" width="5.94" height="9.81" fill="#b3ff4c"/>
<rect x="446.54" y="307.07" width="5.94" height="9.81" fill="#b5ff4a"/>
<rect x="450.48" y="307.07" width="5.94" height="9.81" fill="#b8ff47"/>
<rect x="454.42" y="307.07" width="5.94" height="9.81" fill="#baff45"/>
<rect x="458.36" y="307.07" width="5.94" height="9.81" fill="#bdff42"/>
<rect x="462.30" y="307.07" width="5.94" height="9.81" fill="#bfff40"/>
<rect x="466.25" y="307.07" width="5.94" height="9.81" fill="#c2ff3d"/>
<rect x="470.19" y="307.07" width="5.94" height="9.81" fill="#c4ff3b"/>
<rect x="474.13" y="307.07" width="5.94" height="9.81" fill="#c7ff38"/>
<rect x="478.07" y="307.07" width="5.94" height="9.81" fill="#c9ff36"/>
<rect x="482.01" y="307.07" width="5.94" height="9.81" fill="#ccff33"/>
<rect x="485.95" y="307.07" width="5.94" height="9.81" fill="#cfff30"/>
<rect x="489.90" y="307.07" width="5.94" height="9.81" fill="#d1ff2e"/>
<rect x="493.84" y="307.07" width="5.94" height="9.81" fill="#cfff30"/>
<rect x="497.78" y="307.07" width="5.94" height="9.81" fill="#ccff33"/>
<rect x="501.72" y="307.07" width="5.94" height="9.81" fill="#c9ff36"/>
<rect x="505.66" y="307.07" width="5.94" height="9.81" fill="#c7ff38"/>
<rect x="509.60" y="307.07" width="5.94" height="9.81" fill="#c9ff36"/>
<rect x="513.55" y="307.07" width="5.94" height="9.81" fill="#ccff33"/>
<rect x="517.49" y="307.07" width="5.94" height="9.81" fill="#cfff30"/>
<rect x="521.43" y="307.07" width="5.94" height="9.81" fill="#d1ff2e"/>
<rect x="525.37" y="307.07" width="5.94" height="9.81" fill="#d9ff26"/>
<rect x="529.31" y="307.07" width="5.94" height="9.81" fill="#e0ff1f"/>
<rect x="533.25" y="307.07" width="5.94" height="9.81" fill="#e8ff17"/>
<rect x="537.20" y="307.07" width="5.94" height="9.81" fill="#f0ff0f"/>
<rect x="541.14" y="307.07" width="5.94" height="9.81" fill="#f7ff08"/>
<rect x="545.08" y="307.07" width="5.94" height="9.81" fill="#ffff00"/>
<rect x="549.02" y="307.07" width="5.94" height="9.81" fill="#fff700"/>
<rect x="552.96" y="307.07" width="5.94" height="9.81" fill="#fff000"/>
<rect x="556.90" y="307.07" width="5.94" height="9.81" fill="#ffeb00"/>
<rect x="560.85" y="307.07" width="5.94" height="9.81" fill="#ffe500"/>
<rect x="564.79" y="307.07" width="5.94" height="9.81" fill="#ffe000"/>
<rect x="568.73" y="307.07" width="5.94" height="9.81" fill="#ffdb00"/>
<rect x="572.67" y="307.07" width="5.94" height="9.81" fill="#ffd600"/>
<rect x="576.61" y="307.07" width="5.94" height="9.81" fill="#ffd100"/>
<rect x="580.55" y="307.07" width="5.94" height="9.81" fill="#ffcc00"/>
<rect x="584.50" y="307.07" width="5.94" height="9.81" fill="#ffc700"/>
<rect x="588.44" y="307.07" width="5.94" height="9.81" fill="#ffc200"/>
<rect x="592.38" y="307.07" width="5.94" height="9.81" fill="#ffbd00"/>
<rect x="596.32" y="307.07" width="5.94" height="9.81" fill="#ffb800"/>
<rect x="600.26" y="307.07" width="5.94" height="9.81" fill="#ffb300"/>
<rect x="604.20" y="307.07" width="5.94" height="9.81" fill="#ffb000"/>
<rect x="608.15" y="307.07" width="5.94" height="9.81" fill="#ffad00"/>
<rect x="612.09" y="307.07" width="5.91" height="9.81" fill="#ffab00"/>
<rect x="616.03" y="307.07" width="1.97" height="9.81" fill="#ffa800"/>
<rect x="381.50" y="315.68" width="3.97" height="9.81" fill="#42ffbd"/>
<rect x="383.47" y="315.68" width="5.94" height="9.81" fill="#4affb5"/>
<rect x="387.41" y="315.68" width="5.94" height="9.81" fill="#52ffad"/>
<rect x="391.35" y="315.68" width="5.94" height="9.81" fill="#59ffa6"/>
<rect x="395.30" y="315.68" width="5.94" height="9.81" fill="#61ff9e"/>
<rect x="399.24" y="315.68" width="5.94" height="9.81" fill="#69ff96"/>
<rect x="403.18" y="315.68" width="5.94" height="9.81" fill="#70ff8f"/>
<rect x="407.12" y="315.68" width="5.94" height="9.81" fill="#78ff87"/>
<rect x="411.06" y="315.68" width="5.94" height="9.81" fill="#80ff80"/>
<rect x="415.00" y="315.68" width="5.94" height="9.81" fill="#87ff78"/>
<rect x="418.95" y="315.68" width="5.94" height="9.81" fill="#8fff70"/>
<rect x="422.89" y="315.68" width="5.94" height="9.81" fill="#96ff69"/>
<rect x="426.83" y="315.68" width="5.94" height="9.81" fill="#9eff61"/>
<rect x="430.77" y="315.68" width="5.94" height="9.81" fill="#a6ff59"/>
<rect x="434.71" y="315.68" width="5.94" height="9.81" fill="#adff52"/>
<rect x="438.65" y="315.68" width="5.94" height="9.81" fill="#b5ff4a"/>
<rect x="442.60" y="315.68" width="5.94" height="9.81" fill="#bdff42"/>
<rect x="446.54" y="315.68" width="5.94" height="9.81" fill="#c2ff3d"/>
<rect x="450.48" y="315.68" width="5.94" height="9.81" fill="#c7ff38"/>
<rect x="454.42" y="315.68" width="5.94" height="9.81" fill="#ccff33"/>
<rect x="458.36" y="315.68" width="5.94" height="9.81" fill="#d1ff2e"/>
<rect x="462.30" y="315.68" width="5.94" height="9.81" fill="#d6ff29"/>
<rect x="466.25" y="315.68" width="5.94" height="9.81" fill="#dbff24"/>
<rect x="470.19" y="315.68" width="5.94" height="9.81" fill="#e0ff1f"/>
<rect x="474.13" y="315.68" width="5.94" height="9.81" fill="#e5ff1a"/>
<rect x="478.07" y="315.68" width="5.94" height="9.81" fill="#ebff14"/>
<rect x="482.01" y="315.68" width="5.94" height="9.81" fill="#f0ff0f"/>
<rect x="485.95" y="315.68" width="5.94" height="9.81" fill="#f5ff0a"/>
<rect x="489.90" y="315.68" width="5.94" height="9.81" fill="#faff05"/>
<rect x="493.84" y="315.68" width="5.94" height="9.81" fill="#fcff03"/>
<rect x="497.78" y="315.68" width="5.94" height="9.81" fill="#ffff00"/>
<rect x="501.72" y="315.68" width="5.94" height="9.81" fill="#fffc00"/>
<rect x="505.66" y="315.68" width="5.94" height="9.81" fill="#fffa00"/>
<rect x="509.60" y="315.68" width="5.94" height="9.81" fill="#fff200"/>
<rect x="513.55" y="315.68" width="5.94" height="9.81" fill="#ffeb00"/>
<rect x="517.49" y="315.68" width="5.94" height="9.81" fill="#ffe300"/>
<rect x="521.43" y="315.68" width="5.94" height="9.81" fill="#ffdb00"/>
<rect x="525.37" y="315.68" width="5.94" height="9.81" fill="#ffd400"/>
<rect x="529.31" y="315.68" width="5.94" height="9.81" fill="#ffcc00"/>
<rect x="533.25" y="315.68" width="5.94" height="9.81" fill="#ffc400"/>
<rect x="537.20" y="315.68" width="5.94" height="9.81" fill="#ffbd00"/>
<rect x="541.14" y="315.68" width="5.94" height="9.81" fill="#ffb800"/>
<rect x="545.08" y="315.68" width="5.94" height="9.81" fill="#ffb300"/>
<rect x="549.02" y="315.68" width="5.94" height="9.81" fill="#ffad00"/>
<rect x="552.96" y="315.68" width="5.94" height="9.81" fill="#ffa800"/>
<rect x="556.90" y="315.68" width="5.94" height="9.81" fill="#ffa600"/>
<rect x="560.85" y="315.68" width="5.94" height="9.81" fill="#ffa300"/>
<rect x="564.79" y="315.68" width="5.94" height="9.81" fill="#ffa100"/>
<rect x="568.73" y="315.68" width="5.94" height="9.81" fill="#ff9e00"/>
<rect x="572.67" y="315.68" width="5.94" height="9.81" fill="#ff9c00"/>
<rect x="576.61" y="315.68" width="5.94" height="9.81" fill="#ff9900"/>
<rect x="580.55" y="315.68" width="5.94" height="9.81" fill="#ff9600"/>
<rect x="584.50" y="315.68" width="5.94" height="9.81" fill="#ff9400"/>
<rect x="588.44" y="315.68" width="5.94" height="9.81" fill="#ff9100"/>
<rect x="592.38" y="315.68" width="5.94" height="9.81" fill="#ff8f00"/>
<rect x="596.32" y="315.68" width="5.94" height="9.81" fill="#ff8c00"/>
<rect x="600.26" y="315.68" width="17.74" height="9.81" fill="#ff8a00"/>
<rect x="381.50" y="324.28" width="3.97" height="9.81" fill="#2effd1"/>
<rect x="383.47" y="324.28" width="5.94" height="9.81" fill="#36ffc9"/>
<rect x="387.41" y="324.28" width="5.94" height="9.81" fill="#3dffc2"/>
<rect x="391.35" y="324.28" width="5.94" height="9.81" fill="#45ffba"/>
<rect x="395.30" y="324.28" width="5.94" height="9.81" fill="#4dffb2"/>
<rect x="399.24" y="324.28" width="5.94" height="9.81" fill="#57ffa8"/>
<rect x="403.18" y="324.28" width="5.94" height="9.81" fill="#61ff9e"/>
<rect x="407.12" y="324.28" width="5.94" height="9.81" fill="#6bff94"/>
<rect x="411.06" y="324.28" width="5.94" height="9.81" fill="#75ff8a"/>
<rect x="415.00" y="324.28" width="5.94" height="9.81" fill="#80ff80"/>
<rect x="418.95" y="324.28" width="5.94" height="9.81" fill="#8aff75"/>
<rect x="422.89" y="324.28" width="5.94" height="9.81" fill="#94ff6b"/>
<rect x="426.83" y="324.28" width="5.94" height="9.81" fill="#9eff61"/>
<rect x="430.77" y="324.28" width="5.94" height="9.81" fill="#afff50"/>
<rect x="434.71" y="324.28" width="5.94" height="9.81" fill="#bfff40"/>
<rect x="438.65" y="324.28" width="5.94" height="9.81" fill="#d0ff2f"/>
<rect x="442.60" y="324.28" width="5.94" height="9.81" fill="#e0ff1f"/>
<rect x="446.54" y="324.28" width="5.94" height="9.81" fill="#edff12"/>
<rect x="450.48" y="324.28" width="5.94" height="9.81" fill="#faff05"/>
<rect x="454.42" y="324.28" width="5.94" height="9.81" fill="#fff700"/>
<rect x="458.36" y="324.28" width="5.94" height="9.81" fill="#ffeb00"/>
<rect x="462.30" y="324.28" width="5.94" height="9.81" fill="#ffe200"/>
<rect x="466.25" y="324.28" width="5.94" height="9.81" fill="#ffd900"/>
<rect x="470.19" y="324.28" width="5.94" height="9.81" fill="#ffd000"/>
<rect x="474.13" y="324.28" width="5.94" height="9.81" fill="#ffc700"/>
<rect x="478.07" y="324.28" width="5.94" height="9.81" fill="#ffc200"/>
<rect x="482.01" y="324.28" width="5.94" height="9.81" fill="#ffbd00"/>
<rect x="485.95" y="324.28" width="5.94" height="9.81" fill="#ffb800"/>
<rect x="489.90" y="324.28" width="5.94" height="9.81" fill="#ffb300"/>
<rect x="493.84" y="324.28" width="5.94" height="9.81" fill="#ffac00"/>
<rect x="497.78" y="324.28" width="5.94" height="9.81" fill="#ffa600"/>
<rect x="501.72" y="324.28" width="5.94" height="9.81" fill="#ff9f00"/>
<rect x="505.66" y="324.28" width="5.94" height="9.81" fill="#ff9900"/>
<rect x="509.60" y="324.28" width="5.94" height="9.81" fill="#ff9400"/>
<rect x="513.55" y="324.28" width="5.94" height="9.81" fill="#ff8f00"/>
<rect x="517.49" y="324.28" width="5.94" height="9.81" fill="#ff8a00"/>
<rect x="521.43" y="324.28" width="5.94" height="9.81" fill="#ff8500"/>
<rect x="525.37" y="324.28" width="5.94" height="9.81" fill="#ff8100"/>
<rect x="529.31" y="324.28" width="5.94" height="9.81" fill="#ff7d00"/>
<rect x="533.25" y="324.28" width="5.94" height="9.81" fill="#ff7900"/>
<rect x="537.20" y="324.28" width="5.94" height="9.81" fill="#ff7500"/>
<rect x="541.14" y="324.28" width="5.94" height="9.81" fill="#ff7300"/>
<rect x="545.08" y="324.28" width="5.94" height="9.81" fill="#ff7000"/>
<rect x="549.02" y="324.28" width="5.94" height="9.81" fill="#ff6e00"/>
<rect x="552.96" y="324.28" width="5.94" height="9.81" fill="#ff6b00"/>
<rect x="556.90" y="324.28" width="5.94" height="9.81" fill="#ff6900"/>
<rect x="560.85" y="324.28" width="5.94" height="9.81" fill="#ff6600"/>
<rect x="564.79" y="324.28" width="5.94" height="9.81" fill="#ff6300"/>
<rect x="568.73" y="324.28" width="21.71" height="9.81" fill="#ff6100"/>
<rect x="588.44" y="324.28" width="5.94" height="9.81" fill="#ff6300"/>
<rect x="592.38" y="324.28" width="5.94" height="9.81" fill="#ff6600"/>
<rect x="596.32" y="324.28" width="5.94" height="9.81" fill="#ff6900"/>
<rect x="600.26" y="324.28" width="5.94" height="9.81" fill="#ff6b00"/>
<rect x="604.20" y="324.28" width="5.94" height="9.81" fill="#ff6e00"/>
<rect x="608.15" y="324.28" width="5.94" height="9.81" fill="#ff7000"/>
<rect x="612.09" y="324.28" width="5.91" height="9.81" fill="#ff7300"/>
<rect x="616.03" y="324.28" width="1.97" height="9.81" fill="#ff7500"/>
<rect x="381.50" y="332.89" width="3.97" height="9.81" fill="#00e5ff"/>
<rect x="383.47" y="332.89" width="5.94" height="9.81" fill="#00f0ff"/>
<rect x="387.41" y="332.89" width="5.94" height="9.81" fill="#00f5ff"/>
<rect x="391.35" y="332.89" width="5.94" height="9.81" fill="#00faff"/>
<rect x="395.30" y="332.89" width="5.94" height="9.81" fill="#0ffff0"/>
<rect x="399.24" y="332.89" width="5.94" height="9.81" fill="#1fffe0"/>
<rect x="403.18" y="332.89" width="5.94" height="9.81" fill="#2effd1"/>
<rect x="407.12" y="332.89" width="5.94" height="9.81" fill="#42ffbd"/>
<rect x="411.06" y="332.89" width="5.94" height="9.81" fill="#57ffa8"/>
<rect x="415.00" y="332.89" width="5.94" height="9.81" fill="#70ff8f"/>
<rect x="418.95" y="332.89" width="5.94" height="9.81" fill="#8aff75"/>
<rect x="422.89" y="332.89" width="5.94" height="9.81" fill="#a3ff5c"/>
<rect x="426.83" y="332.89" width="5.94" height="9.81" fill="#bdff42"/>
<rect x="430.77" y="332.89" width="5.94" height="9.81" fill="#e5ff1a"/>
<rect x="434.71" y="332.89" width="5.94" height="9.81" fill="#fffa00"/>
<rect x="438.65" y="332.89" width="5.94" height="9.81" fill="#ffe500"/>
<rect x="442.60" y="332.89" width="5.94" height="9.81" fill="#ffd100"/>
<rect x="446.54" y="332.89" width="5.94" height="9.81" fill="#ffc700"/>
<rect x="450.48" y="332.89" width="5.94" height="9.81" fill="#ffbd00"/>
<rect x="454.42" y="332.89" width="5.94" height="9.81" fill="#ffb300"/>
<rect x="458.36" y="332.89" width="5.94" height="9.81" fill="#ffac00"/>
<rect x="462.30" y="332.89" width="5.94" height="9.81" fill="#ffa300"/>
<rect x="466.25" y="332.89" width="5.94" height="9.81" fill="#ff9900"/>
<rect x="470.19" y="332.89" width="5.94" height="9.81" fill="#ff8d00"/>
<rect x="474.13" y="332.89" width="5.94" height="9.81" fill="#ff8000"/>
<rect x="478.07" y="332.89" width="5.94" height="9.81" fill="#ff7800"/>
<rect x="482.01" y="332.89" width="5.94" height="9.81" fill="#ff7000"/>
<rect x="485.95" y="332.89" width="5.94" height="9.81" fill="#ff6900"/>
<rect x="489.90" y="332.89" width="5.94" height="9.81" fill="#ff6100"/>
<rect x="493.84" y="332.89" width="5.94" height="9.81" fill="#ff5c00"/>
<rect x="497.78" y="332.89" width="5.94" height="9.81" fill="#ff5700"/>
<rect x="501.72" y="332.89" width="5.94" height="9.81" fill="#ff5200"/>
<rect x="505.66" y="332.89" width="5.94" height="9.81" fill="#ff4c00"/>
<rect x="509.60" y="332.89" width="5.94" height="9.81" fill="#ff4a00"/>
<rect x="513.55" y="332.89" width="5.94" height="9.81" fill="#ff4700"/>
<rect x="517.49" y="332.89" width="5.94" height="9.81" fill="#ff4500"/>
<rect x="521.43" y="332.89" width="5.94" height="9.81" fill="#ff4200"/>
<rect x="525.37" y="332.89" width="5.94" height="9.81" fill="#ff4000"/>
<rect x="529.31" y="332.89" width="5.94" height="9.81" fill="#ff3d00"/>
<rect x="533.25" y="332.89" width="5.94" height="9.81" fill="#ff3b00"/>
<rect x="537.20" y="332.89" width="21.71" height="9.81" fill="#ff3800"/>
<rect x="556.90" y="332.89" width="5.94" height="9.81" fill="#ff3b00"/>
<rect x="560.85" y="332.89" width="5.94" height="9.81" fill="#ff3d00"/>
<rect x="564.79" y="332.89" width="5.94" height="9.81" fill="#ff4000"/>
<rect x="568.73" y="332.89" width="5.94" height="9.81" fill="#ff4200"/>
<rect x="572.67" y="332.89" width="5.94" height="9.81" fill="#ff4600"/>
<rect x="576.61" y="332.89" width="5.94" height="9.81" fill="#ff4a00"/>
<rect x="580.55" y="332.89" width="5.94" height="9.81" fill="#ff4e00"/>
<rect x="584.50" y="332.89" width="5.94" height="9.81" fill="#ff5200"/>
<rect x="588.44" y="332.89" width="5.94" height="9.81" fill="#ff5500"/>
<rect x="592.38" y="332.89" width="5.94" height="9.81" fill="#ff5900"/>
<rect x="596.32" y="332.89" width="5.94" height="9.81" fill="#ff5d00"/>
<rect x="600.26" y="332.89" width="5.94" height="9.81" fill="#ff6100"/>
<rect x="604.20" y="332.89" width="5.94" height="9.81" fill="#ff6300"/>
<rect x="608.15" y="332.89" width="5.94" height="9.81" fill="#ff6600"/>
<rect x="612.09" y="332.89" width="5.91" height="9.81" fill="#ff6900"/>
<rect x="616.03" y="332.89" width="1.97" height="9.81" fill="#ff6b00"/>
<rect x="381.50" y="341.49" width="3.97" height="9.81" fill="#00d1ff"/>
<rect x="383.47" y="341.49" width="5.94" height="9.81" fill="#008aff"/>
<rect x="387.41" y="341.49" width="5.94" height="9.81" fill="#0099ff"/>
<rect x="391.35" y="341.49" width="5.94" height="9.81" fill="#00a8ff"/>
<rect x="395.30" y="341.49" width="5.94" height="9.81" fill="#00bdff"/>
<rect x="399.24" y="341.49" width="5.94" height="9.81" fill="#00f0ff"/>
<rect x="403.18" y="341.49" width="5.94" height="9.81" fill="#24ffdb"/>
<rect x="407.12" y="341.49" width="5.94" height="9.81" fill="#4dffb2"/>
<rect x="411.06" y="341.49" width="5.94" height="9.81" fill="#80ff80"/>
<rect x="415.00" y="341.49" width="5.94" height="9.81" fill="#a8ff57"/>
<rect x="418.95" y="341.49" width="5.94" height="9.81" fill="#ccff33"/>
<rect x="422.89" y="341.49" width="5.94" height="9.81" fill="#faff05"/>
<rect x="426.83" y="341.49" width="5.94" height="9.81" fill="#ffe500"/>
<rect x="430.77" y="341.49" width="5.94" height="9.81" fill="#ffc700"/>
<rect x="434.71" y="341.49" width="5.94" height="9.81" fill="#ffa800"/>
<rect x="438.65" y="341.49" width="5.94" height="9.81" fill="#ff9400"/>
<rect x="442.60" y="341.49" width="5.94" height="9.81" fill="#ff8a00"/>
<rect x="446.54" y="341.49" width="5.94" height="9.81" fill="#ff8000"/>
<rect x="450.48" y="341.49" width="5.94" height="9.81" fill="#ff7500"/>
<rect x="454.42" y="341.49" width="5.94" height="9.81" fill="#ff6b00"/>
<rect x="458.36" y="341.49" width="5.94" height="9.81" fill="#ff6200"/>
<rect x="462.30" y="341.49" width="5.94" height="9.81" fill="#ff5900"/>
<rect x="466.25" y="341.49" width="5.94" height="9.81" fill="#ff4e00"/>
<rect x="470.19" y="341.49" width="5.94" height="9.81" fill="#ff4400"/>
<rect x="474.13" y="341.49" width="5.94" height="9.81" fill="#ff3800"/>
<rect x="478.07" y="341.49" width="5.94" height="9.81" fill="#ff3300"/>
<rect x="482.01" y="341.49" width="5.94" height="9.81" fill="#ff2e00"/>
<rect x="485.95" y="341.49" width="5.94" height="9.81" fill="#ff2900"/>
<rect x="489.90" y="341.49" width="21.71" height="9.81" fill="#ff2400"/>
<rect x="509.60" y="341.49" width="5.94" height="9.81" fill="#ff2100"/>
<rect x="513.55" y="341.49" width="5.94" height="9.81" fill="#ff1f00"/>
<rect x="517.49" y="341.49" width="5.94" height="9.81" fill="#ff1c00"/>
<rect x="521.43" y="341.49" width="21.71" height="9.81" fill="#ff1a00"/>
<rect x="541.14" y="341.49" width="5.94" height="9.81" fill="#ff1c00"/>
<rect x="545.08" y="341.49" width="5.94" height="9.81" fill="#ff1f00"/>
<rect x="549.02" y="341.49" width="5.94" height="9.81" fill="#ff2100"/>
<rect x="552.96" y="341.49" width="5.94" height="9.81" fill="#ff2400"/>
<rect x="556.90" y="341.49" width="5.94" height="9.81" fill="#ff2800"/>
<rect x="560.85" y="341.49" width="5.94" height="9.81" fill="#ff2b00"/>
<rect x="564.79" y="341.49" width="5.94" height="9.81" fill="#ff2f00"/>
<rect x="568.73" y="341.49" width="5.94" height="9.81" fill="#ff3300"/>
<rect x="572.67" y="341.49" width="5.94" height="9.81" fill="#ff3900"/>
<rect x="576.61" y="341.49" width="5.94" height="9.81" fill="#ff4000"/>
<rect x="580.55" y="341.49" width="5.94" height="9.81" fill="#ff4600"/>
<rect x="584.50" y="341.49" width="5.94" height="9.81" fill="#ff4c00"/>
<rect x="588.44" y="341.49" width="5.94" height="9.81" fill="#ff5000"/>
<rect x="592.38" y="341.49" width="5.94" height="9.81" fill="#ff5400"/>
<rect x="596.32" y="341.49" width="5.94" height="9.81" fill="#ff5800"/>
<rect x="600.26" y="341.49" width="5.94" height="9.81" fill="#ff5c00"/>
<rect x="604.20" y="341.49" width="5.94" height="9.81" fill="#ff5e00"/>
<rect x="608.15" y="341.49" width="5.94" height="9.81" fill="#ff6100"/>
<rect x="612.09" y="341.49" width="5.91" height="9.81" fill="#ff6300"/>
<rect x="616.03" y="341.49" width="1.97" height="9.81" fill="#ff6600"/>
<rect x="381.50" y="350.10" width="3.97" height="9.81" fill="#00faff"/>
<rect x="383.47" y="350.10" width="5.94" height="9.81" fill="#00f0ff"/>
<rect x="387.41" y="350.10" width="5.94" height="9.81" fill="#0099ff"/>
<rect x="391.35" y="350.10" width="5.94" height="9.81" fill="#00e5ff"/>
<rect x="395.30" y="350.10" width="5.94" height="9.81" fill="#00ffff"/>
<rect x="399.24" y="350.10" width="5.94" height="9.81" fill="#1affe5"/>
<rect x="403.18" y="350.10" width="5.94" height="9.81" fill="#42ffbd"/>
<rect x="407.12" y="350.10" width="5.94" height="9.81" fill="#75ff8a"/>
<rect x="411.06" y="350.10" width="5.94" height="9.81" fill="#b3ff4c"/>
<rect x="415.00" y="350.10" width="5.94" height="9.81" fill="#e5ff1a"/>
<rect x="418.95" y="350.10" width="5.94" height="9.81" fill="#fffa00"/>
<rect x="422.89" y="350.10" width="5.94" height="9.81" fill="#ffdb00"/>
<rect x="426.83" y="350.10" width="5.94" height="9.81" fill="#ffc200"/>
<rect x="430.77" y="350.10" width="5.94" height="9.81" fill="#ffa800"/>
<rect x="434.71" y="350.10" width="5.94" height="9.81" fill="#ff8a00"/>
<rect x="438.65" y="350.10" width="5.94" height="9.81" fill="#ff7500"/>
<rect x="442.60" y="350.10" width="5.94" height="9.81" fill="#ff6b00"/>
<rect x="446.54" y="350.10" width="5.94" height="9.81" fill="#ff6100"/>
<rect x="450.48" y="350.10" width="5.94" height="9.81" fill="#ff5700"/>
<rect x="454.42" y="350.10" width="5.94" height="9.81" fill="#ff4c00"/>
<rect x="458.36" y="350.10" width="5.94" height="9.81" fill="#ff4800"/>
<rect x="462.30" y="350.10" width="5.94" height="9.81" fill="#ff4300"/>
<rect x="466.25" y="350.10" width="5.94" height="9.81" fill="#ff3e00"/>
<rect x="470.19" y="350.10" width="5.94" height="9.81" fill="#ff3800"/>
<rect x="474.13" y="350.10" width="5.94" height="9.81" fill="#ff3300"/>
<rect x="478.07" y="350.10" width="5.94" height="9.81" fill="#ff2f00"/>
<rect x="482.01" y="350.10" width="5.94" height="9.81" fill="#ff2b00"/>
<rect x="485.95" y="350.10" width="5.94" height="9.81" fill="#ff2800"/>
<rect x="489.90" y="350.10" width="5.94" height="9.81" fill="#ff2400"/>
<rect x="493.84" y="350.10" width="5.94" height="9.81" fill="#ff2100"/>
<rect x="497.78" y="350.10" width="5.94" height="9.81" fill="#ff1f00"/>
<rect x="501.72" y="350.10" width="5.94" height="9.81" fill="#ff1c00"/>
<rect x="505.66" y="350.10" width="5.94" height="9.81" fill="#ff1a00"/>
<rect x="509.60" y="350.10" width="5.94" height="9.81" fill="#ff1700"/>
<rect x="513.55" y="350.10" width="5.94" height="9.81" fill="#ff1400"/>
<rect x="517.49" y="350.10" width="5.94" height="9.81" fill="#ff1200"/>
<rect x="521.43" y="350.10" width="21.71" height="9.81" fill="#ff0f00"/>
<rect x="541.14" y="350.10" width="5.94" height="9.81" fill="#ff1200"/>
<rect x="545.08" y="350.10" width="5.94" height="9.81" fill="#ff1400"/>
<rect x="549.02" y="350.10" width="5.94" height="9.81" fill="#ff1700"/>
<rect x="552.96" y="350.10" width="5.94" height="9.81" fill="#ff1a00"/>
<rect x="556.90" y="350.10" width="5.94" height="9.81" fill="#ff1f00"/>
<rect x="560.85" y="350.10" width="5.94" height="9.81" fill="#ff2400"/>
<rect x="564.79" y="350.10" width="5.94" height="9.81" fill="#ff2900"/>
<rect x="568.73" y="350.10" width="5.94" height="9.81" fill="#ff2e00"/>
<rect x="572.67" y="350.10" width="5.94" height="9.81" fill="#ff3400"/>
<rect x="576.61" y="350.10" width="5.94" height="9.81" fill="#ff3b00"/>
<rect x="580.55" y="350.10" width="5.94" height="9.81" fill="#ff4100"/>
<rect x="584.50" y="350.10" width="5.94" height="9.81" fill="#ff4700"/>
<rect x="588.44" y="350.10" width="5.94" height="9.81" fill="#ff4c00"/>
<rect x="592.38" y="350.10" width="5.94" height="9.81" fill="#ff5200"/>
<rect x="596.32" y="350.10" width="5.94" height="9.81" fill="#ff5700"/>
<rect x="600.26" y="350.10" width="5.94" height="9.81" fill="#ff5c00"/>
<rect x="604.20" y="350.10" width="5.94" height="9.81" fill="#ff5e00"/>
<rect x="608.15" y="350.10" width="5.94" height="9.81" fill="#ff6100"/>
<rect x="612.09" y="350.10" width="5.91" height="9.81" fill="#ff6300"/>
<rect x="616.03" y="350.10" width="1.97" height="9.81" fill="#ff6600"/>
<rect x="381.50" y="358.70" width="3.97" height="9.81" fill="#00b2ff"/>
<rect x="383.47" y="358.70" width="5.94" height="9.81" fill="#008aff"/>
<rect x="387.41" y="358.70" width="5.94" height="9.81" fill="#0099ff"/>
<rect x="391.35" y="358.70" width="5.94" height="9.81" fill="#009eff"/>
<rect x="395.30" y="358.70" width="5.94" height="9.81" fill="#00b2ff"/>
<rect x="399.24" y="358.70" width="5.94" height="9.81" fill="#00d6ff"/>
<rect x="403.18" y="358.70" width="5.94" height="9.81" fill="#00ffff"/>
<rect x="407.12" y="358.70" width="5.94" height="9.81" fill="#33ffcc"/>
<rect x="411.06" y="358.70" width="5.94" height="9.81" fill="#66ff99"/>
<rect x="415.00" y="358.70" width="5.94" height="9.81" fill="#8aff75"/>
<rect x="418.95" y="358.70" width="5.94" height="9.81" fill="#adff52"/>
<rect x="422.89" y="358.70" width="5.94" height="9.81" fill="#dbff24"/>
<rect x="426.83" y="358.70" width="5.94" height="9.81" fill="#fffa00"/>
<rect x="430.77" y="358.70" width="5.94" height="9.81" fill="#ffdb00"/>
<rect x="434.71" y="358.70" width="5.94" height="9.81" fill="#ffbd00"/>
<rect x="438.65" y="358.70" width="5.94" height="9.81" fill="#ffa800"/>
<rect x="442.60" y="358.70" width="5.94" height="9.81" fill="#ff9400"/>
<rect x="446.54" y="358.70" width="5.94" height="9.81" fill="#ff8a00"/>
<rect x="450.48" y="358.70" width="5.94" height="9.81" fill="#ff8000"/>
<rect x="454.42" y="358.70" width="5.94" height="9.81" fill="#ff7500"/>
<rect x="458.36" y="358.70" width="5.94" height="9.81" fill="#ff6e00"/>
<rect x="462.30" y="358.70" width="5.94" height="9.81" fill="#ff6700"/>
<rect x="466.25" y="358.70" width="5.94" height="9.81" fill="#ff6000"/>
<rect x="470.19" y="358.70" width="5.94" height="9.81" fill="#ff5900"/>
<rect x="474.13" y="358.70" width="5.94" height="9.81" fill="#ff5200"/>
<rect x="478.07" y="358.70" width="5.94" height="9.81" fill="#ff4e00"/>
<rect x="482.01" y="358.70" width="5.94" height="9.81" fill="#ff4a00"/>
<rect x="485.95" y="358.70" width="5.94" height="9.81" fill="#ff4600"/>
<rect x="489.90" y="358.70" width="5.94" height="9.81" fill="#ff4200"/>
<rect x="493.84" y="358.70" width="5.94" height="9.81" fill="#ff4100"/>
<rect x="497.78" y="358.70" width="5.94" height="9.81" fill="#ff4000"/>
<rect x="501.72" y="358.70" width="5.94" height="9.81" fill="#ff3e00"/>
<rect x="505.66" y="358.70" width="5.94" height="9.81" fill="#ff3d00"/>
<rect x="509.60" y="358.70" width="5.94" height="9.81" fill="#ff3b00"/>
<rect x="513.55" y="358.70" width="5.94" height="9.81" fill="#ff3800"/>
<rect x="517.49" y="358.70" width="5.94" height="9.81" fill="#ff3600"/>
<rect x="521.43" y="358.70" width="5.94" height="9.81" fill="#ff3300"/>
<rect x="525.37" y="358.70" width="5.94" height="9.81" fill="#ff3000"/>
<rect x="529.31" y="358.70" width="5.94" height="9.81" fill="#ff2e00"/>
<rect x="533.25" y="358.70" width="5.94" height="9.81" fill="#ff2b00"/>
<rect x="537.20" y="358.70" width="5.94" height="9.81" fill="#ff2900"/>
<rect x="541.14" y="358.70" width="5.94" height="9.81" fill="#ff2800"/>
<rect x="545.08" y="358.70" width="5.94" height="9.81" fill="#ff2600"/>
<rect x="549.02" y="358.70" width="5.94" height="9.81" fill="#ff2500"/>
<rect x="552.96" y="358.70" width="5.94" height="9.81" fill="#ff2400"/>
<rect x="556.90" y="358.70" width="5.94" height="9.81" fill="#ff2600"/>
<rect x="560.85" y="358.70" width="5.94" height="9.81" fill="#ff2900"/>
<rect x="564.79" y="358.70" width="5.94" height="9.81" fill="#ff2b00"/>
<rect x="568.73" y="358.70" width="5.94" height="9.81" fill="#ff2e00"/>
<rect x="572.67" y="358.70" width="5.94" height="9.81" fill="#ff3400"/>
<rect x="576.61" y="358.70" width="5.94" height="9.81" fill="#ff3b00"/>
<rect x="580.55" y="358.70" width="5.94" height="9.81" fill="#ff4100"/>
<rect x="584.50" y="358.70" width="5.94" height="9.81" fill="#ff4700"/>
<rect x="588.44" y="358.70" width="5.94" height="9.81" fill="#ff4c00"/>
<rect x="592.38" y="358.70" width="5.94" height="9.81" fill="#ff5200"/>
<rect x="596.32" y="358.70" width="5.94" height="9.81" fill="#ff5700"/>
<rect x="600.26" y="358.70" width="5.94" height="9.81" fill="#ff5c00"/>
<rect x="604.20" y="358.70" width="5.94" height="9.81" fill="#ff5e00"/>
<rect x="608.15" y="358.70" width="5.94" height="9.81" fill="#ff6100"/>
<rect x="612.09" y="358.70" width="5.91" height="9.81" fill="#ff6300"/>
<rect x="616.03" y="358.70" width="1.97" height="9.81" fill="#ff6600"/>
<rect x="381.50" y="367.31" width="3.97" height="9.81" fill="#00e5ff"/>
<rect x="383.47" y="367.31" width="13.82" height="9.81" fill="#00f0ff"/>
<rect x="395.30" y="367.31" width="5.94" height="9.81" fill="#05fffa"/>
<rect x="399.24" y="367.31" width="5.94" height="9.81" fill="#14ffeb"/>
<rect x="403.18" y="367.31" width="5.94" height="9.81" fill="#24ffdb"/>
<rect x="407.12" y="367.31" width="5.94" height="9.81" fill="#33ffcc"/>
<rect x="411.06" y="367.31" width="5.94" height="9.81" fill="#42ffbd"/>
<rect x="415.00" y="367.31" width="5.94" height="9.81" fill="#57ffa8"/>
<rect x="418.95" y="367.31" width="5.94" height="9.81" fill="#6bff94"/>
<rect x="422.89" y="367.31" width="5.94" height="9.81" fill="#85ff7a"/>
<rect x="426.83" y="367.31" width="5.94" height="9.81" fill="#9eff61"/>
<rect x="430.77" y="367.31" width="5.94" height="9.81" fill="#b8ff47"/>
<rect x="434.71" y="367.31" width="5.94" height="9.81" fill="#d1ff2e"/>
<rect x="438.65" y="367.31" width="5.94" height="9.81" fill="#f0ff0f"/>
<rect x="442.60" y="367.31" width="5.94" height="9.81" fill="#fffa00"/>
<rect x="446.54" y="367.31" width="5.94" height="9.81" fill="#fff000"/>
<rect x="450.48" y="367.31" width="5.94" height="9.81" fill="#ffdb00"/>
<rect x="454.42" y="367.31" width="5.94" height="9.81" fill="#ffd100"/>
<rect x="458.36" y="367.31" width="5.94" height="9.81" fill="#ffc700"/>
<rect x="462.30" y="367.31" width="5.94" height="9.81" fill="#ffbc00"/>
<rect x="466.25" y="367.31" width="5.94" height="9.81" fill="#ffb100"/>
<rect x="470.19" y="367.31" width="5.94" height="9.81" fill="#ffa500"/>
<rect x="474.13" y="367.31" width="5.94" height="9.81" fill="#ff9900"/>
<rect x="478.07" y="367.31" width="5.94" height="9.81" fill="#ff9400"/>
<rect x="482.01" y="367.31" width="5.94" height="9.81" fill="#ff8f00"/>
<rect x="485.95" y="367.31" width="5.94" height="9.81" fill="#ff8a00"/>
<rect x="489.90" y="367.31" width="5.94" height="9.81" fill="#ff8500"/>
<rect x="493.84" y="367.31" width="5.94" height="9.81" fill="#ff8200"/>
<rect x="497.78" y="367.31" width="5.94" height="9.81" fill="#ff8000"/>
<rect x="501.72" y="367.31" width="5.94" height="9.81" fill="#ff7d00"/>
<rect x="505.66" y="367.31" width="5.94" height="9.81" fill="#ff7a00"/>
<rect x="509.60" y="367.31" width="5.94" height="9.81" fill="#ff7800"/>
<rect x="513.55" y="367.31" width="5.94" height="9.81" fill="#ff7500"/>
<rect x="517.49" y="367.31" width="5.94" height="9.81" fill="#ff7300"/>
<rect x="521.43" y="367.31" width="5.94" height="9.81" fill="#ff7000"/>
<rect x="525.37" y="367.31" width="5.94" height="9.81" fill="#ff6b00"/>
<rect x="529.31" y="367.31" width="5.94" height="9.81" fill="#ff6600"/>
<rect x="533.25" y="367.31" width="5.94" height="9.81" fill="#ff6100"/>
<rect x="537.20" y="367.31" width="5.94" height="9.81" fill="#ff5c00"/>
<rect x="541.14" y="367.31" width="5.94" height="9.81" fill="#ff5900"/>
<rect x="545.08" y="367.31" width="5.94" height="9.81" fill="#ff5700"/>
<rect x="549.02" y="367.31" width="5.94" height="9.81" fill="#ff5400"/>
<rect x="552.96" y="367.31" width="5.94" height="9.81" fill="#ff5200"/>
<rect x="556.90" y="367.31" width="5.94" height="9.81" fill="#ff4e00"/>
<rect x="560.85" y="367.31" width="5.94" height="9.81" fill="#ff4a00"/>
<rect x="564.79" y="367.31" width="5.94" height="9.81" fill="#ff4600"/>
<rect x="568.73" y="367.31" width="5.94" height="9.81" fill="#ff4200"/>
<rect x="572.67" y="367.31" width="5.94" height="9.81" fill="#ff4500"/>
<rect x="576.61" y="367.31" width="5.94" height="9.81" fill="#ff4700"/>
<rect x="580.55" y="367.31" width="5.94" height="9.81" fill="#ff4a00"/>
<rect x="584.50" y="367.31" width="5.94" height="9.81" fill="#ff4c00"/>
<rect x="588.44" y="367.31" width="5.94" height="9.81" fill="#ff5000"/>
<rect x="592.38" y="367.31" width="5.94" height="9.81" fill="#ff5400"/>
<rect x="596.32" y="367.31" width="5.94" height="9.81" fill="#ff5800"/>
<rect x="600.26" y="367.31" width="5.94" height="9.81" fill="#ff5c00"/>
<rect x="604.20" y="367.31" width="5.94" height="9.81" fill="#ff5e00"/>
<rect x="608.15" y="367.31" width="5.94" height="9.81" fill="#ff6100"/>
<rect x="612.09" y="367.31" width="5.91" height="9.81" fill="#ff6300"/>
<rect x="616.03" y="367.31" width="1.97" height="9.81" fill="#ff6600"/>
<rect x="381.50" y="375.91" width="3.97" height="9.81" fill="#24ffdb"/>
<rect x="383.47" y="375.91" width="5.94" height="9.81" fill="#2bffd4"/>
<rect x="387.41" y="375.91" width="5.94" height="9.81" fill="#33ffcc"/>
<rect x="391.35" y="375.91" width="5.94" height="9.81" fill="#3bffc4"/>
<rect x="395.30" y="375.91" width="5.94" height="9.81" fill="#42ffbd"/>
<rect x="399.24" y="375.91" width="5.94" height="9.81" fill="#4affb5"/>
<rect x="403.18" y="375.91" width="5.94" height="9.81" fill="#52ffad"/>
<rect x="407.12" y="375.91" width="5.94" height="9.81" fill="#59ffa6"/>
<rect x="411.06" y="375.91" width="5.94" height="9.81" fill="#61ff9e"/>
<rect x="415.00" y="375.91" width="5.94" height="9.81" fill="#6bff94"/>
<rect x="418.95" y="375.91" width="5.94" height="9.81" fill="#75ff8a"/>
<rect x="422.89" y="375.91" width="5.94" height="9.81" fill="#80ff80"/>
<rect x="426.83" y="375.91" width="5.94" height="9.81" fill="#8aff75"/>
<rect x="430.77" y="375.91" width="5.94" height="9.81" fill="#98ff67"/>
<rect x="434.71" y="375.91" width="5.94" height="9.81" fill="#a6ff59"/>
<rect x="438.65" y="375.91" width="5.94" height="9.81" fill="#b4ff4b"/>
<rect x="442.60" y="375.91" width="5.94" height="9.81" fill="#c2ff3d"/>
<rect x="446.54" y="375.91" width="5.94" height="9.81" fill="#cfff30"/>
<rect x="450.48" y="375.91" width="5.94" height="9.81" fill="#dbff24"/>
<rect x="454.42" y="375.91" width="5.94" height="9.81" fill="#e8ff17"/>
<rect x="458.36" y="375.91" width="5.94" height="9.81" fill="#f5ff0a"/>
<rect x="462.30" y="375.91" width="5.94" height="9.81" fill="#fcff03"/>
<rect x="466.25" y="375.91" width="5.94" height="9.81" fill="#fffa00"/>
<rect x="470.19" y="375.91" width="5.94" height="9.81" fill="#fff200"/>
<rect x="474.13" y="375.91" width="5.94" height="9.81" fill="#ffeb00"/>
<rect x="478.07" y="375.91" width="5.94" height="9.81" fill="#ffe400"/>
<rect x="482.01" y="375.91" width="5.94" height="9.81" fill="#ffde00"/>
<rect x="485.95" y="375.91" width="5.94" height="9.81" fill="#ffd700"/>
<rect x="489.90" y="375.91" width="5.94" height="9.81" fill="#ffd100"/>
<rect x="493.84" y="375.91" width="5.94" height="9.81" fill="#ffcd00"/>
<rect x="497.78" y="375.91" width="5.94" height="9.81" fill="#ffc900"/>
<rect x="501.72" y="375.91" width="5.94" height="9.81" fill="#ffc600"/>
<rect x="505.66" y="375.91" width="5.94" height="9.81" fill="#ffc200"/>
<rect x="509.60" y="375.91" width="5.94" height="9.81" fill="#ffbe00"/>
<rect x="513.55" y="375.91" width="5.94" height="9.81" fill="#ffba00"/>
<rect x="517.49" y="375.91" width="5.94" height="9.81" fill="#ffb600"/>
<rect x="521.43" y="375.91" width="5.94" height="9.81" fill="#ffb300"/>
<rect x="525.37" y="375.91" width="5.94" height="9.81" fill="#ffad00"/>
<rect x="529.31" y="375.91" width="5.94" height="9.81" fill="#ffa800"/>
<rect x="533.25" y="375.91" width="5.94" height="9.81" fill="#ffa300"/>
<rect x="537.20" y="375.91" width="5.94" height="9.81" fill="#ff9e00"/>
<rect x="541.14" y="375.91" width="5.94" height="9.81" fill="#ff9900"/>
<rect x="545.08" y="375.91" width="5.94" height="9.81" fill="#ff9400"/>
<rect x="549.02" y="375.91" width="5.94" height="9.81" fill="#ff8f00"/>
<rect x="552.96" y="375.91" width="5.94" height="9.81" fill="#ff8a00"/>
<rect x="556.90" y="375.91" width="5.94" height="9.81" fill="#ff8500"/>
<rect x="560.85" y="375.91" width="5.94" height="9.81" fill="#ff8000"/>
<rect x="564.79" y="375.91" width="5.94" height="9.81" fill="#ff7a00"/>
<rect x="568.73" y="375.91" width="5.94" height="9.81" fill="#ff7500"/>
<rect x="572.67" y="375.91" width="5.94" height="9.81" fill="#ff7000"/>
<rect x="576.61" y="375.91" width="5.94" height="9.81" fill="#ff6b00"/>
<rect x="580.55" y="375.91" width="5.94" height="9.81" fill="#ff6600"/>
<rect x="584.50" y="375.91" width="5.94" height="9.81" fill="#ff6100"/>
<rect x="588.44" y="375.91" width="5.94" height="9.81" fill="#ff5e00"/>
<rect x="592.38" y="375.91" width="5.94" height="9.81" fill="#ff5c00"/>
<rect x="596.32" y="375.91" width="5.94" height="9.81" fill="#ff5900"/>
<rect x="600.26" y="375.91" width="5.94" height="9.81" fill="#ff5700"/>
<rect x="604.20" y="375.91" width="5.94" height="9.81" fill="#ff5900"/>
<rect x="608.15" y="375.91" width="5.94" height="9.81" fill="#ff5c00"/>
<rect x="612.09" y="375.91" width="5.91" height="9.81" fill="#ff5e00"/>
<rect x="616.03" y="375.91" width="1.97" height="9.81" fill="#ff6100"/>
<rect x="381.50" y="384.52" width="3.97" height="9.81" fill="#38ffc7"/>
<rect x="383.47" y="384.52" width="5.94" height="9.81" fill="#40ffbf"/>
<rect x="387.41" y="384.52" width="5.94" height="9.81" fill="#47ffb8"/>
<rect x="391.35" y="384.52" width="5.94" height="9.81" fill="#4fffb0"/>
<rect x="395.30" y="384.52" width="5.94" height="9.81" fill="#57ffa8"/>
<rect x="399.24" y="384.52" width="5.94" height="9.81" fill="#5cffa3"/>
<rect x="403.18" y="384.52" width="5.94" height="9.81" fill="#61ff9e"/>
<rect x="407.12" y="384.52" width="5.94" height="9.81" fill="#66ff99"/>
<rect x="411.06" y="384.52" width="5.94" height="9.81" fill="#6bff94"/>
<rect x="415.00" y="384.52" width="5.94" height="9.81" fill="#73ff8c"/>
<rect x="418.95" y="384.52" width="5.94" height="9.81" fill="#7aff85"/>
<rect x="422.89" y="384.52" width="5.94" height="9.81" fill="#82ff7d"/>
<rect x="426.83" y="384.52" width="5.94" height="9.81" fill="#8aff75"/>
<rect x="430.77" y="384.52" width="5.94" height="9.81" fill="#91ff6e"/>
<rect x="434.71" y="384.52" width="5.94" height="9.81" fill="#99ff66"/>
<rect x="438.65" y="384.52" width="5.94" height="9.81" fill="#a1ff5e"/>
<rect x="442.60" y="384.52" width="5.94" height="9.81" fill="#a8ff57"/>
<rect x="446.54" y="384.52" width="5.94" height="9.81" fill="#adff52"/>
<rect x="450.48" y="384.52" width="5.94" height="9.81" fill="#b3ff4c"/>
<rect x="454.42" y="384.52" width="5.94" height="9.81" fill="#b8ff47"/>
<rect x="458.36" y="384.52" width="5.94" height="9.81" fill="#bdff42"/>
<rect x="462.30" y="384.52" width="5.94" height="9.81" fill="#bfff40"/>
<rect x="466.25" y="384.52" width="5.94" height="9.81" fill="#c2ff3d"/>
<rect x="470.19" y="384.52" width="5.94" height="9.81" fill="#c4ff3b"/>
<rect x="474.13" y="384.52" width="5.94" height="9.81" fill="#c7ff38"/>
<rect x="478.07" y="384.52" width="5.94" height="9.81" fill="#c9ff36"/>
<rect x="482.01" y="384.52" width="5.94" height="9.81" fill="#ccff33"/>
<rect x="485.95" y="384.52" width="5.94" height="9.81" fill="#cfff30"/>
<rect x="489.90" y="384.52" width="5.94" height="9.81" fill="#d1ff2e"/>
<rect x="493.84" y="384.52" width="5.94" height="9.81" fill="#d4ff2b"/>
<rect x="497.78" y="384.52" width="5.94" height="9.81" fill="#d6ff29"/>
<rect x="501.72" y="384.52" width="5.94" height="9.81" fill="#d9ff26"/>
<rect x="505.66" y="384.52" width="5.94" height="9.81" fill="#dbff24"/>
<rect x="509.60" y="384.52" width="5.94" height="9.81" fill="#e0ff1f"/>
<rect x="513.55" y="384.52" width="5.94" height="9.81" fill="#e5ff1a"/>
<rect x="517.49" y="384.52" width="5.94" height="9.81" fill="#ebff14"/>
<rect x="521.43" y="384.52" width="5.94" height="9.81" fill="#f0ff0f"/>
<rect x="525.37" y="384.52" width="5.94" height="9.81" fill="#f5ff0a"/>
<rect x="529.31" y="384.52" width="5.94" height="9.81" fill="#faff05"/>
<rect x="533.25" y="384.52" width="5.94" height="9.81" fill="#ffff00"/>
<rect x="537.20" y="384.52" width="5.94" height="9.81" fill="#fffa00"/>
<rect x="541.14" y="384.52" width="5.94" height="9.81" fill="#fff500"/>
<rect x="545.08" y="384.52" width="5.94" height="9.81" fill="#fff000"/>
<rect x="549.02" y="384.52" width="5.94" height="9.81" fill="#ffeb00"/>
<rect x="552.96" y="384.52" width="5.94" height="9.81" fill="#ffe500"/>
<rect x="556.90" y="384.52" width="5.94" height="9.81" fill="#ffde00"/>
<rect x="560.85" y="384.52" width="5.94" height="9.81" fill="#ffd600"/>
<rect x="564.79" y="384.52" width="5.94" height="9.81" fill="#ffcf00"/>
<rect x="568.73" y="384.52" width="5.94" height="9.81" fill="#ffc700"/>
<rect x="572.67" y="384.52" width="5.94" height="9.81" fill="#ffbf00"/>
<rect x="576.61" y="384.52" width="5.94" height="9.81" fill="#ffb800"/>
<rect x="580.55" y="384.52" width="5.94" height="9.81" fill="#ffb000"/>
<rect x="584.50" y="384.52" width="5.94" height="9.81" fill="#ffa800"/>
<rect x="588.44" y="384.52" width="5.94" height="9.81" fill="#ffa100"/>
<rect x="592.38" y="384.52" width="5.94" height="9.81" fill="#ff9900"/>
<rect x="596.32" y="384.52" width="5.94" height="9.81" fill="#ff9100"/>
<rect x="600.26" y="384.52" width="5.94" height="9.81" fill="#ff8a00"/>
<rect x="604.20" y="384.52" width="5.94" height="9.81" fill="#ff8700"/>
<rect x="608.15" y="384.52" width="5.94" height="9.81" fill="#ff8500"/>
<rect x="612.09" y="384.52" width="5.91" height="9.81" fill="#ff8200"/>
<rect x="616.03" y="384.52" width="1.97" height="9.81" fill="#ff8000"/>
<rect x="381.50" y="393.12" width="3.97" height="9.81" fill="#38ffc7"/>
<rect x="383.47" y="393.12" width="5.94" height="9.81" fill="#40ffbf"/>
<rect x="387.41" y="393.12" width="5.94" height="9.81" fill="#47ffb8"/>
<rect x="391.35" y="393.12" width="5.94" height="9.81" fill="#4fffb0"/>
<rect x="395.30" y="393.12" width="5.94" height="9.81" fill="#57ffa8"/>
<rect x="399.24" y="393.12" width="5.94" height="9.81" fill="#5cffa3"/>
<rect x="403.18" y="393.12" width="5.94" height="9.81" fill="#61ff9e"/>
<rect x="407.12" y="393.12" width="5.94" height="9.81" fill="#66ff99"/>
<rect x="411.06" y="393.12" width="5.94" height="9.81" fill="#6bff94"/>
<rect x="415.00" y="393.12" width="5.94" height="9.81" fill="#70ff8f"/>
<rect x="418.95" y="393.12" width="5.94" height="9.81" fill="#75ff8a"/>
<rect x="422.89" y="393.12" width="5.94" height="9.81" fill="#7aff85"/>
<rect x="426.83" y="393.12" width="5.94" height="9.81" fill="#80ff80"/>
<rect x="430.77" y="393.12" width="5.94" height="9.81" fill="#85ff7a"/>
<rect x="434.71" y="393.12" width="5.94" height="9.81" fill="#8aff75"/>
<rect x="438.65" y="393.12" width="5.94" height="9.81" fill="#8fff70"/>
<rect x="442.60" y="393.12" width="5.94" height="9.81" fill="#94ff6b"/>
<rect x="446.54" y="393.12" width="5.94" height="9.81" fill="#99ff66"/>
<rect x="450.48" y="393.12" width="5.94" height="9.81" fill="#9eff61"/>
<rect x="454.42" y="393.12" width="5.94" height="9.81" fill="#a3ff5c"/>
<rect x="458.36" y="393.12" width="5.94" height="9.81" fill="#a8ff57"/>
<rect x="462.30" y="393.12" width="5.94" height="9.81" fill="#abff54"/>
<rect x="466.25" y="393.12" width="5.94" height="9.81" fill="#adff52"/>
<rect x="470.19" y="393.12" width="5.94" height="9.81" fill="#b0ff4f"/>
<rect x="474.13" y="393.12" width="37.48" height="9.81" fill="#b3ff4c"/>
<rect x="509.60" y="393.12" width="5.94" height="9.81" fill="#b5ff4a"/>
<rect x="513.55" y="393.12" width="5.94" height="9.81" fill="#b8ff47"/>
<rect x="517.49" y="393.12" width="5.94" height="9.81" fill="#baff45"/>
<rect x="521.43" y="393.12" width="5.94" height="9.81" fill="#bdff42"/>
<rect x="525.37" y="393.12" width="5.94" height="9.81" fill="#bfff40"/>
<rect x="529.31" y="393.12" width="5.94" height="9.81" fill="#c2ff3d"/>
<rect x="533.25" y="393.12" width="5.94" height="9.81" fill="#c4ff3b"/>
<rect x="537.20" y="393.12" width="5.94" height="9.81" fill="#c7ff38"/>
<rect x="541.14" y="393.12" width="5.94" height="9.81" fill="#ccff33"/>
<rect x="545.08" y="393.12" width="5.94" height="9.81" fill="#d1ff2e"/>
<rect x="549.02" y="393.12" width="5.94" height="9.81" fill="#d6ff29"/>
<rect x="552.96" y="393.12" width="5.94" height="9.81" fill="#dbff24"/>
<rect x="556.90" y="393.12" width="5.94" height="9.81" fill="#e3ff1c"/>
<rect x="560.85" y="393.12" width="5.94" height="9.81" fill="#ebff14"/>
<rect x="564.79" y="393.12" width="5.94" height="9.81" fill="#f2ff0d"/>
<rect x="568.73" y="393.12" width="5.94" height="9.81" fill="#faff05"/>
<rect x="572.67" y="393.12" width="5.94" height="9.81" fill="#ffff00"/>
<rect x="576.61" y="393.12" width="5.94" height="9.81" fill="#fffa00"/>
<rect x="580.55" y="393.12" width="5.94" height="9.81" fill="#fff500"/>
<rect x="584.50" y="393.12" width="5.94" height="9.81" fill="#fff000"/>
<rect x="588.44" y="393.12" width="5.94" height="9.81" fill="#ffe800"/>
<rect x="592.38" y="393.12" width="5.94" height="9.81" fill="#ffe000"/>
<rect x="596.32" y="393.12" width="5.94" height="9.81" fill="#ffd900"/>
<rect x="600.26" y="393.12" width="5.94" height="9.81" fill="#ffd100"/>
<rect x="604.20" y="393.12" width="5.94" height="9.81" fill="#ffcc00"/>
<rect x="608.15" y="393.12" width="5.94" height="9.81" fill="#ffc700"/>
<rect x="612.09" y="393.12" width="5.91" height="9.81" fill="#ffc200"/>
<rect x="616.03" y="393.12" width="1.97" height="9.81" fill="#ffbd00"/>
<rect x="381.50" y="401.73" width="3.97" height="9.81" fill="#2effd1"/>
<rect x="383.47" y="401.73" width="5.94" height="9.81" fill="#36ffc9"/>
<rect x="387.41" y="401.73" width="5.94" height="9.81" fill="#3dffc2"/>
<rect x="391.35" y="401.73" width="5.94" height="9.81" fill="#45ffba"/>
<rect x="395.30" y="401.73" width="5.94" height="9.81" fill="#4dffb2"/>
<rect x="399.24" y="401.73" width="5.94" height="9.81" fill="#52ffad"/>
<rect x="403.18" y="401.73" width="5.94" height="9.81" fill="#57ffa8"/>
<rect x="407.12" y="401.73" width="5.94" height="9.81" fill="#5cffa3"/>
<rect x="411.06" y="401.73" width="5.94" height="9.81" fill="#61ff9e"/>
<rect x="415.00" y="401.73" width="5.94" height="9.81" fill="#65ff9a"/>
<rect x="418.95" y="401.73" width="5.94" height="9.81" fill="#69ff96"/>
<rect x="422.89" y="401.73" width="5.94" height="9.81" fill="#6cff93"/>
<rect x="426.83" y="401.73" width="5.94" height="9.81" fill="#70ff8f"/>
<rect x="430.77" y="401.73" width="5.94" height="9.81" fill="#73ff8c"/>
<rect x="434.71" y="401.73" width="5.94" height="9.81" fill="#75ff8a"/>
<rect x="438.65" y="401.73" width="5.94" height="9.81" fill="#78ff87"/>
<rect x="442.60" y="401.73" width="5.94" height="9.81" fill="#7aff85"/>
<rect x="446.54" y="401.73" width="5.94" height="9.81" fill="#7dff82"/>
<rect x="450.48" y="401.73" width="5.94" height="9.81" fill="#80ff80"/>
<rect x="454.42" y="401.73" width="5.94" height="9.81" fill="#82ff7d"/>
<rect x="458.36" y="401.73" width="5.94" height="9.81" fill="#85ff7a"/>
<rect x="462.30" y="401.73" width="5.94" height="9.81" fill="#86ff79"/>
<rect x="466.25" y="401.73" width="5.94" height="9.81" fill="#87ff78"/>
<rect x="470.19" y="401.73" width="5.94" height="9.81" fill="#88ff77"/>
<rect x="474.13" y="401.73" width="53.24" height="9.81" fill="#8aff75"/>
<rect x="525.37" y="401.73" width="5.94" height="9.81" fill="#8cff73"/>
<rect x="529.31" y="401.73" width="5.94" height="9.81" fill="#8fff70"/>
<rect x="533.25" y="401.73" width="5.94" height="9.81" fill="#91ff6e"/>
<rect x="537.20" y="401.73" width="5.94" height="9.81" fill="#94ff6b"/>
<rect x="541.14" y="401.73" width="5.94" height="9.81" fill="#96ff69"/>
<rect x="545.08" y="401.73" width="5.94" height="9.81" fill="#99ff66"/>
<rect x="549.02" y="401.73" width="5.94" height="9.81" fill="#9cff63"/>
<rect x="552.96" y="401.73" width="5.94" height="9.81" fill="#9eff61"/>
<rect x="556.90" y="401.73" width="5.94" height="9.81" fill="#a4ff5b"/>
<rect x="560.85" y="401.73" width="5.94" height="9.81" fill="#abff54"/>
<rect x="564.79" y="401.73" width="5.94" height="9.81" fill="#b1ff4e"/>
<rect x="568.73" y="401.73" width="5.94" height="9.81" fill="#b8ff47"/>
<rect x="572.67" y="401.73" width="5.94" height="9.81" fill="#beff41"/>
<rect x="576.61" y="401.73" width="5.94" height="9.81" fill="#c4ff3b"/>
<rect x="580.55" y="401.73" width="5.94" height="9.81" fill="#cbff34"/>
<rect x="584.50" y="401.73" width="5.94" height="9.81" fill="#d1ff2e"/>
<rect x="588.44" y="401.73" width="5.94" height="9.81" fill="#d6ff29"/>
<rect x="592.38" y="401.73" width="5.94" height="9.81" fill="#dbff24"/>
<rect x="596.32" y="401.73" width="5.94" height="9.81" fill="#e0ff1f"/>
<rect x="600.26" y="401.73" width="5.94" height="9.81" fill="#e5ff1a"/>
<rect x="604.20" y="401.73" width="5.94" height="9.81" fill="#ebff14"/>
<rect x="608.15" y="401.73" width="5.94" height="9.81" fill="#f0ff0f"/>
<rect x="612.09" y="401.73" width="5.91" height="9.81" fill="#f5ff0a"/>
<rect x="616.03" y="401.73" width="1.97" height="9.81" fill="#faff05"/>
<rect x="381.50" y="410.33" width="3.97" height="9.81" fill="#24ffdb"/>
<rect x="383.47" y="410.33" width="5.94" height="9.81" fill="#29ffd6"/>
<rect x="387.41" y="410.33" width="5.94" height="9.81" fill="#2effd1"/>
<rect x="391.35" y="410.33" width="5.94" height="9.81" fill="#33ffcc"/>
<rect x="395.30" y="410.33" width="5.94" height="9.81" fill="#38ffc7"/>
<rect x="399.24" y="410.33" width="5.94" height="9.81" fill="#3dffc2"/>
<rect x="403.18" y="410.33" width="5.94" height="9.81" fill="#42ffbd"/>
<rect x="407.12" y="410.33" width="5.94" height="9.81" fill="#47ffb8"/>
<rect x="411.06" y="410.33" width="5.94" height="9.81" fill="#4dffb2"/>
<rect x="415.00" y="410.33" width="5.94" height="9.81" fill="#4effb1"/>
<rect x="418.95" y="410.33" width="5.94" height="9.81" fill="#4fffb0"/>
<rect x="422.89" y="410.33" width="5.94" height="9.81" fill="#50ffaf"/>
<rect x="426.83" y="410.33" width="5.94" height="9.81" fill="#52ffad"/>
<rect x="430.77" y="410.33" width="5.94" height="9.81" fill="#54ffab"/>
<rect x="434.71" y="410.33" width="5.94" height="9.81" fill="#57ffa8"/>
<rect x="438.65" y="410.33" width="5.94" height="9.81" fill="#59ffa6"/>
<rect x="442.60" y="410.33" width="5.94" height="9.81" fill="#5cffa3"/>
<rect x="446.54" y="410.33" width="5.94" height="9.81" fill="#5dffa2"/>
<rect x="450.48" y="410.33" width="5.94" height="9.81" fill="#5effa1"/>
<rect x="454.42" y="410.33" width="5.94" height="9.81" fill="#60ff9f"/>
<rect x="458.36" y="410.33" width="5.94" height="9.81" fill="#61ff9e"/>
<rect x="462.30" y="410.33" width="5.94" height="9.81" fill="#63ff9c"/>
<rect x="466.25" y="410.33" width="5.94" height="9.81" fill="#66ff99"/>
<rect x="470.19" y="410.33" width="5.94" height="9.81" fill="#69ff96"/>
<rect x="474.13" y="410.33" width="21.71" height="9.81" fill="#6bff94"/>
<rect x="493.84" y="410.33" width="5.94" height="9.81" fill="#69ff96"/>
<rect x="497.78" y="410.33" width="5.94" height="9.81" fill="#66ff99"/>
<rect x="501.72" y="410.33" width="5.94" height="9.81" fill="#63ff9c"/>
<rect x="505.66" y="410.33" width="5.94" height="9.81" fill="#61ff9e"/>
<rect x="509.60" y="410.33" width="5.94" height="9.81" fill="#5effa1"/>
<rect x="513.55" y="410.33" width="5.94" height="9.81" fill="#5cffa3"/>
<rect x="517.49" y="410.33" width="5.94" height="9.81" fill="#59ffa6"/>
<rect x="521.43" y="410.33" width="21.71" height="9.81" fill="#57ffa8"/>
<rect x="541.14" y="410.33" width="5.94" height="9.81" fill="#59ffa6"/>
<rect x="545.08" y="410.33" width="5.94" height="9.81" fill="#5cffa3"/>
<rect x="549.02" y="410.33" width="5.94" height="9.81" fill="#5effa1"/>
<rect x="552.96" y="410.33" width="5.94" height="9.81" fill="#61ff9e"/>
<rect x="556.90" y="410.33" width="5.94" height="9.81" fill="#67ff98"/>
<rect x="560.85" y="410.33" width="5.94" height="9.81" fill="#6eff91"/>
<rect x="564.79" y="410.33" width="5.94" height="9.81" fill="#74ff8b"/>
<rect x="568.73" y="410.33" width="5.94" height="9.81" fill="#7aff85"/>
<rect x="572.67" y="410.33" width="5.94" height="9.81" fill="#83ff7c"/>
<rect x="576.61" y="410.33" width="5.94" height="9.81" fill="#8cff73"/>
<rect x="580.55" y="410.33" width="5.94" height="9.81" fill="#95ff6a"/>
<rect x="584.50" y="410.33" width="5.94" height="9.81" fill="#9eff61"/>
<rect x="588.44" y="410.33" width="5.94" height="9.81" fill="#a6ff59"/>
<rect x="592.38" y="410.33" width="5.94" height="9.81" fill="#adff52"/>
<rect x="596.32" y="410.33" width="5.94" height="9.81" fill="#b5ff4a"/>
<rect x="600.26" y="410.33" width="5.94" height="9.81" fill="#bdff42"/>
<rect x="604.20" y="410.33" width="5.94" height="9.81" fill="#c2ff3d"/>
<rect x="608.15" y="410.33" width="5.94" height="9.81" fill="#c7ff38"/>
<rect x="612.09" y="410.33" width="5.91" height="9.81" fill="#ccff33"/>
<rect x="616.03" y="410.33" width="1.97" height="9.81" fill="#d1ff2e"/>
<rect x="381.50" y="418.94" width="3.97" height="9.81" fill="#00f0ff"/>
<rect x="383.47" y="418.94" width="5.94" height="9.81" fill="#00f5ff"/>
<rect x="387.41" y="418.94" width="5.94" height="9.81" fill="#00faff"/>
<rect x="391.35" y="418.94" width="5.94" height="9.81" fill="#00ffff"/>
<rect x="395.30" y="418.94" width="5.94" height="9.81" fill="#05fffa"/>
<rect x="399.24" y="418.94" width="5.94" height="9.81" fill="#0afff5"/>
<rect x="403.18" y="418.94" width="5.94" height="9.81" fill="#0ffff0"/>
<rect x="407.12" y="418.94" width="5.94" height="9.81" fill="#14ffeb"/>
<rect x="411.06" y="418.94" width="5.94" height="9.81" fill="#1affe5"/>
<rect x="415.00" y="418.94" width="5.94" height="9.81" fill="#1cffe3"/>
<rect x="418.95" y="418.94" width="5.94" height="9.81" fill="#1fffe0"/>
<rect x="422.89" y="418.94" width="5.94" height="9.81" fill="#21ffde"/>
<rect x="426.83" y="418.94" width="5.94" height="9.81" fill="#24ffdb"/>
<rect x="430.77" y="418.94" width="5.94" height="9.81" fill="#26ffd9"/>
<rect x="434.71" y="418.94" width="5.94" height="9.81" fill="#29ffd6"/>
<rect x="438.65" y="418.94" width="5.94" height="9.81" fill="#2bffd4"/>
<rect x="442.60" y="418.94" width="5.94" height="9.81" fill="#2effd1"/>
<rect x="446.54" y="418.94" width="5.94" height="9.81" fill="#30ffcf"/>
<rect x="450.48" y="418.94" width="5.94" height="9.81" fill="#33ffcc"/>
<rect x="454.42" y="418.94" width="5.94" height="9.81" fill="#36ffc9"/>
<rect x="458.36" y="418.94" width="5.94" height="9.81" fill="#38ffc7"/>
<rect x="462.30" y="418.94" width="5.94" height="9.81" fill="#3bffc4"/>
<rect x="466.25" y="418.94" width="5.94" height="9.81" fill="#3dffc2"/>
<rect x="470.19" y="418.94" width="5.94" height="9.81" fill="#40ffbf"/>
<rect x="474.13" y="418.94" width="21.71" height="9.81" fill="#42ffbd"/>
<rect x="493.84" y="418.94" width="5.94" height="9.81" fill="#40ffbf"/>
<rect x="497.78" y="418.94" width="5.94" height="9.81" fill="#3dffc2"/>
<rect x="501.72" y="418.94" width="5.94" height="9.81" fill="#3bffc4"/>
<rect x="505.66" y="418.94" width="5.94" height="9.81" fill="#38ffc7"/>
<rect x="509.60" y="418.94" width="5.94" height="9.81" fill="#33ffcc"/>
<rect x="513.55" y="418.94" width="5.94" height="9.81" fill="#2effd1"/>
<rect x="517.49" y="418.94" width="5.94" height="9.81" fill="#29ffd6"/>
<rect x="521.43" y="418.94" width="5.94" height="9.81" fill="#24ffdb"/>
<rect x="525.37" y="418.94" width="5.94" height="9.81" fill="#21ffde"/>
<rect x="529.31" y="418.94" width="5.94" height="9.81" fill="#1fffe0"/>
<rect x="533.25" y="418.94" width="5.94" height="9.81" fill="#1cffe3"/>
<rect x="537.20" y="418.94" width="21.71" height="9.81" fill="#1affe5"/>
<rect x="556.90" y="418.94" width="5.94" height="9.81" fill="#21ffde"/>
<rect x="560.85" y="418.94" width="5.94" height="9.81" fill="#29ffd6"/>
<rect x="564.79" y="418.94" width="5.94" height="9.81" fill="#30ffcf"/>
<rect x="568.73" y="418.94" width="5.94" height="9.81" fill="#38ffc7"/>
<rect x="572.67" y="418.94" width="5.94" height="9.81" fill="#42ffbd"/>
<rect x="576.61" y="418.94" width="5.94" height="9.81" fill="#4dffb2"/>
<rect x="580.55" y="418.94" width="5.94" height="9.81" fill="#57ffa8"/>
<rect x="584.50" y="418.94" width="5.94" height="9.81" fill="#61ff9e"/>
<rect x="588.44" y="418.94" width="5.94" height="9.81" fill="#6eff91"/>
<rect x="592.38" y="418.94" width="5.94" height="9.81" fill="#7aff85"/>
<rect x="596.32" y="418.94" width="5.94" height="9.81" fill="#87ff78"/>
<rect x="600.26" y="418.94" width="5.94" height="9.81" fill="#94ff6b"/>
<rect x="604.20" y="418.94" width="5.94" height="9.81" fill="#9cff63"/>
<rect x="608.15" y="418.94" width="5.94" height="9.81" fill="#a3ff5c"/>
<rect x="612.09" y="418.94" width="5.91" height="9.81" fill="#abff54"/>
<rect x="616.03" y="418.94" width="1.97" height="9.81" fill="#b3ff4c"/>
<rect x="381.50" y="427.54" width="3.97" height="8.61" fill="#00bdff"/>
<rect x="383.47" y="427.54" width="5.94" height="8.61" fill="#00c2ff"/>
<rect x="387.41" y="427.54" width="5.94" height="8.61" fill="#00c7ff"/>
<rect x="391.35" y="427.54" width="5.94" height="8.61" fill="#00ccff"/>
<rect x="395.30" y="427.54" width="5.94" height="8.61" fill="#00d1ff"/>
<rect x="399.24" y="427.54" width="5.94" height="8.61" fill="#00d6ff"/>
<rect x="403.18" y="427.54" width="5.94" height="8.61" fill="#00dbff"/>
<rect x="407.12" y="427.54" width="5.94" height="8.61" fill="#00e0ff"/>
<rect x="411.06" y="427.54" width="5.94" height="8.61" fill="#00e5ff"/>
<rect x="415.00" y="427.54" width="5.94" height="8.61" fill="#00e8ff"/>
<rect x="418.95" y="427.54" width="5.94" height="8.61" fill="#00ebff"/>
<rect x="422.89" y="427.54" width="5.94" height="8.61" fill="#00edff"/>
<rect x="426.83" y="427.54" width="5.94" height="8.61" fill="#00f0ff"/>
<rect x="430.77" y="427.54" width="5.94" height="8.61" fill="#00f5ff"/>
<rect x="434.71" y="427.54" width="5.94" height="8.61" fill="#00faff"/>
<rect x="438.65" y="427.54" width="5.94" height="8.61" fill="#00ffff"/>
<rect x="442.60" y="427.54" width="5.94" height="8.61" fill="#05fffa"/>
<rect x="446.54" y="427.54" width="5.94" height="8.61" fill="#0afff5"/>
<rect x="450.48" y="427.54" width="5.94" height="8.61" fill="#0ffff0"/>
<rect x="454.42" y="427.54" width="5.94" height="8.61" fill="#14ffeb"/>
<rect x="458.36" y="427.54" width="5.94" height="8.61" fill="#1affe5"/>
<rect x="462.30" y="427.54" width="5.94" height="8.61" fill="#1fffe0"/>
<rect x="466.25" y="427.54" width="5.94" height="8.61" fill="#24ffdb"/>
<rect x="470.19" y="427.54" width="5.94" height="8.61" fill="#29ffd6"/>
<rect x="474.13" y="427.54" width="21.71" height="8.61" fill="#2effd1"/>
<rect x="493.84" y="427.54" width="5.94" height="8.61" fill="#29ffd6"/>
<rect x="497.78" y="427.54" width="5.94" height="8.61" fill="#24ffdb"/>
<rect x="501.72" y="427.54" width="5.94" height="8.61" fill="#1fffe0"/>
<rect x="505.66" y="427.54" width="5.94" height="8.61" fill="#1affe5"/>
<rect x="509.60" y="427.54" width="5.94" height="8.61" fill="#14ffeb"/>
<rect x="513.55" y="427.54" width="5.94" height="8.61" fill="#0ffff0"/>
<rect x="517.49" y="427.54" width="5.94" height="8.61" fill="#0afff5"/>
<rect x="521.43" y="427.54" width="5.94" height="8.61" fill="#05fffa"/>
<rect x="525.37" y="427.54" width="5.94" height="8.61" fill="#03fffc"/>
<rect x="529.31" y="427.54" width="5.94" height="8.61" fill="#00ffff"/>
<rect x="533.25" y="427.54" width="5.94" height="8.61" fill="#00fcff"/>
<rect x="537.20" y="427.54" width="21.71" height="8.61" fill="#00faff"/>
<rect x="556.90" y="427.54" width="5.94" height="8.61" fill="#00ffff"/>
<rect x="560.85" y="427.54" width="5.94" height="8.61" fill="#05fffa"/>
<rect x="564.79" y="427.54" width="5.94" height="8.61" fill="#0afff5"/>
<rect x="568.73" y="427.54" width="5.94" height="8.61" fill="#0ffff0"/>
<rect x="572.67" y="427.54" width="5.94" height="8.61" fill="#1cffe3"/>
<rect x="576.61" y="427.54" width="5.94" height="8.61" fill="#29ffd6"/>
<rect x="580.55" y="427.54" width="5.94" height="8.61" fill="#36ffc9"/>
<rect x="584.50" y="427.54" width="5.94" height="8.61" fill="#42ffbd"/>
<rect x="588.44" y="427.54" width="5.94" height="8.61" fill="#4fffb0"/>
<rect x="592.38" y="427.54" width="5.94" height="8.61" fill="#5cffa3"/>
<rect x="596.32" y="427.54" width="5.94" height="8.61" fill="#69ff96"/>
<rect x="600.26" y="427.54" width="5.94" height="8.61" fill="#75ff8a"/>
<rect x="604.20" y="427.54" width="5.94" height="8.61" fill="#7dff82"/>
<rect x="608.15" y="427.54" width="5.94" height="8.61" fill="#85ff7a"/>
<rect x="612.09" y="427.54" width="5.91" height="8.61" fill="#8cff73"/>
<rect x="616.03" y="427.54" width="1.97" height="8.61" fill="#94ff6b"/>
<rect x="48.40" y="25.60" width="236.20" height="163.80" fill="none" stroke="#262626" stroke-width="1"/>
<text x="48.40" y="209.40" text-anchor="middle" class="tk">700</text>
<path d="M127.13 189.40v-2.9M127.13 25.60v2.9" stroke="#262626" stroke-width="1"/>
<text x="127.13" y="209.40" text-anchor="middle" class="tk">800</text>
<path d="M205.87 189.40v-2.9M205.87 25.60v2.9" stroke="#262626" stroke-width="1"/>
<text x="205.87" y="209.40" text-anchor="middle" class="tk">900</text>
<text x="284.60" y="209.40" text-anchor="middle" class="tk">1000</text>
<path d="M48.40 38.93h2.9M284.60 38.93h-2.9" stroke="#262626" stroke-width="1"/>
<text x="43.40" y="44.63" text-anchor="end" class="tk">40</text>
<path d="M48.40 73.42h2.9M284.60 73.42h-2.9" stroke="#262626" stroke-width="1"/>
<text x="43.40" y="79.12" text-anchor="end" class="tk">20</text>
<path d="M48.40 107.90h2.9M284.60 107.90h-2.9" stroke="#262626" stroke-width="1"/>
<text x="43.40" y="113.60" text-anchor="end" class="tk">0</text>
<path d="M48.40 142.38h2.9M284.60 142.38h-2.9" stroke="#262626" stroke-width="1"/>
<text x="43.40" y="148.08" text-anchor="end" class="tk">-20</text>
<path d="M48.40 176.87h2.9M284.60 176.87h-2.9" stroke="#262626" stroke-width="1"/>
<text x="43.40" y="182.57" text-anchor="end" class="tk">-40</text>
<text x="166.50" y="229.60" text-anchor="middle" class="lb">wavelength [nm]</text>
<text transform="translate(14.10 107.50) rotate(-90)" text-anchor="middle" class="lb"><tspan class="th">θ</tspan> [°]</text>
<text x="113.60" y="14.90" class="lb">Ag-PSN: T<tspan class="sb" dx="0.4" dy="7.7">LCP</tspan></text>
<text x="8.60" y="18.10" class="lt">a</text>
<rect x="381.50" y="25.45" width="236.40" height="163.95" fill="none" stroke="#262626" stroke-width="1"/>
<text x="381.50" y="209.40" text-anchor="middle" class="tk">700</text>
<path d="M460.30 189.40v-2.9M460.30 25.45v2.9" stroke="#262626" stroke-width="1"/>
<text x="460.30" y="209.40" text-anchor="middle" class="tk">800</text>
<path d="M539.10 189.40v-2.9M539.10 25.45v2.9" stroke="#262626" stroke-width="1"/>
<text x="539.10" y="209.40" text-anchor="middle" class="tk">900</text>
<text x="617.90" y="209.40" text-anchor="middle" class="tk">1000</text>
<path d="M381.50 38.79h2.9M617.90 38.79h-2.9" stroke="#262626" stroke-width="1"/>
<text x="376.50" y="44.49" text-anchor="end" class="tk">40</text>
<path d="M381.50 73.31h2.9M617.90 73.31h-2.9" stroke="#262626" stroke-width="1"/>
<text x="376.50" y="79.01" text-anchor="end" class="tk">20</text>
<path d="M381.50 107.83h2.9M617.90 107.83h-2.9" stroke="#262626" stroke-width="1"/>
<text x="376.50" y="113.53" text-anchor="end" class="tk">0</text>
<path d="M381.50 142.34h2.9M617.90 142.34h-2.9" stroke="#262626" stroke-width="1"/>
<text x="376.50" y="148.04" text-anchor="end" class="tk">-20</text>
<path d="M381.50 176.86h2.9M617.90 176.86h-2.9" stroke="#262626" stroke-width="1"/>
<text x="376.50" y="182.56" text-anchor="end" class="tk">-40</text>
<text x="499.70" y="229.60" text-anchor="middle" class="lb">wavelength [nm]</text>
<text transform="translate(347.20 107.42) rotate(-90)" text-anchor="middle" class="lb"><tspan class="th">θ</tspan> [°]</text>
<text x="446.20" y="14.75" class="lb">Ag-PSN: T<tspan class="sb" dx="0.4" dy="7.7">RCP</tspan></text>
<text x="342.00" y="18.10" class="lt">b</text>
<rect x="48.50" y="272.65" width="236.10" height="163.50" fill="none" stroke="#262626" stroke-width="1"/>
<text x="48.50" y="456.15" text-anchor="middle" class="tk">700</text>
<path d="M127.20 436.15v-2.9M127.20 272.65v2.9" stroke="#262626" stroke-width="1"/>
<text x="127.20" y="456.15" text-anchor="middle" class="tk">800</text>
<path d="M205.90 436.15v-2.9M205.90 272.65v2.9" stroke="#262626" stroke-width="1"/>
<text x="205.90" y="456.15" text-anchor="middle" class="tk">900</text>
<text x="284.60" y="456.15" text-anchor="middle" class="tk">1000</text>
<path d="M48.50 285.96h2.9M284.60 285.96h-2.9" stroke="#262626" stroke-width="1"/>
<text x="43.50" y="291.66" text-anchor="end" class="tk">40</text>
<path d="M48.50 320.38h2.9M284.60 320.38h-2.9" stroke="#262626" stroke-width="1"/>
<text x="43.50" y="326.08" text-anchor="end" class="tk">20</text>
<path d="M48.50 354.80h2.9M284.60 354.80h-2.9" stroke="#262626" stroke-width="1"/>
<text x="43.50" y="360.50" text-anchor="end" class="tk">0</text>
<path d="M48.50 389.22h2.9M284.60 389.22h-2.9" stroke="#262626" stroke-width="1"/>
<text x="43.50" y="394.92" text-anchor="end" class="tk">-20</text>
<path d="M48.50 423.64h2.9M284.60 423.64h-2.9" stroke="#262626" stroke-width="1"/>
<text x="43.50" y="429.34" text-anchor="end" class="tk">-40</text>
<text x="166.55" y="476.35" text-anchor="middle" class="lb">wavelength [nm]</text>
<text transform="translate(14.20 354.40) rotate(-90)" text-anchor="middle" class="lb"><tspan class="th">θ</tspan> [°]</text>
<text x="113.60" y="261.95" class="lb">Ag-NHA: T<tspan class="sb" dx="0.4" dy="7.7">LCP</tspan></text>
<text x="8.80" y="262.20" class="lt">c</text>
<rect x="381.50" y="272.65" width="236.50" height="163.50" fill="none" stroke="#262626" stroke-width="1"/>
<text x="381.50" y="456.15" text-anchor="middle" class="tk">700</text>
<path d="M460.33 436.15v-2.9M460.33 272.65v2.9" stroke="#262626" stroke-width="1"/>
<text x="460.33" y="456.15" text-anchor="middle" class="tk">800</text>
<path d="M539.17 436.15v-2.9M539.17 272.65v2.9" stroke="#262626" stroke-width="1"/>
<text x="539.17" y="456.15" text-anchor="middle" class="tk">900</text>
<text x="618.00" y="456.15" text-anchor="middle" class="tk">1000</text>
<path d="M381.50 285.96h2.9M618.00 285.96h-2.9" stroke="#262626" stroke-width="1"/>
<text x="376.50" y="291.66" text-anchor="end" class="tk">40</text>
<path d="M381.50 320.38h2.9M618.00 320.38h-2.9" stroke="#262626" stroke-width="1"/>
<text x="376.50" y="326.08" text-anchor="end" class="tk">20</text>
<path d="M381.50 354.80h2.9M618.00 354.80h-2.9" stroke="#262626" stroke-width="1"/>
<text x="376.50" y="360.50" text-anchor="end" class="tk">0</text>
<path d="M381.50 389.22h2.9M618.00 389.22h-2.9" stroke="#262626" stroke-width="1"/>
<text x="376.50" y="394.92" text-anchor="end" class="tk">-20</text>
<path d="M381.50 423.64h2.9M618.00 423.64h-2.9" stroke="#262626" stroke-width="1"/>
<text x="376.50" y="429.34" text-anchor="end" class="tk">-40</text>
<text x="499.75" y="476.35" text-anchor="middle" class="lb">wavelength [nm]</text>
<text transform="translate(347.20 354.40) rotate(-90)" text-anchor="middle" class="lb"><tspan class="th">θ</tspan> [°]</text>
<text x="446.20" y="261.95" class="lb">Ag-NHA: T<tspan class="sb" dx="0.4" dy="7.7">RCP</tspan></text>
<text x="341.80" y="262.20" class="lt">d</text>
<defs><linearGradient id="jet" x1="0" y1="0" x2="0" y2="1"><stop offset="0.0000" stop-color="#800000"/><stop offset="0.0156" stop-color="#8f0000"/><stop offset="0.0312" stop-color="#9f0000"/><stop offset="0.0469" stop-color="#af0000"/><stop offset="0.0625" stop-color="#bf0000"/><stop offset="0.0781" stop-color="#cf0000"/><stop offset="0.0938" stop-color="#df0000"/><stop offset="0.1094" stop-color="#ef0000"/><stop offset="0.1250" stop-color="#ff0000"/><stop offset="0.1406" stop-color="#ff1000"/><stop offset="0.1562" stop-color="#ff2000"/><stop offset="0.1719" stop-color="#ff3000"/><stop offset="0.1875" stop-color="#ff4000"/><stop offset="0.2031" stop-color="#ff5000"/><stop offset="0.2188" stop-color="#ff6000"/><stop offset="0.2344" stop-color="#ff7000"/><stop offset="0.2500" stop-color="#ff8000"/><stop offset="0.2656" stop-color="#ff8f00"/><stop offset="0.2812" stop-color="#ff9f00"/><stop offset="0.2969" stop-color="#ffaf00"/><stop offset="0.3125" stop-color="#ffbf00"/><stop offset="0.3281" stop-color="#ffcf00"/><stop offset="0.3438" stop-color="#ffdf00"/><stop offset="0.3594" stop-color="#ffef00"/><stop offset="0.3750" stop-color="#ffff00"/><stop offset="0.3906" stop-color="#efff10"/><stop offset="0.4062" stop-color="#dfff20"/><stop offset="0.4219" stop-color="#cfff30"/><stop offset="0.4375" stop-color="#bfff40"/><stop offset="0.4531" stop-color="#afff50"/><stop offset="0.4688" stop-color="#9fff60"/><stop offset="0.4844" stop-color="#8fff70"/><stop offset="0.5000" stop-color="#80ff80"/><stop offset="0.5156" stop-color="#70ff8f"/><stop offset="0.5312" stop-color="#60ff9f"/><stop offset="0.5469" stop-color="#50ffaf"/><stop offset="0.5625" stop-color="#40ffbf"/><stop offset="0.5781" stop-color="#30ffcf"/><stop offset="0.5938" stop-color="#20ffdf"/><stop offset="0.6094" stop-color="#10ffef"/><stop offset="0.6250" stop-color="#00ffff"/><stop offset="0.6406" stop-color="#00efff"/><stop offset="0.6562" stop-color="#00dfff"/><stop offset="0.6719" stop-color="#00cfff"/><stop offset="0.6875" stop-color="#00bfff"/><stop offset="0.7031" stop-color="#00afff"/><stop offset="0.7188" stop-color="#009fff"/><stop offset="0.7344" stop-color="#008fff"/><stop offset="0.7500" stop-color="#0080ff"/><stop offset="0.7656" stop-color="#0070ff"/><stop offset="0.7812" stop-color="#0060ff"/><stop offset="0.7969" stop-color="#0050ff"/><stop offset="0.8125" stop-color="#0040ff"/><stop offset="0.8281" stop-color="#0030ff"/><stop offset="0.8438" stop-color="#0020ff"/><stop offset="0.8594" stop-color="#0010ff"/><stop offset="0.8750" stop-color="#0000ff"/><stop offset="0.8906" stop-color="#0000ef"/><stop offset="0.9062" stop-color="#0000df"/><stop offset="0.9219" stop-color="#0000cf"/><stop offset="0.9375" stop-color="#0000bf"/><stop offset="0.9531" stop-color="#0000af"/><stop offset="0.9688" stop-color="#00009f"/><stop offset="0.9844" stop-color="#00008f"/><stop offset="1.0000" stop-color="#000080"/></linearGradient></defs><rect x="649.30" y="166.20" width="9.40" height="140.05" fill="url(#jet)" stroke="#262626" stroke-width="0.8"/><path d="M658.70 259.57h-1.6" stroke="#262626" stroke-width="0.8"/><path d="M658.70 212.88h-1.6" stroke="#262626" stroke-width="0.8"/><text x="662.9" y="170.75" class="cbl">0.8</text><text x="662.9" y="312.85" class="cbl">0.2</text>
</svg>
</body></html>
